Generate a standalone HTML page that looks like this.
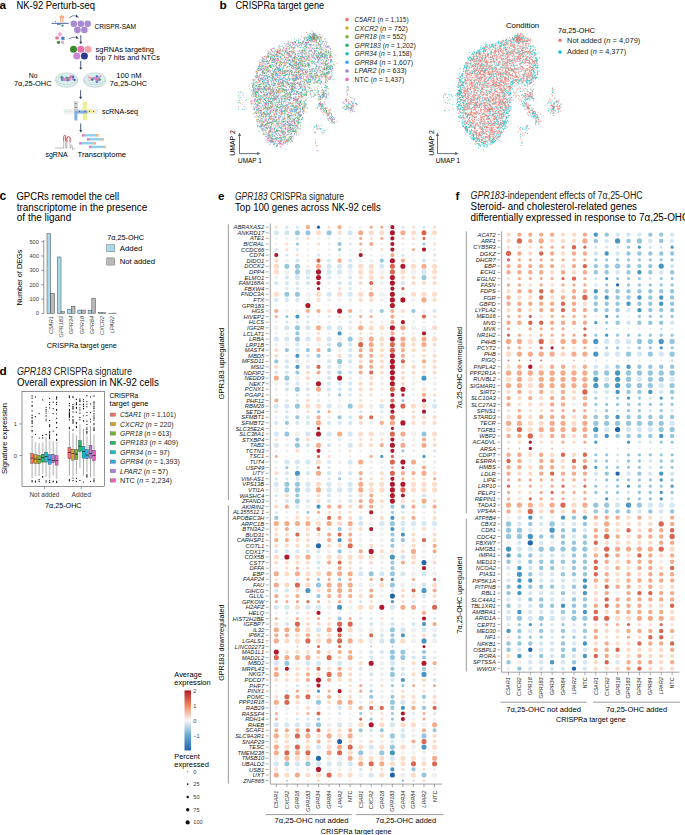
<!DOCTYPE html>
<html><head><meta charset="utf-8"><style>
html,body{margin:0;padding:0;background:#fff;width:685px;height:835px;overflow:hidden}
svg{display:block}
text{font-family:"Liberation Sans",sans-serif}
</style></head><body>
<svg width="685" height="835" viewBox="0 0 685 835">
<rect width="685" height="835" fill="#fff"/>
<path d="M318.5 227.2h0" stroke="#2166ac" stroke-width="3.20" stroke-linecap="round"/>
<path d="M318.5 545.8h0M424.0 562.6h0M392.4 596.1h0M339.6 741.5h0M318.5 758.2h0M392.4 775.0h0" stroke="#2166ac" stroke-width="5.10" stroke-linecap="round"/>
<path d="M402.9 780.6h0" stroke="#4595c5" stroke-width="1.80" stroke-linecap="round"/>
<path d="M381.8 456.4h0M424.0 456.4h0M392.4 579.4h0M392.4 601.7h0M318.5 691.2h0" stroke="#4595c5" stroke-width="3.20" stroke-linecap="round"/>
<path d="M297.4 316.6h0M339.6 333.4h0M297.4 355.8h0M297.4 366.9h0M318.5 506.7h0M392.4 517.9h0M392.4 529.1h0M402.9 534.6h0M339.6 540.2h0M424.0 624.1h0M402.9 635.3h0M402.9 680.0h0M402.9 707.9h0M392.4 769.4h0" stroke="#4595c5" stroke-width="4.20" stroke-linecap="round"/>
<path d="M424.0 378.1h0M297.4 473.2h0M392.4 557.0h0M307.9 590.5h0M424.0 590.5h0M339.6 607.3h0M424.0 640.9h0M424.0 674.4h0M424.0 747.1h0M392.4 752.7h0" stroke="#4595c5" stroke-width="5.10" stroke-linecap="round"/>
<path d="M371.2 646.5h0M392.4 646.5h0M286.9 780.6h0" stroke="#95c6df" stroke-width="1.80" stroke-linecap="round"/>
<path d="M297.4 244.0h0M424.0 244.0h0M339.6 249.6h0M286.9 316.6h0M339.6 394.9h0M402.9 400.5h0M318.5 411.7h0M402.9 450.8h0M286.9 467.6h0M339.6 478.8h0M307.9 512.3h0M392.4 512.3h0M318.5 579.4h0M339.6 579.4h0M392.4 685.6h0M402.9 685.6h0M371.2 691.2h0M360.7 713.5h0M392.4 713.5h0M318.5 719.1h0M371.2 719.1h0M392.4 719.1h0" stroke="#95c6df" stroke-width="3.20" stroke-linecap="round"/>
<path d="M339.6 244.0h0M381.8 260.7h0M381.8 311.0h0M413.5 311.0h0M297.4 333.4h0M286.9 350.2h0M307.9 350.2h0M329.1 350.2h0M318.5 355.8h0M276.3 361.4h0M297.4 372.5h0M339.6 372.5h0M297.4 417.3h0M339.6 417.3h0M286.9 422.9h0M297.4 439.6h0M297.4 495.5h0M392.4 506.7h0M402.9 506.7h0M276.3 517.9h0M339.6 529.1h0M392.4 534.6h0M392.4 540.2h0M402.9 540.2h0M392.4 545.8h0M339.6 551.4h0M392.4 562.6h0M392.4 568.2h0M318.5 596.1h0M339.6 618.5h0M392.4 635.3h0M424.0 652.0h0M424.0 657.6h0M392.4 668.8h0M424.0 668.8h0M371.2 696.8h0M392.4 696.8h0M424.0 696.8h0M392.4 707.9h0M424.0 707.9h0M360.7 730.3h0M381.8 730.3h0M434.6 730.3h0M413.5 769.4h0" stroke="#95c6df" stroke-width="4.20" stroke-linecap="round"/>
<path d="M297.4 232.8h0M307.9 232.8h0M329.1 232.8h0M286.9 266.3h0M297.4 266.3h0M297.4 271.9h0M424.0 277.5h0M286.9 294.3h0M297.4 294.3h0M297.4 327.8h0M297.4 339.0h0M350.2 339.0h0M339.6 344.6h0M339.6 361.4h0M286.9 378.1h0M297.4 389.3h0M297.4 406.1h0M350.2 406.1h0M286.9 434.0h0M424.0 434.0h0M297.4 445.2h0M286.9 484.3h0M297.4 484.3h0M286.9 489.9h0M297.4 489.9h0M297.4 501.1h0M392.4 523.5h0M371.2 573.8h0M392.4 573.8h0M318.5 585.0h0M392.4 585.0h0M392.4 629.7h0M392.4 640.9h0M392.4 652.0h0M402.9 652.0h0M392.4 657.6h0M402.9 657.6h0M286.9 663.2h0M392.4 674.4h0M318.5 702.3h0M392.4 702.3h0M318.5 724.7h0M392.4 735.9h0M424.0 735.9h0M392.4 747.1h0M360.7 752.7h0M381.8 752.7h0M286.9 763.8h0M307.9 763.8h0M424.0 775.0h0" stroke="#95c6df" stroke-width="5.10" stroke-linecap="round"/>
<path d="M307.9 288.7h0M329.1 288.7h0M286.9 428.4h0M434.6 456.4h0" stroke="#d3e6f1" stroke-width="1.80" stroke-linecap="round"/>
<path d="M286.9 227.2h0M297.4 227.2h0M402.9 227.2h0M424.0 227.2h0M297.4 238.4h0M350.2 244.0h0M276.3 249.6h0M297.4 249.6h0M286.9 255.1h0M318.5 255.1h0M402.9 255.1h0M434.6 255.1h0M286.9 288.7h0M297.4 288.7h0M350.2 288.7h0M307.9 316.6h0M329.1 316.6h0M350.2 316.6h0M286.9 322.2h0M297.4 322.2h0M307.9 322.2h0M350.2 322.2h0M297.4 394.9h0M307.9 394.9h0M329.1 394.9h0M350.2 394.9h0M286.9 400.5h0M297.4 400.5h0M318.5 400.5h0M434.6 400.5h0M286.9 411.7h0M360.7 411.7h0M381.8 411.7h0M339.6 439.6h0M402.9 439.6h0M434.6 450.8h0M297.4 467.6h0M329.1 467.6h0M276.3 478.8h0M286.9 478.8h0M329.1 478.8h0M276.3 495.5h0M350.2 495.5h0M276.3 512.3h0M402.9 512.3h0M318.5 568.2h0M360.7 568.2h0M297.4 579.4h0M360.7 601.7h0M413.5 601.7h0M286.9 612.9h0M297.4 612.9h0M360.7 618.5h0M371.2 618.5h0M392.4 618.5h0M434.6 618.5h0M297.4 685.6h0M307.9 685.6h0M371.2 685.6h0M286.9 691.2h0M392.4 691.2h0M339.6 713.5h0M413.5 713.5h0M434.6 713.5h0M297.4 719.1h0M307.9 719.1h0M360.7 769.4h0" stroke="#d3e6f1" stroke-width="3.20" stroke-linecap="round"/>
<path d="M297.4 260.7h0M329.1 260.7h0M350.2 260.7h0M424.0 260.7h0M286.9 277.5h0M307.9 277.5h0M329.1 277.5h0M350.2 277.5h0M276.3 283.1h0M286.9 283.1h0M297.4 283.1h0M307.9 283.1h0M339.6 283.1h0M350.2 283.1h0M402.9 283.1h0M276.3 299.9h0M286.9 299.9h0M297.4 299.9h0M371.2 311.0h0M434.6 311.0h0M297.4 344.6h0M329.1 344.6h0M350.2 344.6h0M297.4 350.2h0M350.2 350.2h0M307.9 355.8h0M350.2 355.8h0M286.9 361.4h0M297.4 361.4h0M329.1 361.4h0M350.2 361.4h0M286.9 366.9h0M307.9 366.9h0M329.1 366.9h0M339.6 366.9h0M276.3 372.5h0M286.9 372.5h0M329.1 372.5h0M350.2 372.5h0M329.1 378.1h0M286.9 383.7h0M297.4 383.7h0M329.1 383.7h0M339.6 383.7h0M350.2 383.7h0M286.9 389.3h0M307.9 389.3h0M329.1 389.3h0M339.6 389.3h0M350.2 389.3h0M286.9 417.3h0M307.9 417.3h0M350.2 417.3h0M276.3 422.9h0M297.4 422.9h0M307.9 422.9h0M329.1 422.9h0M339.6 422.9h0M350.2 422.9h0M307.9 445.2h0M329.1 445.2h0M329.1 462.0h0M286.9 473.2h0M307.9 473.2h0M329.1 473.2h0M339.6 473.2h0M350.2 473.2h0M297.4 478.8h0M329.1 495.5h0M424.0 495.5h0M286.9 501.1h0M307.9 501.1h0M329.1 501.1h0M350.2 501.1h0M297.4 506.7h0M424.0 506.7h0M360.7 517.9h0M402.9 529.1h0M276.3 551.4h0M286.9 551.4h0M297.4 551.4h0M307.9 551.4h0M318.5 551.4h0M318.5 562.6h0M276.3 590.5h0M286.9 590.5h0M392.4 590.5h0M424.0 596.1h0M286.9 624.1h0M371.2 624.1h0M392.4 624.1h0M413.5 624.1h0M381.8 635.3h0M434.6 635.3h0M371.2 652.0h0M381.8 652.0h0M371.2 657.6h0M413.5 657.6h0M360.7 668.8h0M402.9 668.8h0M371.2 674.4h0M402.9 674.4h0M392.4 680.0h0M434.6 680.0h0M339.6 707.9h0M371.2 730.3h0M402.9 730.3h0M392.4 741.5h0" stroke="#d3e6f1" stroke-width="4.20" stroke-linecap="round"/>
<path d="M276.3 232.8h0M286.9 232.8h0M350.2 232.8h0M329.1 266.3h0M339.6 266.3h0M350.2 266.3h0M381.8 266.3h0M307.9 271.9h0M329.1 271.9h0M339.6 271.9h0M424.0 271.9h0M297.4 277.5h0M329.1 294.3h0M350.2 294.3h0M286.9 327.8h0M307.9 327.8h0M329.1 327.8h0M339.6 327.8h0M276.3 339.0h0M286.9 339.0h0M307.9 339.0h0M329.1 339.0h0M276.3 406.1h0M286.9 406.1h0M329.1 406.1h0M381.8 406.1h0M434.6 406.1h0M276.3 434.0h0M307.9 434.0h0M329.1 434.0h0M350.2 434.0h0M276.3 445.2h0M350.2 445.2h0M286.9 462.0h0M297.4 462.0h0M307.9 462.0h0M350.2 462.0h0M276.3 484.3h0M307.9 484.3h0M329.1 484.3h0M350.2 484.3h0M307.9 489.9h0M329.1 489.9h0M339.6 489.9h0M350.2 489.9h0M360.7 523.5h0M381.8 523.5h0M402.9 523.5h0M413.5 523.5h0M424.0 523.5h0M434.6 523.5h0M402.9 557.0h0M360.7 573.8h0M381.8 573.8h0M402.9 573.8h0M424.0 573.8h0M424.0 585.0h0M276.3 607.3h0M286.9 607.3h0M307.9 607.3h0M318.5 607.3h0M392.4 607.3h0M318.5 629.7h0M402.9 629.7h0M424.0 629.7h0M381.8 640.9h0M276.3 663.2h0M307.9 663.2h0M318.5 663.2h0M339.6 663.2h0M392.4 663.2h0M402.9 702.3h0M276.3 724.7h0M286.9 724.7h0M297.4 724.7h0M307.9 724.7h0M339.6 724.7h0M392.4 724.7h0M402.9 735.9h0M318.5 747.1h0M371.2 747.1h0M392.4 758.2h0M276.3 763.8h0M297.4 763.8h0M318.5 763.8h0M329.1 763.8h0M339.6 763.8h0M350.2 763.8h0M371.2 775.0h0" stroke="#d3e6f1" stroke-width="5.10" stroke-linecap="round"/>
<path d="M276.3 288.7h0M381.8 288.7h0M413.5 288.7h0M424.0 288.7h0M434.6 288.7h0M276.3 305.5h0M286.9 305.5h0M297.4 305.5h0M318.5 305.5h0M329.1 305.5h0M339.6 305.5h0M350.2 305.5h0M360.7 305.5h0M371.2 305.5h0M381.8 305.5h0M402.9 305.5h0M413.5 305.5h0M424.0 305.5h0M434.6 305.5h0M297.4 428.4h0M307.9 428.4h0M329.1 428.4h0M339.6 428.4h0M350.2 428.4h0M360.7 428.4h0M371.2 428.4h0M381.8 428.4h0M413.5 428.4h0M434.6 428.4h0M286.9 456.4h0M297.4 456.4h0M307.9 456.4h0M339.6 456.4h0M360.7 456.4h0M413.5 456.4h0M339.6 467.6h0M286.9 579.4h0M402.9 579.4h0M424.0 579.4h0M276.3 646.5h0M286.9 646.5h0M360.7 646.5h0M381.8 646.5h0M402.9 646.5h0M413.5 646.5h0M434.6 646.5h0M276.3 780.6h0M339.6 780.6h0M360.7 780.6h0M371.2 780.6h0M381.8 780.6h0M392.4 780.6h0M434.6 780.6h0" stroke="#f0f0f0" stroke-width="1.80" stroke-linecap="round"/>
<path d="M350.2 227.2h0M360.7 227.2h0M276.3 238.4h0M286.9 238.4h0M318.5 238.4h0M329.1 238.4h0M339.6 238.4h0M350.2 238.4h0M434.6 238.4h0M276.3 244.0h0M307.9 244.0h0M329.1 244.0h0M381.8 244.0h0M402.9 244.0h0M413.5 244.0h0M307.9 249.6h0M329.1 249.6h0M350.2 249.6h0M371.2 249.6h0M402.9 249.6h0M434.6 249.6h0M307.9 255.1h0M329.1 255.1h0M339.6 255.1h0M350.2 255.1h0M371.2 255.1h0M381.8 255.1h0M413.5 255.1h0M424.0 255.1h0M307.9 260.7h0M318.5 316.6h0M381.8 316.6h0M402.9 316.6h0M413.5 316.6h0M276.3 322.2h0M318.5 322.2h0M329.1 322.2h0M339.6 322.2h0M381.8 322.2h0M413.5 322.2h0M424.0 322.2h0M434.6 322.2h0M276.3 333.4h0M286.9 333.4h0M307.9 333.4h0M329.1 333.4h0M350.2 333.4h0M381.8 333.4h0M413.5 333.4h0M434.6 333.4h0M276.3 394.9h0M286.9 394.9h0M318.5 394.9h0M381.8 394.9h0M413.5 394.9h0M329.1 400.5h0M339.6 400.5h0M350.2 400.5h0M371.2 400.5h0M413.5 400.5h0M297.4 411.7h0M339.6 411.7h0M350.2 411.7h0M371.2 411.7h0M402.9 411.7h0M434.6 411.7h0M286.9 439.6h0M318.5 439.6h0M329.1 439.6h0M350.2 439.6h0M413.5 439.6h0M276.3 450.8h0M286.9 450.8h0M307.9 450.8h0M329.1 450.8h0M339.6 450.8h0M360.7 450.8h0M371.2 450.8h0M381.8 450.8h0M413.5 450.8h0M424.0 450.8h0M276.3 467.6h0M307.9 467.6h0M350.2 467.6h0M360.7 467.6h0M371.2 467.6h0M381.8 467.6h0M413.5 467.6h0M434.6 467.6h0M307.9 478.8h0M318.5 478.8h0M350.2 478.8h0M307.9 495.5h0M339.6 495.5h0M381.8 495.5h0M413.5 495.5h0M434.6 495.5h0M286.9 512.3h0M360.7 512.3h0M381.8 512.3h0M424.0 512.3h0M286.9 517.9h0M424.0 517.9h0M276.3 568.2h0M329.1 568.2h0M371.2 568.2h0M381.8 568.2h0M402.9 568.2h0M413.5 568.2h0M434.6 568.2h0M381.8 601.7h0M424.0 601.7h0M276.3 612.9h0M329.1 612.9h0M339.6 612.9h0M350.2 612.9h0M360.7 612.9h0M371.2 612.9h0M381.8 612.9h0M392.4 612.9h0M402.9 612.9h0M413.5 612.9h0M434.6 612.9h0M286.9 618.5h0M402.9 618.5h0M413.5 618.5h0M276.3 685.6h0M286.9 685.6h0M329.1 685.6h0M339.6 685.6h0M276.3 691.2h0M381.8 691.2h0M413.5 691.2h0M434.6 691.2h0M286.9 713.5h0M329.1 713.5h0M350.2 713.5h0M286.9 719.1h0M329.1 719.1h0M339.6 719.1h0M350.2 719.1h0M413.5 719.1h0M434.6 719.1h0M434.6 769.4h0" stroke="#f0f0f0" stroke-width="3.20" stroke-linecap="round"/>
<path d="M286.9 260.7h0M360.7 260.7h0M371.2 260.7h0M413.5 260.7h0M434.6 260.7h0M307.9 266.3h0M276.3 277.5h0M339.6 277.5h0M329.1 283.1h0M381.8 283.1h0M307.9 299.9h0M329.1 299.9h0M339.6 299.9h0M350.2 299.9h0M381.8 299.9h0M413.5 299.9h0M286.9 311.0h0M297.4 311.0h0M360.7 311.0h0M424.0 311.0h0M276.3 344.6h0M286.9 344.6h0M307.9 344.6h0M318.5 344.6h0M339.6 350.2h0M434.6 350.2h0M286.9 355.8h0M329.1 355.8h0M413.5 355.8h0M307.9 361.4h0M318.5 361.4h0M413.5 361.4h0M350.2 366.9h0M318.5 378.1h0M350.2 378.1h0M360.7 378.1h0M381.8 378.1h0M413.5 378.1h0M434.6 378.1h0M276.3 383.7h0M307.9 383.7h0M381.8 383.7h0M413.5 383.7h0M424.0 383.7h0M434.6 383.7h0M276.3 389.3h0M381.8 389.3h0M413.5 389.3h0M434.6 389.3h0M276.3 417.3h0M329.1 417.3h0M381.8 417.3h0M402.9 417.3h0M371.2 422.9h0M286.9 445.2h0M339.6 445.2h0M413.5 445.2h0M276.3 462.0h0M339.6 462.0h0M371.2 462.0h0M381.8 462.0h0M424.0 462.0h0M434.6 462.0h0M371.2 473.2h0M276.3 501.1h0M339.6 501.1h0M307.9 506.7h0M381.8 506.7h0M318.5 517.9h0M297.4 529.1h0M329.1 529.1h0M381.8 529.1h0M413.5 529.1h0M434.6 529.1h0M360.7 534.6h0M371.2 534.6h0M381.8 534.6h0M424.0 534.6h0M318.5 540.2h0M360.7 540.2h0M371.2 540.2h0M381.8 540.2h0M360.7 545.8h0M381.8 545.8h0M402.9 545.8h0M424.0 545.8h0M329.1 551.4h0M350.2 551.4h0M424.0 551.4h0M424.0 557.0h0M360.7 562.6h0M381.8 562.6h0M360.7 590.5h0M381.8 590.5h0M307.9 596.1h0M381.8 596.1h0M360.7 624.1h0M381.8 624.1h0M402.9 624.1h0M350.2 635.3h0M360.7 635.3h0M413.5 635.3h0M360.7 652.0h0M413.5 652.0h0M434.6 652.0h0M360.7 657.6h0M381.8 657.6h0M434.6 657.6h0M329.1 663.2h0M350.2 663.2h0M381.8 663.2h0M402.9 663.2h0M371.2 668.8h0M381.8 668.8h0M413.5 668.8h0M434.6 668.8h0M360.7 674.4h0M381.8 674.4h0M434.6 674.4h0M360.7 680.0h0M371.2 680.0h0M381.8 680.0h0M413.5 680.0h0M360.7 696.8h0M381.8 696.8h0M307.9 702.3h0M360.7 702.3h0M381.8 702.3h0M424.0 702.3h0M276.3 707.9h0M286.9 707.9h0M297.4 707.9h0M318.5 707.9h0M329.1 707.9h0M392.4 730.3h0M413.5 730.3h0M360.7 735.9h0M371.2 735.9h0M413.5 735.9h0M297.4 741.5h0M360.7 741.5h0M381.8 741.5h0M402.9 741.5h0M318.5 752.7h0M371.2 752.7h0M402.9 752.7h0M413.5 752.7h0M424.0 752.7h0M434.6 752.7h0M286.9 769.4h0M297.4 769.4h0M307.9 769.4h0M329.1 769.4h0M339.6 769.4h0M350.2 769.4h0" stroke="#f0f0f0" stroke-width="4.20" stroke-linecap="round"/>
<path d="M286.9 271.9h0M350.2 271.9h0M381.8 271.9h0M413.5 271.9h0M307.9 294.3h0M381.8 294.3h0M402.9 294.3h0M276.3 327.8h0M350.2 327.8h0M413.5 327.8h0M424.0 327.8h0M339.6 339.0h0M297.4 378.1h0M339.6 406.1h0M371.2 406.1h0M297.4 434.0h0M381.8 434.0h0M413.5 434.0h0M339.6 484.3h0M276.3 489.9h0M371.2 523.5h0M318.5 557.0h0M381.8 557.0h0M434.6 557.0h0M413.5 573.8h0M434.6 573.8h0M360.7 585.0h0M371.2 585.0h0M402.9 585.0h0M413.5 585.0h0M329.1 607.3h0M350.2 607.3h0M424.0 607.3h0M360.7 629.7h0M371.2 629.7h0M381.8 629.7h0M413.5 629.7h0M434.6 629.7h0M371.2 640.9h0M413.5 640.9h0M434.6 640.9h0M297.4 663.2h0M329.1 724.7h0M350.2 724.7h0M424.0 724.7h0M413.5 747.1h0M276.3 758.2h0M329.1 758.2h0M339.6 758.2h0M424.0 758.2h0M360.7 775.0h0M402.9 775.0h0M434.6 775.0h0" stroke="#f0f0f0" stroke-width="5.10" stroke-linecap="round"/>
<path d="M318.5 249.6h0M360.7 288.7h0M276.3 428.4h0M402.9 428.4h0M424.0 428.4h0M350.2 456.4h0M402.9 456.4h0M360.7 579.4h0M307.9 646.5h0M329.1 646.5h0M350.2 646.5h0M297.4 780.6h0M307.9 780.6h0M329.1 780.6h0M350.2 780.6h0" stroke="#fcdcc9" stroke-width="1.80" stroke-linecap="round"/>
<path d="M276.3 227.2h0M329.1 227.2h0M413.5 227.2h0M434.6 227.2h0M307.9 238.4h0M371.2 238.4h0M402.9 238.4h0M413.5 238.4h0M286.9 244.0h0M318.5 244.0h0M434.6 244.0h0M286.9 249.6h0M360.7 249.6h0M381.8 249.6h0M297.4 255.1h0M339.6 288.7h0M371.2 288.7h0M339.6 316.6h0M434.6 316.6h0M360.7 322.2h0M371.2 322.2h0M318.5 333.4h0M360.7 333.4h0M371.2 333.4h0M402.9 333.4h0M360.7 394.9h0M371.2 394.9h0M434.6 394.9h0M360.7 400.5h0M381.8 400.5h0M276.3 411.7h0M307.9 411.7h0M413.5 411.7h0M276.3 439.6h0M360.7 439.6h0M371.2 439.6h0M381.8 439.6h0M434.6 439.6h0M350.2 450.8h0M329.1 456.4h0M371.2 478.8h0M381.8 478.8h0M413.5 478.8h0M424.0 478.8h0M297.4 512.3h0M329.1 512.3h0M339.6 512.3h0M350.2 512.3h0M413.5 512.3h0M434.6 512.3h0M371.2 517.9h0M286.9 568.2h0M307.9 568.2h0M350.2 568.2h0M276.3 579.4h0M329.1 601.7h0M350.2 601.7h0M371.2 601.7h0M402.9 601.7h0M434.6 601.7h0M307.9 612.9h0M307.9 618.5h0M329.1 618.5h0M381.8 618.5h0M350.2 685.6h0M381.8 685.6h0M424.0 685.6h0M307.9 691.2h0M350.2 691.2h0M402.9 691.2h0M424.0 691.2h0M297.4 713.5h0M371.2 713.5h0M381.8 713.5h0M381.8 719.1h0M371.2 769.4h0M381.8 769.4h0M402.9 769.4h0M424.0 769.4h0" stroke="#fcdcc9" stroke-width="3.20" stroke-linecap="round"/>
<path d="M339.6 232.8h0M276.3 260.7h0M360.7 277.5h0M381.8 277.5h0M402.9 277.5h0M413.5 277.5h0M434.6 277.5h0M360.7 283.1h0M413.5 283.1h0M424.0 283.1h0M434.6 283.1h0M318.5 299.9h0M360.7 299.9h0M371.2 299.9h0M434.6 299.9h0M329.1 311.0h0M402.9 311.0h0M381.8 344.6h0M413.5 344.6h0M434.6 344.6h0M276.3 350.2h0M381.8 350.2h0M413.5 350.2h0M424.0 350.2h0M276.3 355.8h0M339.6 355.8h0M381.8 355.8h0M424.0 355.8h0M434.6 355.8h0M360.7 361.4h0M381.8 361.4h0M434.6 361.4h0M276.3 366.9h0M381.8 366.9h0M402.9 366.9h0M413.5 366.9h0M424.0 366.9h0M434.6 366.9h0M307.9 372.5h0M381.8 372.5h0M402.9 372.5h0M413.5 372.5h0M424.0 372.5h0M434.6 372.5h0M307.9 378.1h0M371.2 378.1h0M402.9 378.1h0M360.7 383.7h0M371.2 383.7h0M402.9 383.7h0M360.7 389.3h0M371.2 389.3h0M424.0 389.3h0M307.9 400.5h0M413.5 417.3h0M424.0 417.3h0M434.6 417.3h0M360.7 422.9h0M413.5 422.9h0M424.0 422.9h0M434.6 422.9h0M307.9 439.6h0M360.7 445.2h0M371.2 445.2h0M434.6 445.2h0M297.4 450.8h0M276.3 473.2h0M381.8 473.2h0M434.6 473.2h0M286.9 495.5h0M318.5 495.5h0M360.7 495.5h0M318.5 501.1h0M381.8 501.1h0M402.9 501.1h0M413.5 501.1h0M434.6 501.1h0M276.3 506.7h0M350.2 506.7h0M297.4 517.9h0M307.9 517.9h0M350.2 517.9h0M381.8 517.9h0M402.9 517.9h0M434.6 517.9h0M276.3 529.1h0M307.9 529.1h0M350.2 529.1h0M360.7 529.1h0M424.0 529.1h0M276.3 534.6h0M286.9 534.6h0M307.9 534.6h0M318.5 534.6h0M413.5 534.6h0M434.6 534.6h0M297.4 540.2h0M307.9 540.2h0M413.5 540.2h0M434.6 540.2h0M276.3 545.8h0M286.9 545.8h0M297.4 545.8h0M307.9 545.8h0M329.1 545.8h0M339.6 545.8h0M371.2 545.8h0M413.5 545.8h0M381.8 551.4h0M392.4 551.4h0M402.9 551.4h0M276.3 562.6h0M286.9 562.6h0M297.4 562.6h0M307.9 562.6h0M350.2 562.6h0M371.2 562.6h0M413.5 562.6h0M434.6 562.6h0M297.4 590.5h0M318.5 590.5h0M402.9 590.5h0M286.9 596.1h0M360.7 596.1h0M402.9 596.1h0M413.5 596.1h0M434.6 596.1h0M276.3 624.1h0M307.9 624.1h0M318.5 624.1h0M329.1 624.1h0M297.4 635.3h0M318.5 635.3h0M329.1 635.3h0M424.0 635.3h0M286.9 652.0h0M297.4 652.0h0M307.9 652.0h0M329.1 652.0h0M318.5 657.6h0M339.6 657.6h0M360.7 663.2h0M413.5 663.2h0M297.4 668.8h0M307.9 668.8h0M329.1 668.8h0M350.2 668.8h0M286.9 674.4h0M297.4 674.4h0M318.5 674.4h0M350.2 674.4h0M413.5 674.4h0M276.3 680.0h0M286.9 680.0h0M297.4 680.0h0M339.6 680.0h0M350.2 680.0h0M424.0 680.0h0M276.3 696.8h0M318.5 696.8h0M339.6 696.8h0M350.2 696.8h0M402.9 696.8h0M413.5 696.8h0M434.6 696.8h0M297.4 702.3h0M329.1 702.3h0M371.2 702.3h0M413.5 702.3h0M434.6 702.3h0M307.9 707.9h0M350.2 707.9h0M329.1 730.3h0M339.6 730.3h0M318.5 735.9h0M381.8 735.9h0M434.6 735.9h0M276.3 741.5h0M286.9 741.5h0M307.9 741.5h0M329.1 741.5h0M350.2 741.5h0M371.2 741.5h0M434.6 741.5h0M276.3 769.4h0" stroke="#fcdcc9" stroke-width="4.20" stroke-linecap="round"/>
<path d="M318.5 232.8h0M371.2 232.8h0M381.8 232.8h0M413.5 232.8h0M434.6 232.8h0M276.3 266.3h0M360.7 266.3h0M371.2 266.3h0M413.5 266.3h0M434.6 266.3h0M276.3 271.9h0M360.7 271.9h0M371.2 271.9h0M402.9 271.9h0M434.6 271.9h0M371.2 277.5h0M276.3 294.3h0M318.5 294.3h0M339.6 294.3h0M360.7 294.3h0M413.5 294.3h0M424.0 294.3h0M434.6 294.3h0M371.2 327.8h0M381.8 327.8h0M434.6 327.8h0M318.5 339.0h0M360.7 339.0h0M381.8 339.0h0M413.5 339.0h0M434.6 339.0h0M307.9 406.1h0M318.5 406.1h0M360.7 406.1h0M413.5 406.1h0M424.0 406.1h0M360.7 434.0h0M371.2 434.0h0M434.6 434.0h0M318.5 462.0h0M318.5 484.3h0M371.2 484.3h0M381.8 484.3h0M413.5 484.3h0M424.0 484.3h0M434.6 484.3h0M371.2 489.9h0M381.8 489.9h0M413.5 489.9h0M424.0 489.9h0M434.6 489.9h0M318.5 523.5h0M339.6 523.5h0M276.3 557.0h0M297.4 557.0h0M329.1 557.0h0M339.6 557.0h0M350.2 557.0h0M360.7 557.0h0M371.2 557.0h0M413.5 557.0h0M286.9 573.8h0M307.9 573.8h0M318.5 573.8h0M286.9 585.0h0M307.9 585.0h0M381.8 585.0h0M434.6 585.0h0M297.4 607.3h0M360.7 607.3h0M371.2 607.3h0M307.9 629.7h0M350.2 629.7h0M286.9 640.9h0M297.4 640.9h0M318.5 640.9h0M360.7 640.9h0M402.9 640.9h0M360.7 724.7h0M381.8 724.7h0M402.9 724.7h0M413.5 724.7h0M286.9 735.9h0M339.6 735.9h0M286.9 747.1h0M307.9 747.1h0M329.1 747.1h0M360.7 747.1h0M381.8 747.1h0M402.9 747.1h0M434.6 747.1h0M350.2 752.7h0M297.4 758.2h0M307.9 758.2h0M360.7 758.2h0M371.2 758.2h0M381.8 758.2h0M402.9 758.2h0M413.5 758.2h0M392.4 763.8h0M402.9 763.8h0M424.0 763.8h0M286.9 775.0h0M307.9 775.0h0M318.5 775.0h0M339.6 775.0h0M350.2 775.0h0M381.8 775.0h0M413.5 775.0h0" stroke="#fcdcc9" stroke-width="5.10" stroke-linecap="round"/>
<path d="M297.4 646.5h0M318.5 780.6h0M413.5 780.6h0M424.0 780.6h0" stroke="#f5ab8a" stroke-width="1.80" stroke-linecap="round"/>
<path d="M371.2 227.2h0M381.8 227.2h0M360.7 238.4h0M381.8 238.4h0M360.7 244.0h0M413.5 249.6h0M276.3 316.6h0M360.7 316.6h0M371.2 316.6h0M329.1 411.7h0M276.3 456.4h0M371.2 456.4h0M392.4 467.6h0M360.7 478.8h0M402.9 478.8h0M434.6 478.8h0M318.5 512.3h0M297.4 568.2h0M307.9 579.4h0M329.1 579.4h0M350.2 579.4h0M371.2 579.4h0M413.5 579.4h0M276.3 601.7h0M286.9 601.7h0M297.4 601.7h0M318.5 601.7h0M339.6 601.7h0M276.3 618.5h0M297.4 618.5h0M318.5 618.5h0M350.2 618.5h0M360.7 685.6h0M413.5 685.6h0M434.6 685.6h0M297.4 691.2h0M329.1 691.2h0M360.7 691.2h0M276.3 713.5h0M307.9 713.5h0M424.0 713.5h0M276.3 719.1h0M424.0 719.1h0" stroke="#f5ab8a" stroke-width="3.20" stroke-linecap="round"/>
<path d="M307.9 227.2h0M339.6 227.2h0M371.2 244.0h0M392.4 255.1h0M339.6 260.7h0M402.9 260.7h0M276.3 311.0h0M307.9 311.0h0M318.5 311.0h0M350.2 311.0h0M392.4 311.0h0M392.4 316.6h0M392.4 322.2h0M392.4 333.4h0M318.5 350.2h0M360.7 350.2h0M371.2 350.2h0M402.9 350.2h0M360.7 355.8h0M371.2 355.8h0M402.9 355.8h0M371.2 361.4h0M424.0 361.4h0M360.7 366.9h0M371.2 366.9h0M318.5 372.5h0M360.7 372.5h0M424.0 394.9h0M276.3 400.5h0M318.5 417.3h0M360.7 417.3h0M381.8 422.9h0M424.0 439.6h0M381.8 445.2h0M424.0 467.6h0M360.7 473.2h0M402.9 473.2h0M413.5 473.2h0M371.2 495.5h0M360.7 501.1h0M286.9 506.7h0M329.1 506.7h0M339.6 506.7h0M360.7 506.7h0M371.2 506.7h0M413.5 506.7h0M434.6 506.7h0M339.6 517.9h0M413.5 517.9h0M286.9 529.1h0M329.1 534.6h0M350.2 534.6h0M276.3 540.2h0M286.9 540.2h0M329.1 540.2h0M350.2 540.2h0M434.6 545.8h0M360.7 551.4h0M434.6 551.4h0M329.1 562.6h0M402.9 562.6h0M339.6 568.2h0M329.1 590.5h0M350.2 590.5h0M371.2 590.5h0M434.6 590.5h0M276.3 596.1h0M297.4 596.1h0M329.1 596.1h0M339.6 596.1h0M350.2 596.1h0M371.2 596.1h0M424.0 612.9h0M434.6 624.1h0M276.3 635.3h0M286.9 635.3h0M307.9 635.3h0M318.5 652.0h0M339.6 652.0h0M350.2 652.0h0M434.6 663.2h0M276.3 668.8h0M339.6 668.8h0M307.9 674.4h0M307.9 680.0h0M329.1 680.0h0M297.4 696.8h0M329.1 696.8h0M360.7 707.9h0M413.5 707.9h0M276.3 730.3h0M286.9 730.3h0M297.4 730.3h0M350.2 730.3h0M424.0 730.3h0M318.5 741.5h0M413.5 741.5h0" stroke="#f5ab8a" stroke-width="4.20" stroke-linecap="round"/>
<path d="M360.7 232.8h0M402.9 232.8h0M318.5 266.3h0M424.0 266.3h0M371.2 294.3h0M424.0 299.9h0M318.5 327.8h0M360.7 327.8h0M402.9 327.8h0M371.2 339.0h0M402.9 339.0h0M424.0 339.0h0M371.2 344.6h0M402.9 344.6h0M424.0 344.6h0M276.3 378.1h0M318.5 389.3h0M318.5 422.9h0M392.4 422.9h0M339.6 434.0h0M402.9 434.0h0M318.5 445.2h0M402.9 445.2h0M424.0 445.2h0M360.7 462.0h0M413.5 462.0h0M318.5 473.2h0M424.0 473.2h0M360.7 484.3h0M318.5 489.9h0M360.7 489.9h0M371.2 501.1h0M424.0 501.1h0M276.3 523.5h0M286.9 523.5h0M297.4 523.5h0M307.9 523.5h0M329.1 523.5h0M350.2 523.5h0M413.5 551.4h0M307.9 557.0h0M276.3 573.8h0M297.4 573.8h0M329.1 573.8h0M339.6 573.8h0M350.2 573.8h0M276.3 585.0h0M329.1 585.0h0M339.6 585.0h0M350.2 585.0h0M339.6 590.5h0M402.9 607.3h0M413.5 607.3h0M276.3 629.7h0M286.9 629.7h0M297.4 629.7h0M329.1 629.7h0M276.3 640.9h0M329.1 640.9h0M350.2 640.9h0M286.9 657.6h0M297.4 657.6h0M307.9 657.6h0M350.2 657.6h0M276.3 674.4h0M339.6 674.4h0M276.3 702.3h0M339.6 702.3h0M350.2 702.3h0M434.6 724.7h0M276.3 735.9h0M307.9 735.9h0M329.1 735.9h0M350.2 735.9h0M276.3 747.1h0M339.6 747.1h0M276.3 752.7h0M297.4 752.7h0M329.1 752.7h0M286.9 758.2h0M350.2 758.2h0M434.6 758.2h0M360.7 763.8h0M381.8 763.8h0M276.3 775.0h0M297.4 775.0h0" stroke="#f5ab8a" stroke-width="5.10" stroke-linecap="round"/>
<path d="M424.0 238.4h0M402.9 288.7h0M318.5 456.4h0M392.4 456.4h0M318.5 467.6h0M381.8 579.4h0M434.6 579.4h0M307.9 601.7h0M318.5 646.5h0M339.6 646.5h0M360.7 719.1h0" stroke="#da6650" stroke-width="3.20" stroke-linecap="round"/>
<path d="M318.5 260.7h0M371.2 283.1h0M424.0 316.6h0M402.9 361.4h0M318.5 366.9h0M371.2 372.5h0M392.4 400.5h0M371.2 417.3h0M329.1 517.9h0M318.5 529.1h0M297.4 534.6h0M339.6 534.6h0M424.0 540.2h0M339.6 562.6h0M413.5 590.5h0M339.6 635.3h0M371.2 635.3h0M318.5 668.8h0M371.2 707.9h0M381.8 707.9h0M434.6 707.9h0M318.5 713.5h0M307.9 730.3h0M318.5 730.3h0" stroke="#da6650" stroke-width="4.20" stroke-linecap="round"/>
<path d="M424.0 232.8h0M392.4 266.3h0M392.4 271.9h0M360.7 344.6h0M392.4 344.6h0M392.4 350.2h0M392.4 389.3h0M402.9 406.1h0M392.4 417.3h0M392.4 434.0h0M392.4 462.0h0M392.4 473.2h0M402.9 489.9h0M350.2 545.8h0M297.4 585.0h0M434.6 607.3h0M297.4 624.1h0M339.6 624.1h0M350.2 624.1h0M307.9 640.9h0M339.6 640.9h0M276.3 657.6h0M329.1 657.6h0M329.1 674.4h0M286.9 696.8h0M307.9 696.8h0M286.9 702.3h0M297.4 735.9h0M424.0 741.5h0M297.4 747.1h0M350.2 747.1h0M286.9 752.7h0M307.9 752.7h0M339.6 752.7h0M371.2 763.8h0M413.5 763.8h0M434.6 763.8h0M329.1 775.0h0" stroke="#da6650" stroke-width="5.10" stroke-linecap="round"/>
<path d="M318.5 288.7h0M402.9 394.9h0M318.5 428.4h0M392.4 428.4h0M402.9 467.6h0M424.0 646.5h0" stroke="#b2182b" stroke-width="3.20" stroke-linecap="round"/>
<path d="M392.4 227.2h0M392.4 238.4h0M392.4 244.0h0M392.4 249.6h0M424.0 249.6h0M276.3 255.1h0M360.7 255.1h0M318.5 283.1h0M392.4 288.7h0M402.9 322.2h0M424.0 333.4h0M392.4 394.9h0M424.0 400.5h0M392.4 411.7h0M424.0 411.7h0M392.4 439.6h0M318.5 450.8h0M392.4 450.8h0M392.4 478.8h0M402.9 495.5h0M371.2 512.3h0M371.2 529.1h0M424.0 568.2h0M318.5 612.9h0M424.0 618.5h0M286.9 668.8h0M318.5 685.6h0M339.6 691.2h0M402.9 713.5h0M402.9 719.1h0" stroke="#b2182b" stroke-width="4.20" stroke-linecap="round"/>
<path d="M392.4 232.8h0M392.4 260.7h0M402.9 266.3h0M318.5 271.9h0M318.5 277.5h0M392.4 277.5h0M392.4 283.1h0M392.4 294.3h0M392.4 299.9h0M402.9 299.9h0M307.9 305.5h0M392.4 305.5h0M339.6 311.0h0M392.4 327.8h0M392.4 339.0h0M392.4 355.8h0M392.4 361.4h0M392.4 366.9h0M392.4 372.5h0M339.6 378.1h0M392.4 378.1h0M318.5 383.7h0M392.4 383.7h0M402.9 389.3h0M392.4 406.1h0M402.9 422.9h0M318.5 434.0h0M392.4 445.2h0M402.9 462.0h0M392.4 484.3h0M402.9 484.3h0M392.4 489.9h0M392.4 495.5h0M392.4 501.1h0M371.2 551.4h0M286.9 557.0h0M381.8 607.3h0M339.6 629.7h0M276.3 652.0h0M371.2 663.2h0M424.0 663.2h0M318.5 680.0h0M371.2 724.7h0M318.5 769.4h0" stroke="#b2182b" stroke-width="5.10" stroke-linecap="round"/>
<text x="264.20" y="229.29" font-size="5.8" text-anchor="end" font-style="italic" fill="#222">ABRAXAS2</text>
<text x="264.20" y="234.88" font-size="5.8" text-anchor="end" font-style="italic" fill="#222">ANKRD17</text>
<text x="264.20" y="240.47" font-size="5.8" text-anchor="end" font-style="italic" fill="#222">ATE1</text>
<text x="264.20" y="246.06" font-size="5.8" text-anchor="end" font-style="italic" fill="#222">BICRAL</text>
<text x="264.20" y="251.65" font-size="5.8" text-anchor="end" font-style="italic" fill="#222">CCDC66</text>
<text x="264.20" y="257.24" font-size="5.8" text-anchor="end" font-style="italic" fill="#222">CD74</text>
<text x="264.20" y="262.83" font-size="5.8" text-anchor="end" font-style="italic" fill="#222">DIDO1</text>
<text x="264.20" y="268.42" font-size="5.8" text-anchor="end" font-style="italic" fill="#222">DOCK2</text>
<text x="264.20" y="274.01" font-size="5.8" text-anchor="end" font-style="italic" fill="#222">DPP4</text>
<text x="264.20" y="279.60" font-size="5.8" text-anchor="end" font-style="italic" fill="#222">ELMO1</text>
<text x="264.20" y="285.19" font-size="5.8" text-anchor="end" font-style="italic" fill="#222">FAM168A</text>
<text x="264.20" y="290.78" font-size="5.8" text-anchor="end" font-style="italic" fill="#222">FBXW4</text>
<text x="264.20" y="296.37" font-size="5.8" text-anchor="end" font-style="italic" fill="#222">FNDC3A</text>
<text x="264.20" y="301.96" font-size="5.8" text-anchor="end" font-style="italic" fill="#222">FTX</text>
<text x="264.20" y="307.55" font-size="5.8" text-anchor="end" fill="#222">GPR183</text>
<text x="264.20" y="313.14" font-size="5.8" text-anchor="end" font-style="italic" fill="#222">HGS</text>
<text x="264.20" y="318.73" font-size="5.8" text-anchor="end" font-style="italic" fill="#222">HIVEP2</text>
<text x="264.20" y="324.32" font-size="5.8" text-anchor="end" font-style="italic" fill="#222">HLCS</text>
<text x="264.20" y="329.91" font-size="5.8" text-anchor="end" font-style="italic" fill="#222">IGF2R</text>
<text x="264.20" y="335.50" font-size="5.8" text-anchor="end" font-style="italic" fill="#222">LCLAT1</text>
<text x="264.20" y="341.09" font-size="5.8" text-anchor="end" font-style="italic" fill="#222">LRBA</text>
<text x="264.20" y="346.68" font-size="5.8" text-anchor="end" font-style="italic" fill="#222">LRP1B</text>
<text x="264.20" y="352.27" font-size="5.8" text-anchor="end" font-style="italic" fill="#222">MAST4</text>
<text x="264.20" y="357.86" font-size="5.8" text-anchor="end" font-style="italic" fill="#222">MBD5</text>
<text x="264.20" y="363.45" font-size="5.8" text-anchor="end" font-style="italic" fill="#222">MFSD11</text>
<text x="264.20" y="369.04" font-size="5.8" text-anchor="end" font-style="italic" fill="#222">MSI2</text>
<text x="264.20" y="374.63" font-size="5.8" text-anchor="end" font-style="italic" fill="#222">NDFIP2</text>
<text x="264.20" y="380.22" font-size="5.8" text-anchor="end" font-style="italic" fill="#222">NEDD9</text>
<text x="264.20" y="385.81" font-size="5.8" text-anchor="end" font-style="italic" fill="#222">NEK7</text>
<text x="264.20" y="391.40" font-size="5.8" text-anchor="end" font-style="italic" fill="#222">PCNX1</text>
<text x="264.20" y="396.99" font-size="5.8" text-anchor="end" font-style="italic" fill="#222">PGAP1</text>
<text x="264.20" y="402.58" font-size="5.8" text-anchor="end" font-style="italic" fill="#222">PHF12</text>
<text x="264.20" y="408.17" font-size="5.8" text-anchor="end" font-style="italic" fill="#222">RBM26</text>
<text x="264.20" y="413.76" font-size="5.8" text-anchor="end" font-style="italic" fill="#222">SETD4</text>
<text x="264.20" y="419.35" font-size="5.8" text-anchor="end" font-style="italic" fill="#222">SFMBT1</text>
<text x="264.20" y="424.94" font-size="5.8" text-anchor="end" font-style="italic" fill="#222">SFMBT2</text>
<text x="264.20" y="430.53" font-size="5.8" text-anchor="end" font-style="italic" fill="#222">SLC35E2A</text>
<text x="264.20" y="436.12" font-size="5.8" text-anchor="end" font-style="italic" fill="#222">SLC38A1</text>
<text x="264.20" y="441.71" font-size="5.8" text-anchor="end" font-style="italic" fill="#222">STXBP4</text>
<text x="264.20" y="447.30" font-size="5.8" text-anchor="end" font-style="italic" fill="#222">TAB2</text>
<text x="264.20" y="452.89" font-size="5.8" text-anchor="end" font-style="italic" fill="#222">TCTN3</text>
<text x="264.20" y="458.48" font-size="5.8" text-anchor="end" font-style="italic" fill="#222">TSC1</text>
<text x="264.20" y="464.07" font-size="5.8" text-anchor="end" font-style="italic" fill="#222">TUT4</text>
<text x="264.20" y="469.66" font-size="5.8" text-anchor="end" font-style="italic" fill="#222">USP49</text>
<text x="264.20" y="475.25" font-size="5.8" text-anchor="end" font-style="italic" fill="#222">UTY</text>
<text x="264.20" y="480.84" font-size="5.8" text-anchor="end" font-style="italic" fill="#222">VIM-AS1</text>
<text x="264.20" y="486.43" font-size="5.8" text-anchor="end" font-style="italic" fill="#222">VPS13B</text>
<text x="264.20" y="492.02" font-size="5.8" text-anchor="end" font-style="italic" fill="#222">VTI1A</text>
<text x="264.20" y="497.61" font-size="5.8" text-anchor="end" font-style="italic" fill="#222">WASHC4</text>
<text x="264.20" y="503.20" font-size="5.8" text-anchor="end" font-style="italic" fill="#222">ZFAND3</text>
<text x="264.20" y="508.79" font-size="5.8" text-anchor="end" font-style="italic" fill="#222">AKIRIN2</text>
<text x="264.20" y="514.38" font-size="5.8" text-anchor="end" font-style="italic" fill="#222">AL355512.1</text>
<text x="264.20" y="519.97" font-size="5.8" text-anchor="end" font-style="italic" fill="#222">APOBEC3H</text>
<text x="264.20" y="525.56" font-size="5.8" text-anchor="end" font-style="italic" fill="#222">ARPC1B</text>
<text x="264.20" y="531.15" font-size="5.8" text-anchor="end" font-style="italic" fill="#222">BTN3A2</text>
<text x="264.20" y="536.74" font-size="5.8" text-anchor="end" font-style="italic" fill="#222">BUD31</text>
<text x="264.20" y="542.33" font-size="5.8" text-anchor="end" font-style="italic" fill="#222">CARHSP1</text>
<text x="264.20" y="547.92" font-size="5.8" text-anchor="end" font-style="italic" fill="#222">COTL1</text>
<text x="264.20" y="553.51" font-size="5.8" text-anchor="end" font-style="italic" fill="#222">COX17</text>
<text x="264.20" y="559.10" font-size="5.8" text-anchor="end" font-style="italic" fill="#222">COX5B</text>
<text x="264.20" y="564.69" font-size="5.8" text-anchor="end" font-style="italic" fill="#222">CST7</text>
<text x="264.20" y="570.28" font-size="5.8" text-anchor="end" font-style="italic" fill="#222">DFFA</text>
<text x="264.20" y="575.87" font-size="5.8" text-anchor="end" font-style="italic" fill="#222">EBP</text>
<text x="264.20" y="581.46" font-size="5.8" text-anchor="end" font-style="italic" fill="#222">FAAP24</text>
<text x="264.20" y="587.05" font-size="5.8" text-anchor="end" font-style="italic" fill="#222">FAU</text>
<text x="264.20" y="592.64" font-size="5.8" text-anchor="end" font-style="italic" fill="#222">GIHCG</text>
<text x="264.20" y="598.23" font-size="5.8" text-anchor="end" font-style="italic" fill="#222">GLUL</text>
<text x="264.20" y="603.82" font-size="5.8" text-anchor="end" font-style="italic" fill="#222">GPKOW</text>
<text x="264.20" y="609.41" font-size="5.8" text-anchor="end" font-style="italic" fill="#222">H2AFZ</text>
<text x="264.20" y="615.00" font-size="5.8" text-anchor="end" font-style="italic" fill="#222">HELQ</text>
<text x="264.20" y="620.59" font-size="5.8" text-anchor="end" font-style="italic" fill="#222">HIST2H2BE</text>
<text x="264.20" y="626.18" font-size="5.8" text-anchor="end" font-style="italic" fill="#222">IGFBP7</text>
<text x="264.20" y="631.77" font-size="5.8" text-anchor="end" font-style="italic" fill="#222">IL32</text>
<text x="264.20" y="637.36" font-size="5.8" text-anchor="end" font-style="italic" fill="#222">IP6K2</text>
<text x="264.20" y="642.95" font-size="5.8" text-anchor="end" font-style="italic" fill="#222">LGALS1</text>
<text x="264.20" y="648.54" font-size="5.8" text-anchor="end" font-style="italic" fill="#222">LINC02273</text>
<text x="264.20" y="654.13" font-size="5.8" text-anchor="end" font-style="italic" fill="#222">MAD1L1</text>
<text x="264.20" y="659.72" font-size="5.8" text-anchor="end" font-style="italic" fill="#222">MAD2L2</text>
<text x="264.20" y="665.31" font-size="5.8" text-anchor="end" font-style="italic" fill="#222">MBD2</text>
<text x="264.20" y="670.90" font-size="5.8" text-anchor="end" font-style="italic" fill="#222">MRPL43</text>
<text x="264.20" y="676.49" font-size="5.8" text-anchor="end" font-style="italic" fill="#222">NKG7</text>
<text x="264.20" y="682.08" font-size="5.8" text-anchor="end" font-style="italic" fill="#222">PDCD7</text>
<text x="264.20" y="687.67" font-size="5.8" text-anchor="end" font-style="italic" fill="#222">PHF7</text>
<text x="264.20" y="693.26" font-size="5.8" text-anchor="end" font-style="italic" fill="#222">PINX1</text>
<text x="264.20" y="698.85" font-size="5.8" text-anchor="end" font-style="italic" fill="#222">POMC</text>
<text x="264.20" y="704.44" font-size="5.8" text-anchor="end" font-style="italic" fill="#222">PPP1R18</text>
<text x="264.20" y="710.03" font-size="5.8" text-anchor="end" font-style="italic" fill="#222">RAB29</text>
<text x="264.20" y="715.62" font-size="5.8" text-anchor="end" font-style="italic" fill="#222">RASSF4</text>
<text x="264.20" y="721.21" font-size="5.8" text-anchor="end" font-style="italic" fill="#222">RDH14</text>
<text x="264.20" y="726.80" font-size="5.8" text-anchor="end" font-style="italic" fill="#222">RHEB</text>
<text x="264.20" y="732.39" font-size="5.8" text-anchor="end" font-style="italic" fill="#222">SCAF1</text>
<text x="264.20" y="737.98" font-size="5.8" text-anchor="end" font-style="italic" fill="#222">SLC9A3R1</text>
<text x="264.20" y="743.57" font-size="5.8" text-anchor="end" font-style="italic" fill="#222">SNAP29</text>
<text x="264.20" y="749.16" font-size="5.8" text-anchor="end" font-style="italic" fill="#222">TESC</text>
<text x="264.20" y="754.75" font-size="5.8" text-anchor="end" font-style="italic" fill="#222">TMEM238</text>
<text x="264.20" y="760.34" font-size="5.8" text-anchor="end" font-style="italic" fill="#222">TMSB10</text>
<text x="264.20" y="765.93" font-size="5.8" text-anchor="end" font-style="italic" fill="#222">UBALD2</text>
<text x="264.20" y="771.52" font-size="5.8" text-anchor="end" font-style="italic" fill="#222">USB1</text>
<text x="264.20" y="777.11" font-size="5.8" text-anchor="end" font-style="italic" fill="#222">UXT</text>
<text x="264.20" y="782.70" font-size="5.8" text-anchor="end" font-style="italic" fill="#222">ZNF865</text>
<path d="M265.8 227.20H268.6M265.8 232.79H268.6M265.8 238.38H268.6M265.8 243.97H268.6M265.8 249.56H268.6M265.8 255.15H268.6M265.8 260.74H268.6M265.8 266.33H268.6M265.8 271.92H268.6M265.8 277.51H268.6M265.8 283.10H268.6M265.8 288.69H268.6M265.8 294.28H268.6M265.8 299.87H268.6M265.8 305.46H268.6M265.8 311.05H268.6M265.8 316.64H268.6M265.8 322.23H268.6M265.8 327.82H268.6M265.8 333.41H268.6M265.8 339.00H268.6M265.8 344.59H268.6M265.8 350.18H268.6M265.8 355.77H268.6M265.8 361.36H268.6M265.8 366.95H268.6M265.8 372.54H268.6M265.8 378.13H268.6M265.8 383.72H268.6M265.8 389.31H268.6M265.8 394.90H268.6M265.8 400.49H268.6M265.8 406.08H268.6M265.8 411.67H268.6M265.8 417.26H268.6M265.8 422.85H268.6M265.8 428.44H268.6M265.8 434.03H268.6M265.8 439.62H268.6M265.8 445.21H268.6M265.8 450.80H268.6M265.8 456.39H268.6M265.8 461.98H268.6M265.8 467.57H268.6M265.8 473.16H268.6M265.8 478.75H268.6M265.8 484.34H268.6M265.8 489.93H268.6M265.8 495.52H268.6M265.8 501.11H268.6M265.8 506.70H268.6M265.8 512.29H268.6M265.8 517.88H268.6M265.8 523.47H268.6M265.8 529.06H268.6M265.8 534.65H268.6M265.8 540.24H268.6M265.8 545.83H268.6M265.8 551.42H268.6M265.8 557.01H268.6M265.8 562.60H268.6M265.8 568.19H268.6M265.8 573.78H268.6M265.8 579.37H268.6M265.8 584.96H268.6M265.8 590.55H268.6M265.8 596.14H268.6M265.8 601.73H268.6M265.8 607.32H268.6M265.8 612.91H268.6M265.8 618.50H268.6M265.8 624.09H268.6M265.8 629.68H268.6M265.8 635.27H268.6M265.8 640.86H268.6M265.8 646.45H268.6M265.8 652.04H268.6M265.8 657.63H268.6M265.8 663.22H268.6M265.8 668.81H268.6M265.8 674.40H268.6M265.8 679.99H268.6M265.8 685.58H268.6M265.8 691.17H268.6M265.8 696.76H268.6M265.8 702.35H268.6M265.8 707.94H268.6M265.8 713.53H268.6M265.8 719.12H268.6M265.8 724.71H268.6M265.8 730.30H268.6M265.8 735.89H268.6M265.8 741.48H268.6M265.8 747.07H268.6M265.8 752.66H268.6M265.8 758.25H268.6M265.8 763.84H268.6M265.8 769.43H268.6M265.8 775.02H268.6M265.8 780.61H268.6" stroke="#555" stroke-width="0.5"/>
<line x1="270.30" y1="223.50" x2="270.30" y2="784.10" stroke="#8a8a8a" stroke-width="0.8"/>
<line x1="270.30" y1="784.10" x2="442.00" y2="784.10" stroke="#8a8a8a" stroke-width="0.8"/>
<path d="M276.30 784.1v3M286.85 784.1v3M297.40 784.1v3M307.95 784.1v3M318.50 784.1v3M329.05 784.1v3M339.60 784.1v3M350.15 784.1v3M360.70 784.1v3M371.25 784.1v3M381.80 784.1v3M392.35 784.1v3M402.90 784.1v3M413.45 784.1v3M424.00 784.1v3M434.55 784.1v3" stroke="#555" stroke-width="0.5"/>
<text x="278.28" y="790.60" font-size="5.5" text-anchor="end" font-style="italic" fill="#222" transform="rotate(-90 278.28 790.60)">C5AR1</text>
<text x="288.83" y="790.60" font-size="5.5" text-anchor="end" font-style="italic" fill="#222" transform="rotate(-90 288.83 790.60)">CXCR2</text>
<text x="299.38" y="790.60" font-size="5.5" text-anchor="end" font-style="italic" fill="#222" transform="rotate(-90 299.38 790.60)">GPR18</text>
<text x="309.93" y="790.60" font-size="5.5" text-anchor="end" font-style="italic" fill="#222" transform="rotate(-90 309.93 790.60)">GPR183</text>
<text x="320.48" y="790.60" font-size="5.5" text-anchor="end" font-style="italic" fill="#222" transform="rotate(-90 320.48 790.60)">GPR34</text>
<text x="331.03" y="790.60" font-size="5.5" text-anchor="end" font-style="italic" fill="#222" transform="rotate(-90 331.03 790.60)">GPR84</text>
<text x="341.58" y="790.60" font-size="5.5" text-anchor="end" font-style="italic" fill="#222" transform="rotate(-90 341.58 790.60)">LPAR2</text>
<text x="352.13" y="790.60" font-size="5.5" text-anchor="end" fill="#222" transform="rotate(-90 352.13 790.60)">NTC</text>
<text x="362.68" y="790.60" font-size="5.5" text-anchor="end" font-style="italic" fill="#222" transform="rotate(-90 362.68 790.60)">C5AR1</text>
<text x="373.23" y="790.60" font-size="5.5" text-anchor="end" font-style="italic" fill="#222" transform="rotate(-90 373.23 790.60)">CXCR2</text>
<text x="383.78" y="790.60" font-size="5.5" text-anchor="end" font-style="italic" fill="#222" transform="rotate(-90 383.78 790.60)">GPR18</text>
<text x="394.33" y="790.60" font-size="5.5" text-anchor="end" font-style="italic" fill="#222" transform="rotate(-90 394.33 790.60)">GPR183</text>
<text x="404.88" y="790.60" font-size="5.5" text-anchor="end" font-style="italic" fill="#222" transform="rotate(-90 404.88 790.60)">GPR34</text>
<text x="415.43" y="790.60" font-size="5.5" text-anchor="end" font-style="italic" fill="#222" transform="rotate(-90 415.43 790.60)">GPR84</text>
<text x="425.98" y="790.60" font-size="5.5" text-anchor="end" font-style="italic" fill="#222" transform="rotate(-90 425.98 790.60)">LPAR2</text>
<text x="436.53" y="790.60" font-size="5.5" text-anchor="end" fill="#222" transform="rotate(-90 436.53 790.60)">NTC</text>
<line x1="265.50" y1="814.60" x2="351.80" y2="814.60" stroke="#555" stroke-width="0.6"/>
<line x1="355.90" y1="814.60" x2="443.50" y2="814.60" stroke="#555" stroke-width="0.6"/>
<text x="274.60" y="823.10" font-size="7.4" textLength="73.90" lengthAdjust="spacingAndGlyphs">7α,25-OHC not added</text>
<text x="375.60" y="823.10" font-size="7.4" textLength="60.50" lengthAdjust="spacingAndGlyphs">7α,25-OHC added</text>
<text x="320.80" y="833.60" font-size="7.3" textLength="70.70" lengthAdjust="spacingAndGlyphs">CRISPRa target gene</text>
<line x1="228.40" y1="224.30" x2="228.40" y2="500.00" stroke="#555" stroke-width="0.6"/>
<line x1="228.40" y1="505.30" x2="228.40" y2="783.50" stroke="#555" stroke-width="0.6"/>
<text x="223.80" y="363.60" font-size="7.3" text-anchor="middle" textLength="71.80" lengthAdjust="spacingAndGlyphs" transform="rotate(-90 223.80 363.60)">GPR183 upregulated</text>
<text x="223.80" y="642.70" font-size="7.3" text-anchor="middle" textLength="76.30" lengthAdjust="spacingAndGlyphs" transform="rotate(-90 223.80 642.70)">GPR183 downregulated</text>
<text x="217.90" y="199.50" font-size="11.6" font-weight="bold" fill="#000">e</text>
<text x="235" y="199.9" font-size="10.0" fill="#231f20" textLength="109" lengthAdjust="spacingAndGlyphs"><tspan font-style="italic">GPR183</tspan> CRISPRa signature</text>
<text x="235.00" y="210.60" font-size="10.0" textLength="145.80" lengthAdjust="spacingAndGlyphs">Top 100 genes across NK-92 cells</text>
<path d="M617.6 284.9h0" stroke="#2166ac" stroke-width="3.30" stroke-linecap="round"/>
<path d="M617.6 473.6h0M530.3 649.7h0M574.0 668.6h0" stroke="#2166ac" stroke-width="4.40" stroke-linecap="round"/>
<path d="M617.6 429.6h0M530.3 542.8h0" stroke="#2166ac" stroke-width="5.30" stroke-linecap="round"/>
<path d="M639.4 247.2h0M672.1 247.2h0M606.7 278.6h0M606.7 316.4h0M595.8 322.7h0M606.7 335.2h0M661.2 347.8h0M628.5 398.1h0M661.2 398.1h0M595.8 442.2h0M628.5 442.2h0M595.8 467.3h0M661.2 479.9h0M628.5 486.2h0M672.1 486.2h0M661.2 492.5h0M606.7 498.8h0M661.2 498.8h0M530.3 624.6h0" stroke="#4595c5" stroke-width="3.30" stroke-linecap="round"/>
<path d="M595.8 234.6h0M606.7 253.5h0M639.4 272.3h0M595.8 291.2h0M606.7 297.5h0M639.4 297.5h0M661.2 297.5h0M628.5 303.8h0M661.2 303.8h0M639.4 310.1h0M628.5 366.7h0M617.6 391.9h0M650.3 391.9h0M617.6 417.0h0M606.7 435.9h0M661.2 435.9h0M661.2 473.6h0M530.3 517.6h0M563.0 517.6h0M584.9 517.6h0M508.5 555.4h0M519.4 568.0h0M519.4 580.5h0M530.3 580.5h0M584.9 580.5h0M519.4 586.8h0M584.9 586.8h0M519.4 593.1h0M584.9 593.1h0M563.0 605.7h0M519.4 612.0h0M584.9 612.0h0M508.5 630.9h0M584.9 643.5h0M519.4 656.0h0M584.9 656.0h0M552.1 662.3h0" stroke="#4595c5" stroke-width="4.40" stroke-linecap="round"/>
<path d="M617.6 240.9h0M661.2 266.1h0M595.8 341.5h0M661.2 341.5h0M595.8 354.1h0M617.6 373.0h0M595.8 379.3h0M617.6 379.3h0M595.8 385.6h0M617.6 385.6h0M595.8 429.6h0M628.5 505.1h0M552.1 530.2h0M530.3 536.5h0M508.5 549.1h0M519.4 574.3h0" stroke="#4595c5" stroke-width="5.30" stroke-linecap="round"/>
<path d="M606.7 328.9h0M661.2 328.9h0M672.1 360.4h0M595.8 479.9h0" stroke="#95c6df" stroke-width="1.80" stroke-linecap="round"/>
<path d="M628.5 247.2h0M595.8 259.8h0M606.7 259.8h0M617.6 259.8h0M628.5 259.8h0M639.4 259.8h0M650.3 259.8h0M661.2 259.8h0M672.1 259.8h0M617.6 278.6h0M628.5 278.6h0M639.4 278.6h0M661.2 278.6h0M672.1 278.6h0M606.7 284.9h0M628.5 284.9h0M639.4 284.9h0M650.3 284.9h0M661.2 284.9h0M672.1 284.9h0M617.6 316.4h0M639.4 316.4h0M650.3 316.4h0M661.2 316.4h0M672.1 316.4h0M606.7 322.7h0M595.8 335.2h0M617.6 335.2h0M628.5 335.2h0M639.4 335.2h0M650.3 335.2h0M661.2 335.2h0M672.1 335.2h0M606.7 347.8h0M617.6 347.8h0M639.4 347.8h0M650.3 347.8h0M672.1 347.8h0M595.8 398.1h0M617.6 398.1h0M639.4 398.1h0M672.1 398.1h0M595.8 404.4h0M606.7 404.4h0M617.6 404.4h0M628.5 404.4h0M639.4 404.4h0M650.3 404.4h0M661.2 404.4h0M672.1 404.4h0M606.7 410.7h0M628.5 410.7h0M639.4 410.7h0M661.2 410.7h0M661.2 442.2h0M672.1 442.2h0M595.8 454.8h0M606.7 454.8h0M628.5 454.8h0M639.4 454.8h0M650.3 454.8h0M661.2 454.8h0M672.1 454.8h0M595.8 461.0h0M606.7 461.0h0M628.5 461.0h0M639.4 461.0h0M661.2 461.0h0M672.1 461.0h0M606.7 467.3h0M617.6 467.3h0M628.5 467.3h0M639.4 467.3h0M661.2 467.3h0M672.1 467.3h0M606.7 479.9h0M617.6 479.9h0M628.5 479.9h0M639.4 479.9h0M650.3 479.9h0M672.1 479.9h0M595.8 486.2h0M617.6 486.2h0M639.4 486.2h0M650.3 486.2h0M661.2 486.2h0M595.8 492.5h0M606.7 492.5h0M617.6 492.5h0M639.4 492.5h0M650.3 492.5h0M672.1 492.5h0M628.5 498.8h0M639.4 498.8h0M650.3 498.8h0M519.4 624.6h0M541.2 624.6h0M563.0 624.6h0M584.9 624.6h0M519.4 637.2h0M530.3 637.2h0M541.2 637.2h0M563.0 637.2h0M574.0 637.2h0M584.9 637.2h0" stroke="#95c6df" stroke-width="3.30" stroke-linecap="round"/>
<path d="M606.7 234.6h0M650.3 234.6h0M661.2 234.6h0M595.8 240.9h0M628.5 240.9h0M661.2 240.9h0M628.5 253.5h0M639.4 253.5h0M650.3 253.5h0M661.2 253.5h0M672.1 253.5h0M595.8 266.1h0M606.7 266.1h0M628.5 266.1h0M639.4 266.1h0M650.3 266.1h0M595.8 272.3h0M606.7 272.3h0M628.5 272.3h0M650.3 272.3h0M672.1 272.3h0M606.7 291.2h0M617.6 291.2h0M628.5 291.2h0M639.4 291.2h0M650.3 291.2h0M661.2 291.2h0M672.1 291.2h0M595.8 297.5h0M617.6 297.5h0M628.5 297.5h0M650.3 297.5h0M672.1 297.5h0M595.8 303.8h0M606.7 303.8h0M617.6 303.8h0M639.4 303.8h0M650.3 303.8h0M672.1 303.8h0M595.8 310.1h0M606.7 310.1h0M617.6 310.1h0M650.3 310.1h0M661.2 310.1h0M672.1 310.1h0M617.6 322.7h0M639.4 322.7h0M650.3 322.7h0M661.2 322.7h0M617.6 366.7h0M639.4 366.7h0M650.3 366.7h0M661.2 366.7h0M672.1 366.7h0M628.5 391.9h0M639.4 391.9h0M672.1 391.9h0M595.8 417.0h0M606.7 417.0h0M628.5 417.0h0M639.4 417.0h0M650.3 417.0h0M661.2 417.0h0M672.1 417.0h0M595.8 435.9h0M617.6 435.9h0M628.5 435.9h0M639.4 435.9h0M650.3 435.9h0M672.1 435.9h0M606.7 473.6h0M639.4 473.6h0M595.8 511.4h0M606.7 511.4h0M617.6 511.4h0M628.5 511.4h0M650.3 511.4h0M672.1 511.4h0M574.0 517.6h0M530.3 523.9h0M584.9 523.9h0M563.0 530.2h0M574.0 530.2h0M541.2 536.5h0M552.1 536.5h0M563.0 536.5h0M584.9 536.5h0M563.0 542.8h0M574.0 542.8h0M584.9 542.8h0M519.4 555.4h0M530.3 555.4h0M574.0 555.4h0M584.9 555.4h0M508.5 561.7h0M530.3 561.7h0M541.2 561.7h0M552.1 561.7h0M563.0 561.7h0M574.0 561.7h0M584.9 561.7h0M541.2 568.0h0M552.1 568.0h0M574.0 568.0h0M584.9 568.0h0M530.3 574.3h0M563.0 574.3h0M574.0 574.3h0M584.9 574.3h0M508.5 586.8h0M530.3 586.8h0M541.2 586.8h0M552.1 586.8h0M574.0 586.8h0M508.5 593.1h0M563.0 593.1h0M530.3 599.4h0M541.2 599.4h0M574.0 599.4h0M584.9 599.4h0M508.5 605.7h0M541.2 605.7h0M552.1 605.7h0M574.0 605.7h0M584.9 605.7h0M563.0 612.0h0M574.0 612.0h0M519.4 630.9h0M541.2 630.9h0M563.0 630.9h0M584.9 630.9h0M508.5 643.5h0M519.4 643.5h0M530.3 643.5h0M563.0 643.5h0M508.5 649.7h0M563.0 649.7h0M574.0 649.7h0M541.2 656.0h0M563.0 656.0h0M508.5 662.3h0M574.0 662.3h0M519.4 668.6h0" stroke="#95c6df" stroke-width="4.40" stroke-linecap="round"/>
<path d="M639.4 240.9h0M617.6 266.1h0M639.4 341.5h0M650.3 341.5h0M672.1 341.5h0M628.5 354.1h0M650.3 354.1h0M672.1 354.1h0M595.8 373.0h0M606.7 373.0h0M628.5 373.0h0M639.4 373.0h0M650.3 373.0h0M661.2 373.0h0M672.1 373.0h0M628.5 379.3h0M650.3 379.3h0M661.2 379.3h0M606.7 385.6h0M628.5 385.6h0M639.4 385.6h0M650.3 385.6h0M672.1 385.6h0M595.8 423.3h0M606.7 423.3h0M617.6 423.3h0M628.5 423.3h0M639.4 423.3h0M650.3 423.3h0M661.2 423.3h0M661.2 429.6h0M672.1 429.6h0M595.8 505.1h0M606.7 505.1h0M639.4 505.1h0M508.5 523.9h0M552.1 523.9h0M508.5 530.2h0M519.4 530.2h0M508.5 536.5h0M519.4 536.5h0M541.2 549.1h0M552.1 549.1h0M563.0 549.1h0M574.0 549.1h0M584.9 549.1h0M519.4 618.3h0M541.2 618.3h0M574.0 618.3h0M584.9 618.3h0" stroke="#95c6df" stroke-width="5.30" stroke-linecap="round"/>
<path d="M595.8 316.4h0M628.5 316.4h0M595.8 328.9h0M617.6 328.9h0M628.5 328.9h0M639.4 328.9h0M650.3 328.9h0M672.1 328.9h0M595.8 360.4h0M606.7 360.4h0M617.6 360.4h0M628.5 360.4h0M639.4 360.4h0M650.3 360.4h0M661.2 360.4h0M595.8 448.5h0M606.7 448.5h0M617.6 448.5h0M628.5 448.5h0M639.4 448.5h0M650.3 448.5h0M661.2 448.5h0M672.1 448.5h0M595.8 498.8h0" stroke="#d3e6f1" stroke-width="1.80" stroke-linecap="round"/>
<path d="M595.8 247.2h0M606.7 247.2h0M617.6 247.2h0M650.3 247.2h0M661.2 247.2h0M595.8 278.6h0M650.3 278.6h0M595.8 284.9h0M595.8 347.8h0M628.5 347.8h0M606.7 398.1h0M650.3 398.1h0M595.8 410.7h0M617.6 410.7h0M650.3 410.7h0M672.1 410.7h0M639.4 442.2h0M650.3 442.2h0M617.6 454.8h0M617.6 461.0h0M650.3 461.0h0M650.3 467.3h0M606.7 486.2h0M628.5 492.5h0M617.6 498.8h0M672.1 498.8h0M508.5 624.6h0M552.1 624.6h0M574.0 624.6h0M552.1 637.2h0" stroke="#d3e6f1" stroke-width="3.30" stroke-linecap="round"/>
<path d="M617.6 234.6h0M628.5 234.6h0M639.4 234.6h0M672.1 234.6h0M606.7 240.9h0M650.3 240.9h0M672.1 240.9h0M595.8 253.5h0M617.6 253.5h0M672.1 266.1h0M617.6 272.3h0M661.2 272.3h0M628.5 310.1h0M628.5 322.7h0M672.1 322.7h0M595.8 366.7h0M606.7 366.7h0M595.8 391.9h0M606.7 391.9h0M661.2 391.9h0M595.8 473.6h0M628.5 473.6h0M650.3 473.6h0M672.1 473.6h0M639.4 511.4h0M661.2 511.4h0M519.4 517.6h0M541.2 517.6h0M519.4 523.9h0M541.2 523.9h0M563.0 523.9h0M574.0 523.9h0M530.3 530.2h0M584.9 530.2h0M574.0 536.5h0M519.4 542.8h0M541.2 542.8h0M541.2 555.4h0M552.1 555.4h0M563.0 555.4h0M519.4 561.7h0M508.5 568.0h0M530.3 568.0h0M563.0 568.0h0M541.2 574.3h0M552.1 574.3h0M508.5 580.5h0M541.2 580.5h0M552.1 580.5h0M563.0 580.5h0M574.0 580.5h0M563.0 586.8h0M530.3 593.1h0M541.2 593.1h0M552.1 593.1h0M574.0 593.1h0M508.5 599.4h0M519.4 599.4h0M552.1 599.4h0M563.0 599.4h0M519.4 605.7h0M530.3 605.7h0M508.5 612.0h0M530.3 612.0h0M541.2 612.0h0M552.1 612.0h0M530.3 630.9h0M552.1 630.9h0M574.0 630.9h0M541.2 643.5h0M552.1 643.5h0M574.0 643.5h0M519.4 649.7h0M541.2 649.7h0M552.1 649.7h0M584.9 649.7h0M530.3 656.0h0M552.1 656.0h0M574.0 656.0h0M530.3 662.3h0M541.2 662.3h0M563.0 662.3h0M584.9 662.3h0M617.6 662.3h0M530.3 668.6h0M541.2 668.6h0M552.1 668.6h0M563.0 668.6h0M584.9 668.6h0" stroke="#d3e6f1" stroke-width="4.40" stroke-linecap="round"/>
<path d="M606.7 341.5h0M617.6 341.5h0M628.5 341.5h0M606.7 354.1h0M617.6 354.1h0M639.4 354.1h0M661.2 354.1h0M606.7 379.3h0M639.4 379.3h0M672.1 379.3h0M661.2 385.6h0M672.1 423.3h0M606.7 429.6h0M628.5 429.6h0M639.4 429.6h0M650.3 429.6h0M617.6 505.1h0M650.3 505.1h0M661.2 505.1h0M672.1 505.1h0M519.4 549.1h0M530.3 549.1h0M508.5 618.3h0M530.3 618.3h0M552.1 618.3h0M563.0 618.3h0" stroke="#d3e6f1" stroke-width="5.30" stroke-linecap="round"/>
<path d="M606.7 442.2h0M617.6 442.2h0M574.0 448.5h0" stroke="#f0f0f0" stroke-width="1.80" stroke-linecap="round"/>
<path d="M574.0 404.4h0" stroke="#f0f0f0" stroke-width="3.30" stroke-linecap="round"/>
<path d="M530.3 461.0h0M508.5 517.6h0M552.1 517.6h0M661.2 517.6h0M541.2 530.2h0M508.5 542.8h0M552.1 542.8h0M661.2 561.7h0M508.5 574.3h0M617.6 593.1h0M519.4 662.3h0M508.5 668.6h0" stroke="#f0f0f0" stroke-width="4.40" stroke-linecap="round"/>
<path d="M519.4 328.9h0M574.0 328.9h0M552.1 360.4h0M563.0 360.4h0M584.9 360.4h0M541.2 448.5h0M563.0 448.5h0M584.9 448.5h0" stroke="#fcdcc9" stroke-width="1.80" stroke-linecap="round"/>
<path d="M508.5 247.2h0M519.4 247.2h0M530.3 247.2h0M508.5 278.6h0M530.3 284.9h0M552.1 284.9h0M541.2 316.4h0M530.3 335.2h0M530.3 347.8h0M574.0 347.8h0M519.4 404.4h0M508.5 410.7h0M530.3 410.7h0M541.2 410.7h0M508.5 442.2h0M519.4 442.2h0M541.2 442.2h0M552.1 442.2h0M574.0 442.2h0M519.4 486.2h0M541.2 486.2h0M574.0 486.2h0M519.4 492.5h0M530.3 492.5h0M519.4 498.8h0M574.0 498.8h0M595.8 624.6h0M639.4 624.6h0M650.3 624.6h0M672.1 624.6h0M508.5 637.2h0M606.7 637.2h0M617.6 637.2h0M639.4 637.2h0M672.1 637.2h0" stroke="#fcdcc9" stroke-width="3.30" stroke-linecap="round"/>
<path d="M508.5 234.6h0M563.0 234.6h0M574.0 234.6h0M508.5 240.9h0M552.1 240.9h0M563.0 240.9h0M574.0 240.9h0M530.3 253.5h0M563.0 253.5h0M563.0 266.1h0M552.1 272.3h0M574.0 272.3h0M508.5 291.2h0M563.0 291.2h0M519.4 297.5h0M530.3 297.5h0M552.1 297.5h0M584.9 303.8h0M508.5 310.1h0M530.3 310.1h0M508.5 366.7h0M541.2 366.7h0M574.0 366.7h0M508.5 391.9h0M530.3 391.9h0M552.1 391.9h0M574.0 391.9h0M519.4 398.1h0M541.2 398.1h0M574.0 398.1h0M530.3 404.4h0M541.2 404.4h0M508.5 417.0h0M530.3 417.0h0M574.0 417.0h0M541.2 435.9h0M574.0 435.9h0M530.3 454.8h0M552.1 454.8h0M574.0 454.8h0M563.0 461.0h0M530.3 467.3h0M563.0 467.3h0M519.4 473.6h0M530.3 473.6h0M519.4 511.4h0M541.2 511.4h0M563.0 511.4h0M584.9 511.4h0M628.5 517.6h0M650.3 517.6h0M595.8 523.9h0M617.6 523.9h0M628.5 523.9h0M639.4 523.9h0M650.3 523.9h0M617.6 530.2h0M639.4 530.2h0M628.5 536.5h0M606.7 542.8h0M617.6 542.8h0M628.5 542.8h0M639.4 542.8h0M650.3 542.8h0M628.5 555.4h0M661.2 555.4h0M617.6 561.7h0M606.7 568.0h0M628.5 568.0h0M661.2 568.0h0M617.6 574.3h0M639.4 574.3h0M617.6 580.5h0M595.8 586.8h0M639.4 586.8h0M661.2 586.8h0M672.1 586.8h0M595.8 593.1h0M595.8 599.4h0M650.3 605.7h0M661.2 605.7h0M606.7 612.0h0M672.1 612.0h0M606.7 630.9h0M617.6 630.9h0M595.8 643.5h0M617.6 643.5h0M628.5 643.5h0M628.5 649.7h0M639.4 649.7h0M650.3 649.7h0M661.2 649.7h0M508.5 656.0h0M617.6 656.0h0M628.5 656.0h0M650.3 656.0h0M661.2 656.0h0M672.1 656.0h0M595.8 662.3h0M661.2 662.3h0M595.8 668.6h0M606.7 668.6h0M617.6 668.6h0M650.3 668.6h0M661.2 668.6h0M672.1 668.6h0" stroke="#fcdcc9" stroke-width="4.40" stroke-linecap="round"/>
<path d="M530.3 341.5h0M552.1 341.5h0M508.5 354.1h0M563.0 354.1h0M508.5 379.3h0M530.3 379.3h0M530.3 385.6h0M530.3 423.3h0M541.2 423.3h0M574.0 423.3h0M508.5 429.6h0M530.3 429.6h0M541.2 505.1h0M574.0 505.1h0M595.8 549.1h0M672.1 549.1h0M617.6 618.3h0M628.5 618.3h0M672.1 618.3h0" stroke="#fcdcc9" stroke-width="5.30" stroke-linecap="round"/>
<path d="M574.0 360.4h0M508.5 448.5h0M519.4 448.5h0M552.1 448.5h0" stroke="#f5ab8a" stroke-width="1.80" stroke-linecap="round"/>
<path d="M541.2 247.2h0M552.1 247.2h0M563.0 247.2h0M519.4 259.8h0M530.3 259.8h0M541.2 259.8h0M552.1 259.8h0M563.0 259.8h0M574.0 259.8h0M584.9 259.8h0M519.4 278.6h0M530.3 278.6h0M541.2 278.6h0M552.1 278.6h0M584.9 278.6h0M508.5 284.9h0M519.4 284.9h0M541.2 284.9h0M563.0 284.9h0M574.0 284.9h0M584.9 284.9h0M508.5 316.4h0M519.4 316.4h0M552.1 316.4h0M563.0 316.4h0M574.0 316.4h0M584.9 316.4h0M508.5 328.9h0M530.3 328.9h0M541.2 328.9h0M552.1 328.9h0M563.0 328.9h0M519.4 335.2h0M541.2 335.2h0M552.1 335.2h0M563.0 335.2h0M574.0 335.2h0M508.5 347.8h0M519.4 347.8h0M563.0 347.8h0M584.9 347.8h0M519.4 410.7h0M552.1 410.7h0M563.0 410.7h0M574.0 410.7h0M584.9 410.7h0M563.0 442.2h0M584.9 442.2h0M508.5 479.9h0M519.4 479.9h0M530.3 479.9h0M541.2 479.9h0M552.1 479.9h0M563.0 479.9h0M574.0 479.9h0M584.9 479.9h0M530.3 486.2h0M552.1 486.2h0M508.5 492.5h0M541.2 492.5h0M563.0 492.5h0M574.0 492.5h0M584.9 492.5h0M508.5 498.8h0M541.2 498.8h0M552.1 498.8h0M563.0 498.8h0M584.9 498.8h0M606.7 624.6h0M617.6 624.6h0M628.5 637.2h0" stroke="#f5ab8a" stroke-width="3.30" stroke-linecap="round"/>
<path d="M519.4 234.6h0M530.3 234.6h0M541.2 234.6h0M552.1 234.6h0M584.9 234.6h0M530.3 240.9h0M519.4 253.5h0M552.1 253.5h0M574.0 253.5h0M584.9 253.5h0M508.5 266.1h0M519.4 266.1h0M530.3 266.1h0M541.2 266.1h0M552.1 266.1h0M574.0 266.1h0M508.5 272.3h0M519.4 272.3h0M530.3 272.3h0M541.2 272.3h0M563.0 272.3h0M584.9 272.3h0M519.4 291.2h0M530.3 291.2h0M552.1 291.2h0M574.0 291.2h0M584.9 291.2h0M508.5 297.5h0M563.0 297.5h0M574.0 297.5h0M508.5 303.8h0M519.4 303.8h0M530.3 303.8h0M541.2 303.8h0M552.1 303.8h0M574.0 303.8h0M519.4 310.1h0M541.2 310.1h0M552.1 310.1h0M574.0 310.1h0M584.9 310.1h0M508.5 322.7h0M519.4 322.7h0M552.1 322.7h0M563.0 322.7h0M574.0 322.7h0M584.9 322.7h0M519.4 366.7h0M552.1 366.7h0M563.0 366.7h0M584.9 366.7h0M519.4 391.9h0M541.2 391.9h0M563.0 391.9h0M508.5 398.1h0M530.3 398.1h0M552.1 398.1h0M563.0 398.1h0M584.9 398.1h0M508.5 404.4h0M552.1 404.4h0M563.0 404.4h0M584.9 404.4h0M519.4 417.0h0M541.2 417.0h0M552.1 417.0h0M563.0 417.0h0M584.9 417.0h0M508.5 435.9h0M519.4 435.9h0M552.1 435.9h0M563.0 435.9h0M584.9 435.9h0M508.5 454.8h0M519.4 454.8h0M541.2 454.8h0M519.4 461.0h0M541.2 461.0h0M552.1 461.0h0M584.9 461.0h0M508.5 467.3h0M519.4 467.3h0M541.2 467.3h0M552.1 467.3h0M574.0 467.3h0M508.5 473.6h0M541.2 473.6h0M563.0 473.6h0M574.0 473.6h0M584.9 473.6h0M508.5 511.4h0M552.1 511.4h0M574.0 511.4h0M595.8 517.6h0M606.7 517.6h0M617.6 517.6h0M639.4 517.6h0M672.1 517.6h0M672.1 523.9h0M595.8 530.2h0M606.7 530.2h0M650.3 530.2h0M661.2 530.2h0M595.8 536.5h0M617.6 536.5h0M639.4 536.5h0M650.3 536.5h0M661.2 536.5h0M661.2 542.8h0M672.1 542.8h0M595.8 555.4h0M617.6 555.4h0M650.3 555.4h0M672.1 555.4h0M606.7 561.7h0M628.5 561.7h0M639.4 561.7h0M650.3 561.7h0M672.1 561.7h0M617.6 568.0h0M639.4 568.0h0M650.3 568.0h0M606.7 574.3h0M628.5 574.3h0M650.3 574.3h0M661.2 574.3h0M672.1 574.3h0M595.8 580.5h0M606.7 580.5h0M628.5 580.5h0M639.4 580.5h0M650.3 580.5h0M661.2 580.5h0M672.1 580.5h0M617.6 586.8h0M628.5 586.8h0M650.3 586.8h0M606.7 593.1h0M628.5 593.1h0M661.2 593.1h0M672.1 593.1h0M617.6 599.4h0M628.5 599.4h0M639.4 599.4h0M650.3 599.4h0M661.2 599.4h0M672.1 599.4h0M595.8 605.7h0M617.6 605.7h0M628.5 605.7h0M639.4 605.7h0M617.6 612.0h0M628.5 612.0h0M639.4 612.0h0M650.3 612.0h0M661.2 612.0h0M595.8 630.9h0M628.5 630.9h0M639.4 630.9h0M650.3 630.9h0M672.1 630.9h0M595.8 637.2h0M606.7 643.5h0M650.3 643.5h0M661.2 643.5h0M595.8 649.7h0M606.7 649.7h0M672.1 649.7h0M606.7 656.0h0M639.4 656.0h0M628.5 662.3h0M639.4 662.3h0M650.3 662.3h0M672.1 662.3h0M628.5 668.6h0" stroke="#f5ab8a" stroke-width="4.40" stroke-linecap="round"/>
<path d="M541.2 240.9h0M584.9 240.9h0M508.5 341.5h0M519.4 341.5h0M563.0 341.5h0M574.0 341.5h0M584.9 341.5h0M519.4 354.1h0M530.3 354.1h0M541.2 354.1h0M552.1 354.1h0M574.0 354.1h0M584.9 354.1h0M508.5 373.0h0M519.4 373.0h0M530.3 373.0h0M541.2 373.0h0M552.1 373.0h0M563.0 373.0h0M574.0 373.0h0M584.9 373.0h0M519.4 379.3h0M541.2 379.3h0M552.1 379.3h0M563.0 379.3h0M574.0 379.3h0M584.9 379.3h0M508.5 385.6h0M519.4 385.6h0M541.2 385.6h0M552.1 385.6h0M563.0 385.6h0M574.0 385.6h0M584.9 385.6h0M508.5 423.3h0M519.4 423.3h0M552.1 423.3h0M563.0 423.3h0M584.9 423.3h0M541.2 429.6h0M552.1 429.6h0M563.0 429.6h0M574.0 429.6h0M584.9 429.6h0M508.5 505.1h0M519.4 505.1h0M530.3 505.1h0M552.1 505.1h0M584.9 505.1h0M606.7 523.9h0M617.6 549.1h0M628.5 549.1h0M639.4 549.1h0M650.3 549.1h0M639.4 618.3h0M650.3 618.3h0M661.2 618.3h0" stroke="#f5ab8a" stroke-width="5.30" stroke-linecap="round"/>
<path d="M508.5 360.4h0M519.4 360.4h0M530.3 360.4h0M541.2 360.4h0" stroke="#da6650" stroke-width="1.80" stroke-linecap="round"/>
<path d="M584.9 247.2h0M508.5 259.8h0M563.0 278.6h0M530.3 316.4h0M584.9 328.9h0M508.5 335.2h0M584.9 335.2h0M541.2 347.8h0M508.5 486.2h0M563.0 486.2h0M584.9 486.2h0M552.1 492.5h0M530.3 498.8h0M628.5 624.6h0M661.2 624.6h0" stroke="#da6650" stroke-width="3.30" stroke-linecap="round"/>
<path d="M574.0 247.2h0M541.2 253.5h0M584.9 266.1h0M574.0 278.6h0M541.2 291.2h0M541.2 297.5h0M563.0 303.8h0M563.0 310.1h0M530.3 322.7h0M541.2 322.7h0M563.0 454.8h0M584.9 454.8h0M508.5 461.0h0M574.0 461.0h0M584.9 467.3h0M552.1 473.6h0M628.5 530.2h0M672.1 530.2h0M595.8 542.8h0M606.7 555.4h0M639.4 555.4h0M595.8 561.7h0M595.8 568.0h0M672.1 568.0h0M595.8 574.3h0M606.7 586.8h0M639.4 593.1h0M650.3 593.1h0M606.7 599.4h0M606.7 605.7h0M672.1 605.7h0M595.8 612.0h0M661.2 630.9h0M650.3 637.2h0M661.2 637.2h0M639.4 643.5h0M672.1 643.5h0M617.6 649.7h0M595.8 656.0h0M606.7 662.3h0M639.4 668.6h0" stroke="#da6650" stroke-width="4.40" stroke-linecap="round"/>
<path d="M519.4 240.9h0M508.5 253.5h0M584.9 297.5h0M541.2 341.5h0M584.9 391.9h0M519.4 429.6h0M530.3 435.9h0M563.0 505.1h0M530.3 511.4h0M661.2 523.9h0M606.7 536.5h0M672.1 536.5h0M606.7 549.1h0M661.2 549.1h0M595.8 618.3h0M606.7 618.3h0" stroke="#da6650" stroke-width="5.30" stroke-linecap="round"/>
<path d="M552.1 347.8h0M530.3 442.2h0M530.3 448.5h0" stroke="#b2182b" stroke-width="3.30" stroke-linecap="round"/>
<path d="M530.3 366.7h0" stroke="#b2182b" stroke-width="4.40" stroke-linecap="round"/>
<text x="495.80" y="236.69" font-size="5.8" text-anchor="end" font-style="italic" fill="#222">ACAT2</text>
<text x="495.80" y="242.98" font-size="5.8" text-anchor="end" font-style="italic" fill="#222">ARF1</text>
<text x="495.80" y="249.27" font-size="5.8" text-anchor="end" font-style="italic" fill="#222">CYB5R3</text>
<text x="495.80" y="255.56" font-size="5.8" text-anchor="end" font-style="italic" fill="#222">DGKZ</text>
<text x="495.80" y="261.85" font-size="5.8" text-anchor="end" font-style="italic" fill="#222">DHCR7</text>
<text x="495.80" y="268.14" font-size="5.8" text-anchor="end" font-style="italic" fill="#222">EBP</text>
<text x="495.80" y="274.43" font-size="5.8" text-anchor="end" font-style="italic" fill="#222">ECH1</text>
<text x="495.80" y="280.72" font-size="5.8" text-anchor="end" font-style="italic" fill="#222">EGLN2</text>
<text x="495.80" y="287.01" font-size="5.8" text-anchor="end" font-style="italic" fill="#222">FASN</text>
<text x="495.80" y="293.30" font-size="5.8" text-anchor="end" font-style="italic" fill="#222">FDPS</text>
<text x="495.80" y="299.59" font-size="5.8" text-anchor="end" font-style="italic" fill="#222">FGR</text>
<text x="495.80" y="305.88" font-size="5.8" text-anchor="end" font-style="italic" fill="#222">GBPD</text>
<text x="495.80" y="312.17" font-size="5.8" text-anchor="end" font-style="italic" fill="#222">LYPLA2</text>
<text x="495.80" y="318.46" font-size="5.8" text-anchor="end" font-style="italic" fill="#222">MED16</text>
<text x="495.80" y="324.75" font-size="5.8" text-anchor="end" font-style="italic" fill="#222">MVD</text>
<text x="495.80" y="331.04" font-size="5.8" text-anchor="end" font-style="italic" fill="#222">MVK</text>
<text x="495.80" y="337.33" font-size="5.8" text-anchor="end" font-style="italic" fill="#222">NR1H2</text>
<text x="495.80" y="343.62" font-size="5.8" text-anchor="end" font-style="italic" fill="#222">P4HB</text>
<text x="495.80" y="349.91" font-size="5.8" text-anchor="end" font-style="italic" fill="#222">PCYT2</text>
<text x="495.80" y="356.20" font-size="5.8" text-anchor="end" font-style="italic" fill="#222">PHB</text>
<text x="495.80" y="362.49" font-size="5.8" text-anchor="end" font-style="italic" fill="#222">PIGQ</text>
<text x="495.80" y="368.78" font-size="5.8" text-anchor="end" font-style="italic" fill="#222">PNPLA2</text>
<text x="495.80" y="375.07" font-size="5.8" text-anchor="end" font-style="italic" fill="#222">PPP2R1A</text>
<text x="495.80" y="381.36" font-size="5.8" text-anchor="end" font-style="italic" fill="#222">RUVBL2</text>
<text x="495.80" y="387.65" font-size="5.8" text-anchor="end" font-style="italic" fill="#222">SIGMAR1</text>
<text x="495.80" y="393.94" font-size="5.8" text-anchor="end" font-style="italic" fill="#222">SIRT2</text>
<text x="495.80" y="400.23" font-size="5.8" text-anchor="end" font-style="italic" fill="#222">SLC10A3</text>
<text x="495.80" y="406.52" font-size="5.8" text-anchor="end" font-style="italic" fill="#222">SLC27A3</text>
<text x="495.80" y="412.81" font-size="5.8" text-anchor="end" font-style="italic" fill="#222">SPNS1</text>
<text x="495.80" y="419.10" font-size="5.8" text-anchor="end" font-style="italic" fill="#222">STARD3</text>
<text x="495.80" y="425.39" font-size="5.8" text-anchor="end" font-style="italic" fill="#222">TECR</text>
<text x="495.80" y="431.68" font-size="5.8" text-anchor="end" font-style="italic" fill="#222">TGFB1</text>
<text x="495.80" y="437.97" font-size="5.8" text-anchor="end" font-style="italic" fill="#222">WBP2</text>
<text x="495.80" y="444.26" font-size="5.8" text-anchor="end" font-style="italic" fill="#222">ACADVL</text>
<text x="495.80" y="450.55" font-size="5.8" text-anchor="end" font-style="italic" fill="#222">ARSA</text>
<text x="495.80" y="456.84" font-size="5.8" text-anchor="end" font-style="italic" fill="#222">CDIPT</text>
<text x="495.80" y="463.13" font-size="5.8" text-anchor="end" font-style="italic" fill="#222">ESRRA</text>
<text x="495.80" y="469.42" font-size="5.8" text-anchor="end" font-style="italic" fill="#222">HMBS</text>
<text x="495.80" y="475.71" font-size="5.8" text-anchor="end" font-style="italic" fill="#222">LDLR</text>
<text x="495.80" y="482.00" font-size="5.8" text-anchor="end" font-style="italic" fill="#222">LIPE</text>
<text x="495.80" y="488.29" font-size="5.8" text-anchor="end" font-style="italic" fill="#222">LRP10</text>
<text x="495.80" y="494.58" font-size="5.8" text-anchor="end" font-style="italic" fill="#222">PELP1</text>
<text x="495.80" y="500.87" font-size="5.8" text-anchor="end" font-style="italic" fill="#222">REPIN1</text>
<text x="495.80" y="507.16" font-size="5.8" text-anchor="end" font-style="italic" fill="#222">TADA3</text>
<text x="495.80" y="513.45" font-size="5.8" text-anchor="end" font-style="italic" fill="#222">VPS4A</text>
<text x="495.80" y="519.74" font-size="5.8" text-anchor="end" font-style="italic" fill="#222">ATP8B4</text>
<text x="495.80" y="526.03" font-size="5.8" text-anchor="end" font-style="italic" fill="#222">CBX3</text>
<text x="495.80" y="532.32" font-size="5.8" text-anchor="end" font-style="italic" fill="#222">CD81</text>
<text x="495.80" y="538.61" font-size="5.8" text-anchor="end" font-style="italic" fill="#222">CDC42</text>
<text x="495.80" y="544.90" font-size="5.8" text-anchor="end" font-style="italic" fill="#222">FBXW7</text>
<text x="495.80" y="551.19" font-size="5.8" text-anchor="end" font-style="italic" fill="#222">HMGB1</text>
<text x="495.80" y="557.48" font-size="5.8" text-anchor="end" font-style="italic" fill="#222">IMPA1</text>
<text x="495.80" y="563.77" font-size="5.8" text-anchor="end" font-style="italic" fill="#222">MED13</text>
<text x="495.80" y="570.06" font-size="5.8" text-anchor="end" font-style="italic" fill="#222">NCOA2</text>
<text x="495.80" y="576.35" font-size="5.8" text-anchor="end" font-style="italic" fill="#222">PIAS1</text>
<text x="495.80" y="582.64" font-size="5.8" text-anchor="end" font-style="italic" fill="#222">PIP5K1A</text>
<text x="495.80" y="588.93" font-size="5.8" text-anchor="end" font-style="italic" fill="#222">PITPNB</text>
<text x="495.80" y="595.22" font-size="5.8" text-anchor="end" font-style="italic" fill="#222">RBL1</text>
<text x="495.80" y="601.51" font-size="5.8" text-anchor="end" font-style="italic" fill="#222">SLC44A1</text>
<text x="495.80" y="607.80" font-size="5.8" text-anchor="end" font-style="italic" fill="#222">TBL1XR1</text>
<text x="495.80" y="614.09" font-size="5.8" text-anchor="end" font-style="italic" fill="#222">AMBRA1</text>
<text x="495.80" y="620.38" font-size="5.8" text-anchor="end" font-style="italic" fill="#222">ARID1A</text>
<text x="495.80" y="626.67" font-size="5.8" text-anchor="end" font-style="italic" fill="#222">CEPT1</text>
<text x="495.80" y="632.96" font-size="5.8" text-anchor="end" font-style="italic" fill="#222">MED30</text>
<text x="495.80" y="639.25" font-size="5.8" text-anchor="end" font-style="italic" fill="#222">NF1</text>
<text x="495.80" y="645.54" font-size="5.8" text-anchor="end" font-style="italic" fill="#222">NFKB1</text>
<text x="495.80" y="651.83" font-size="5.8" text-anchor="end" font-style="italic" fill="#222">OSBPL3</text>
<text x="495.80" y="658.12" font-size="5.8" text-anchor="end" font-style="italic" fill="#222">RORA</text>
<text x="495.80" y="664.41" font-size="5.8" text-anchor="end" font-style="italic" fill="#222">SPTSSA</text>
<text x="495.80" y="670.70" font-size="5.8" text-anchor="end" font-style="italic" fill="#222">WWOX</text>
<path d="M497.6 234.60H500.3M497.6 240.89H500.3M497.6 247.18H500.3M497.6 253.47H500.3M497.6 259.76H500.3M497.6 266.05H500.3M497.6 272.34H500.3M497.6 278.63H500.3M497.6 284.92H500.3M497.6 291.21H500.3M497.6 297.50H500.3M497.6 303.79H500.3M497.6 310.08H500.3M497.6 316.37H500.3M497.6 322.66H500.3M497.6 328.95H500.3M497.6 335.24H500.3M497.6 341.53H500.3M497.6 347.82H500.3M497.6 354.11H500.3M497.6 360.40H500.3M497.6 366.69H500.3M497.6 372.98H500.3M497.6 379.27H500.3M497.6 385.56H500.3M497.6 391.85H500.3M497.6 398.14H500.3M497.6 404.43H500.3M497.6 410.72H500.3M497.6 417.01H500.3M497.6 423.30H500.3M497.6 429.59H500.3M497.6 435.88H500.3M497.6 442.17H500.3M497.6 448.46H500.3M497.6 454.75H500.3M497.6 461.04H500.3M497.6 467.33H500.3M497.6 473.62H500.3M497.6 479.91H500.3M497.6 486.20H500.3M497.6 492.49H500.3M497.6 498.78H500.3M497.6 505.07H500.3M497.6 511.36H500.3M497.6 517.65H500.3M497.6 523.94H500.3M497.6 530.23H500.3M497.6 536.52H500.3M497.6 542.81H500.3M497.6 549.10H500.3M497.6 555.39H500.3M497.6 561.68H500.3M497.6 567.97H500.3M497.6 574.26H500.3M497.6 580.55H500.3M497.6 586.84H500.3M497.6 593.13H500.3M497.6 599.42H500.3M497.6 605.71H500.3M497.6 612.00H500.3M497.6 618.29H500.3M497.6 624.58H500.3M497.6 630.87H500.3M497.6 637.16H500.3M497.6 643.45H500.3M497.6 649.74H500.3M497.6 656.03H500.3M497.6 662.32H500.3M497.6 668.61H500.3" stroke="#555" stroke-width="0.5"/>
<line x1="501.60" y1="231.40" x2="501.60" y2="672.20" stroke="#8a8a8a" stroke-width="0.8"/>
<line x1="501.60" y1="672.20" x2="679.50" y2="672.20" stroke="#8a8a8a" stroke-width="0.8"/>
<path d="M508.50 672.2v3M519.41 672.2v3M530.32 672.2v3M541.23 672.2v3M552.14 672.2v3M563.05 672.2v3M573.96 672.2v3M584.87 672.2v3M595.78 672.2v3M606.69 672.2v3M617.60 672.2v3M628.51 672.2v3M639.42 672.2v3M650.33 672.2v3M661.24 672.2v3M672.15 672.2v3" stroke="#555" stroke-width="0.5"/>
<text x="510.48" y="677.30" font-size="5.5" text-anchor="end" font-style="italic" fill="#222" transform="rotate(-90 510.48 677.30)">C5AR1</text>
<text x="521.39" y="677.30" font-size="5.5" text-anchor="end" font-style="italic" fill="#222" transform="rotate(-90 521.39 677.30)">CXCR2</text>
<text x="532.30" y="677.30" font-size="5.5" text-anchor="end" font-style="italic" fill="#222" transform="rotate(-90 532.30 677.30)">GPR18</text>
<text x="543.21" y="677.30" font-size="5.5" text-anchor="end" font-style="italic" fill="#222" transform="rotate(-90 543.21 677.30)">GPR183</text>
<text x="554.12" y="677.30" font-size="5.5" text-anchor="end" font-style="italic" fill="#222" transform="rotate(-90 554.12 677.30)">GPR34</text>
<text x="565.03" y="677.30" font-size="5.5" text-anchor="end" font-style="italic" fill="#222" transform="rotate(-90 565.03 677.30)">GPR84</text>
<text x="575.94" y="677.30" font-size="5.5" text-anchor="end" font-style="italic" fill="#222" transform="rotate(-90 575.94 677.30)">LPAR2</text>
<text x="586.85" y="677.30" font-size="5.5" text-anchor="end" fill="#222" transform="rotate(-90 586.85 677.30)">NTC</text>
<text x="597.76" y="677.30" font-size="5.5" text-anchor="end" font-style="italic" fill="#222" transform="rotate(-90 597.76 677.30)">C5AR1</text>
<text x="608.67" y="677.30" font-size="5.5" text-anchor="end" font-style="italic" fill="#222" transform="rotate(-90 608.67 677.30)">CXCR2</text>
<text x="619.58" y="677.30" font-size="5.5" text-anchor="end" font-style="italic" fill="#222" transform="rotate(-90 619.58 677.30)">GPR18</text>
<text x="630.49" y="677.30" font-size="5.5" text-anchor="end" font-style="italic" fill="#222" transform="rotate(-90 630.49 677.30)">GPR183</text>
<text x="641.40" y="677.30" font-size="5.5" text-anchor="end" font-style="italic" fill="#222" transform="rotate(-90 641.40 677.30)">GPR34</text>
<text x="652.31" y="677.30" font-size="5.5" text-anchor="end" font-style="italic" fill="#222" transform="rotate(-90 652.31 677.30)">GPR84</text>
<text x="663.22" y="677.30" font-size="5.5" text-anchor="end" font-style="italic" fill="#222" transform="rotate(-90 663.22 677.30)">LPAR2</text>
<text x="674.13" y="677.30" font-size="5.5" text-anchor="end" fill="#222" transform="rotate(-90 674.13 677.30)">NTC</text>
<line x1="500.50" y1="702.20" x2="586.80" y2="702.20" stroke="#555" stroke-width="0.6"/>
<line x1="593.00" y1="702.20" x2="679.90" y2="702.20" stroke="#555" stroke-width="0.6"/>
<text x="506.20" y="711.50" font-size="7.4" textLength="74.90" lengthAdjust="spacingAndGlyphs">7α,25-OHC not added</text>
<text x="605.90" y="711.50" font-size="7.4" textLength="61.20" lengthAdjust="spacingAndGlyphs">7α,25-OHC added</text>
<text x="556.00" y="721.70" font-size="7.3" textLength="69.80" lengthAdjust="spacingAndGlyphs">CRISPRa target gene</text>
<line x1="466.30" y1="231.40" x2="466.30" y2="513.30" stroke="#555" stroke-width="0.6"/>
<line x1="466.30" y1="518.50" x2="466.30" y2="671.50" stroke="#555" stroke-width="0.6"/>
<text x="462.00" y="367.80" font-size="7.3" text-anchor="middle" textLength="82.00" lengthAdjust="spacingAndGlyphs" transform="rotate(-90 462.00 367.80)">7α,25-OHC downregulated</text>
<text x="462.00" y="595.00" font-size="7.3" text-anchor="middle" textLength="77.00" lengthAdjust="spacingAndGlyphs" transform="rotate(-90 462.00 595.00)">7α,25-OHC upregulated</text>
<text x="455.60" y="199.50" font-size="11.6" font-weight="bold" fill="#000">f</text>
<text x="470.6" y="199.4" font-size="10.0" fill="#231f20" textLength="172.2" lengthAdjust="spacingAndGlyphs"><tspan font-style="italic">GPR183</tspan>-independent effects of 7α,25-OHC</text>
<text x="470.60" y="210.10" font-size="10.0" textLength="166.40" lengthAdjust="spacingAndGlyphs">Steroid- and cholesterol-related genes</text>
<text x="470.60" y="220.90" font-size="10.0" textLength="218.50" lengthAdjust="spacingAndGlyphs">differentially expressed in response to 7α,25-OHC</text>
<text x="174.30" y="676.90" font-size="7.3" textLength="27.60" lengthAdjust="spacingAndGlyphs">Average</text>
<text x="174.30" y="684.60" font-size="7.3" textLength="36.40" lengthAdjust="spacingAndGlyphs">expression</text>
<defs><linearGradient id="rb" x1="0" y1="0" x2="0" y2="1"><stop offset="0" stop-color="#b2182b"/><stop offset="0.25" stop-color="#ef8a62"/><stop offset="0.5" stop-color="#f7f7f7"/><stop offset="0.75" stop-color="#67a9cf"/><stop offset="1" stop-color="#2166ac"/></linearGradient></defs>
<rect x="184.5" y="690.4" width="6.5" height="60.1" fill="url(#rb)"/>
<text x="193.30" y="693.00" font-size="5.6" fill="#3a3a3a">2</text>
<text x="193.30" y="707.70" font-size="5.6" fill="#3a3a3a">1</text>
<text x="193.30" y="722.80" font-size="5.6" fill="#3a3a3a">0</text>
<text x="193.30" y="737.90" font-size="5.6" fill="#3a3a3a">−1</text>
<text x="174.30" y="759.40" font-size="7.3" textLength="25.50" lengthAdjust="spacingAndGlyphs">Percent</text>
<text x="174.30" y="766.80" font-size="7.3" textLength="34.50" lengthAdjust="spacingAndGlyphs">expressed</text>
<circle cx="187.7" cy="771.5" r="0.4" fill="#111"/>
<text x="193.30" y="773.50" font-size="5.6" fill="#3a3a3a">0</text>
<circle cx="187.7" cy="784.1" r="0.85" fill="#111"/>
<text x="193.30" y="786.10" font-size="5.6" fill="#3a3a3a">25</text>
<circle cx="187.7" cy="796.9" r="1.25" fill="#111"/>
<text x="193.30" y="798.90" font-size="5.6" fill="#3a3a3a">50</text>
<circle cx="187.7" cy="809.7" r="1.7" fill="#111"/>
<text x="193.30" y="811.70" font-size="5.6" fill="#3a3a3a">75</text>
<circle cx="187.7" cy="822.4" r="2.1" fill="#111"/>
<text x="193.30" y="824.40" font-size="5.6" fill="#3a3a3a">100</text>
<text x="-0.40" y="9.30" font-size="11.8" font-weight="bold" fill="#000">a</text>
<text x="16.50" y="9.40" font-size="10.1" textLength="78.50" lengthAdjust="spacingAndGlyphs">NK-92 Perturb-seq</text>
<path d="M51.6 23.3H68.7" stroke="#2d4f8f" stroke-width="0.9"/>
<path d="M57 24.6H60.8" stroke="#2d4f8f" stroke-width="0.7"/>
<path d="M59.2 16.2Q61.8 14.6 64.4 16.2L63.9 18.2L63.4 18.2V22.3H62.2V18.4H61.3V22.3H60.1V18.2L59.6 18.2Z" fill="#f5ab8c"/>
<circle cx="61.6" cy="15.6" r="0.8" fill="#f2c27a"/>
<circle cx="55.4" cy="21.6" r="0.6" fill="#4caf50"/><circle cx="62.5" cy="25.6" r="1.2" fill="#3a9e8c"/>
<path d="M69.1 17.6Q73 14.5 77.2 16.2" stroke="#2d3e63" stroke-width="0.6" fill="none"/>
<path d="M76.0 14.6L78.9 17.4L75.9 17.3Z" fill="#2d3e63"/>
<path d="M69.1 38.7Q73 36.4 77.2 37.3" stroke="#2d3e63" stroke-width="0.6" fill="none"/>
<path d="M76.0 35.8L78.9 38.6L75.9 38.5Z" fill="#2d3e63"/>
<circle cx="73.8" cy="23.7" r="3.3" fill="#a98bd3"/>
<circle cx="80.8" cy="23.7" r="3.3" fill="#a98bd3"/>
<circle cx="87.7" cy="23.7" r="3.3" fill="#a98bd3"/>
<circle cx="77.4" cy="29.9" r="3.3" fill="#a98bd3"/>
<circle cx="84.4" cy="29.9" r="3.3" fill="#a98bd3"/>
<text x="94.40" y="28.90" font-size="7.0" textLength="41.60" lengthAdjust="spacingAndGlyphs">CRISPR-SAM</text>
<polygon points="60.00,31.80 60.69,33.11 62.17,33.05 61.38,34.30 62.17,35.55 60.69,35.49 60.00,36.80 59.31,35.49 57.83,35.55 58.62,34.30 57.83,33.05 59.31,33.11" fill="#f39ac0"/>
<polygon points="57.00,35.40 57.69,36.71 59.17,36.65 58.38,37.90 59.17,39.15 57.69,39.09 57.00,40.40 56.31,39.09 54.83,39.15 55.62,37.90 54.83,36.65 56.31,36.71" fill="#ef6fa8"/>
<polygon points="62.90,35.90 63.56,37.16 64.98,37.10 64.22,38.30 64.98,39.50 63.56,39.44 62.90,40.70 62.24,39.44 60.82,39.50 61.58,38.30 60.82,37.10 62.24,37.16" fill="#3c6fc0"/>
<circle cx="58.5" cy="42.3" r="1.6" fill="#3f8f3a"/><circle cx="62.6" cy="42.4" r="1.6" fill="#d6b0dc"/>
<path d="M80.8 35.2V42.7" stroke="#2d3e63" stroke-width="0.85"/>
<path d="M79.3 41.800000000000004L80.8 44.2L82.3 41.800000000000004Z" fill="#2d3e63"/>
<circle cx="73.5" cy="49.2" r="3.5" fill="#3b8a2f"/>
<circle cx="80.8" cy="49.2" r="3.5" fill="#ec6fab"/>
<circle cx="88.1" cy="49.2" r="3.5" fill="#f3a6a9"/>
<circle cx="76.8" cy="56.1" r="3.5" fill="#c688d3"/>
<circle cx="84.4" cy="55.9" r="3.5" fill="#2e3b8f"/>
<text x="95.50" y="52.00" font-size="7.3" textLength="58.50" lengthAdjust="spacingAndGlyphs">sgRNAs targeting</text>
<text x="95.50" y="59.60" font-size="7.3" textLength="64.50" lengthAdjust="spacingAndGlyphs">top 7 hits and NTCs</text>
<path d="M80.7 61.0V68.3" stroke="#2d3e63" stroke-width="0.85"/>
<path d="M79.2 67.39999999999999L80.7 69.8L82.2 67.39999999999999Z" fill="#2d3e63"/>
<ellipse cx="66.6" cy="80.60000000000001" rx="11.0" ry="6.6" fill="#e3f2f1" stroke="#8aa3a8" stroke-width="0.45"/>
<ellipse cx="66.6" cy="78.8" rx="10.8" ry="6.0" fill="#d9efee" stroke="#9fb8bc" stroke-width="0.4"/>
<circle cx="66.91" cy="78.18" r="1.15" fill="#ef8fbf"/>
<circle cx="62.81" cy="79.21" r="1.21" fill="#f4b27a"/>
<circle cx="61.69" cy="77.28" r="1.24" fill="#3f8f3a"/>
<circle cx="63.35" cy="78.73" r="1.08" fill="#c688d3"/>
<circle cx="68.74" cy="79.90" r="1.06" fill="#ec6fab"/>
<circle cx="63.43" cy="79.34" r="0.93" fill="#ec6fab"/>
<circle cx="62.68" cy="78.21" r="1.31" fill="#5b7fd0"/>
<circle cx="64.42" cy="79.83" r="1.15" fill="#5b7fd0"/>
<circle cx="70.19" cy="77.92" r="1.30" fill="#c688d3"/>
<circle cx="68.14" cy="77.99" r="0.94" fill="#3f8f3a"/>
<circle cx="66.41" cy="77.98" r="1.13" fill="#5b7fd0"/>
<circle cx="64.45" cy="79.76" r="1.06" fill="#ef8fbf"/>
<circle cx="72.64" cy="78.99" r="0.99" fill="#c688d3"/>
<circle cx="65.77" cy="79.29" r="1.14" fill="#f4b27a"/>
<circle cx="69.42" cy="79.83" r="1.29" fill="#ec6fab"/>
<circle cx="72.94" cy="76.91" r="1.36" fill="#3c6fc0"/>
<circle cx="74.41" cy="79.87" r="1.28" fill="#3c6fc0"/>
<circle cx="64.71" cy="79.65" r="1.03" fill="#ec6fab"/>
<circle cx="67.46" cy="80.26" r="1.21" fill="#5b7fd0"/>
<circle cx="62.23" cy="79.67" r="1.30" fill="#5b7fd0"/>
<circle cx="63.56" cy="79.13" r="1.07" fill="#c688d3"/>
<circle cx="71.18" cy="76.66" r="1.36" fill="#ec6fab"/>
<ellipse cx="94.7" cy="80.60000000000001" rx="11.0" ry="6.6" fill="#e3f2f1" stroke="#8aa3a8" stroke-width="0.45"/>
<ellipse cx="94.7" cy="78.8" rx="10.8" ry="6.0" fill="#d9efee" stroke="#9fb8bc" stroke-width="0.4"/>
<circle cx="91.25" cy="78.64" r="0.95" fill="#5b7fd0"/>
<circle cx="96.37" cy="78.55" r="1.03" fill="#3f8f3a"/>
<circle cx="93.56" cy="78.09" r="1.25" fill="#ef8fbf"/>
<circle cx="89.46" cy="80.37" r="0.94" fill="#f4b27a"/>
<circle cx="98.38" cy="80.19" r="1.05" fill="#ef8fbf"/>
<circle cx="94.73" cy="78.21" r="1.15" fill="#c688d3"/>
<circle cx="96.39" cy="78.98" r="1.04" fill="#c688d3"/>
<circle cx="95.71" cy="79.34" r="1.08" fill="#f4b27a"/>
<circle cx="99.55" cy="79.51" r="1.21" fill="#3f8f3a"/>
<circle cx="100.49" cy="75.90" r="0.97" fill="#ef8fbf"/>
<circle cx="88.80" cy="77.30" r="1.06" fill="#ef8fbf"/>
<circle cx="96.84" cy="76.40" r="1.18" fill="#3c6fc0"/>
<circle cx="96.87" cy="79.41" r="1.39" fill="#ec6fab"/>
<circle cx="98.55" cy="77.88" r="0.90" fill="#c688d3"/>
<circle cx="93.88" cy="78.27" r="1.31" fill="#c688d3"/>
<circle cx="92.25" cy="79.48" r="1.34" fill="#3c6fc0"/>
<circle cx="94.30" cy="78.44" r="0.90" fill="#f4b27a"/>
<circle cx="94.63" cy="78.54" r="1.19" fill="#c688d3"/>
<circle cx="96.92" cy="81.72" r="1.29" fill="#5b7fd0"/>
<circle cx="99.14" cy="77.48" r="1.11" fill="#c688d3"/>
<circle cx="91.23" cy="78.04" r="1.02" fill="#c688d3"/>
<circle cx="90.49" cy="78.20" r="1.13" fill="#f4b27a"/>
<text x="28.80" y="78.30" font-size="7.3" textLength="8.80" lengthAdjust="spacingAndGlyphs">No</text>
<text x="14.00" y="86.10" font-size="7.3" textLength="37.50" lengthAdjust="spacingAndGlyphs">7α,25-OHC</text>
<text x="116.30" y="78.00" font-size="7.3" textLength="25.20" lengthAdjust="spacingAndGlyphs">100 nM</text>
<text x="109.80" y="86.40" font-size="7.3" textLength="37.20" lengthAdjust="spacingAndGlyphs">7α,25-OHC</text>
<path d="M80.6 90.2V97.7" stroke="#2d3e63" stroke-width="0.85"/>
<path d="M79.1 96.8L80.6 99.2L82.1 96.8Z" fill="#2d3e63"/>
<rect x="64" y="109.6" width="33.7" height="3.6" fill="#eeeeee" stroke="#d0d0d0" stroke-width="0.3"/>
<rect x="74.1" y="101.6" width="3.5" height="8.6" fill="#cfcfcf" stroke="#b8b8b8" stroke-width="0.3"/>
<rect x="82.8" y="101.6" width="4.0" height="18.5" fill="#f2ee8e"/>
<rect x="87" y="109.8" width="8.5" height="3.2" fill="#f2ee8e" opacity="0.8"/>
<path d="M75.9 120.4V112.1H87.4" stroke="#86aedb" stroke-width="3.0" fill="none"/>
<circle cx="75.8" cy="103.5" r="0.6" fill="#2e4fa0"/>
<circle cx="75.8" cy="107.5" r="0.6" fill="#2e4fa0"/>
<circle cx="79.5" cy="111.2" r="0.6" fill="#2e4fa0"/>
<circle cx="85" cy="111.2" r="0.6" fill="#2e4fa0"/>
<circle cx="89.5" cy="111.2" r="0.6" fill="#2e4fa0"/>
<circle cx="93.5" cy="111.4" r="0.6" fill="#2e4fa0"/>
<circle cx="66.5" cy="111.4" r="0.4" fill="#6cbf4a"/>
<circle cx="70" cy="111.4" r="0.4" fill="#6cbf4a"/>
<text x="102.00" y="113.70" font-size="7.3" textLength="36.00" lengthAdjust="spacingAndGlyphs">scRNA-seq</text>
<path d="M80.7 123.5V130.9" stroke="#2d3e63" stroke-width="0.85"/>
<path d="M79.2 130.0L80.7 132.4L82.2 130.0Z" fill="#2d3e63"/>
<path d="M55.1 148H63.7V136.5a1 1 0 0 1 2 0V148h1.2V138.3a1.6 1.6 0 0 1 3.2 0V148h0.8c0-4 1.6-4 1.6 0s1.3 0 2.2 0" stroke="#777" stroke-width="0.5" fill="none"/>
<path d="M63.7 141V136.5a1 1 0 0 1 2 0V141M66.9 142V138.3a1.6 1.6 0 0 1 3.2 0V142" stroke="#e0454a" stroke-width="0.8" fill="none"/>
<rect x="82" y="134.10000000000002" width="16.5" height="2.4" fill="#92d3ef"/>
<rect x="82" y="134.10000000000002" width="2.6" height="2.4" fill="#ea7fb5"/>
<rect x="95.9" y="134.10000000000002" width="2.6" height="2.4" fill="#f6b77d"/>
<path d="M85.5 135.3H95.0" stroke="#6aa6d8" stroke-width="0.3" stroke-dasharray="0.8 0.6"/>
<rect x="87" y="138.10000000000002" width="16.700000000000003" height="2.4" fill="#92d3ef"/>
<rect x="87" y="138.10000000000002" width="2.6" height="2.4" fill="#ea7fb5"/>
<rect x="101.10000000000001" y="138.10000000000002" width="2.6" height="2.4" fill="#f6b77d"/>
<path d="M90.5 139.3H100.2" stroke="#6aa6d8" stroke-width="0.3" stroke-dasharray="0.8 0.6"/>
<rect x="79.2" y="142.0" width="16.599999999999994" height="2.4" fill="#92d3ef"/>
<rect x="79.2" y="142.0" width="2.6" height="2.4" fill="#ea7fb5"/>
<rect x="93.2" y="142.0" width="2.6" height="2.4" fill="#f6b77d"/>
<path d="M82.7 143.2H92.3" stroke="#6aa6d8" stroke-width="0.3" stroke-dasharray="0.8 0.6"/>
<rect x="89" y="145.70000000000002" width="16.700000000000003" height="2.4" fill="#92d3ef"/>
<rect x="89" y="145.70000000000002" width="2.6" height="2.4" fill="#ea7fb5"/>
<rect x="103.10000000000001" y="145.70000000000002" width="2.6" height="2.4" fill="#f6b77d"/>
<path d="M92.5 146.9H102.2" stroke="#6aa6d8" stroke-width="0.3" stroke-dasharray="0.8 0.6"/>
<text x="45.50" y="157.10" font-size="7.3" textLength="22.10" lengthAdjust="spacingAndGlyphs">sgRNA</text>
<text x="77.50" y="157.10" font-size="7.3" textLength="48.60" lengthAdjust="spacingAndGlyphs">Transcriptome</text>
<text x="219.40" y="9.30" font-size="11.8" font-weight="bold" fill="#000">b</text>
<text x="235.40" y="9.40" font-size="10.0" textLength="88.80" lengthAdjust="spacingAndGlyphs">CRISPRa target gene</text>
<path d="M254.5 93.9h0M253.2 90.5h0M268.0 104.9h0M299.6 77.3h0M308.8 81.0h0M257.1 73.3h0M271.3 73.7h0M277.5 56.5h0M280.6 56.2h0M321.9 55.1h0M271.2 80.0h0M321.2 81.5h0M290.8 111.6h0M303.2 106.7h0M274.4 143.7h0M283.2 55.3h0M275.9 97.6h0M284.2 131.1h0M270.7 106.3h0M268.0 99.7h0M279.2 68.9h0M277.3 52.5h0M265.5 106.2h0M299.4 94.6h0M271.7 56.7h0M286.3 106.1h0M289.8 97.1h0M285.8 96.1h0M300.4 105.8h0M280.5 107.0h0M265.9 119.6h0M318.4 48.5h0M317.7 80.8h0M263.1 58.3h0M264.6 81.9h0M264.6 129.3h0M262.7 128.7h0M270.4 92.1h0M333.0 64.2h0M289.7 93.7h0M325.9 82.5h0M285.4 123.6h0M276.8 124.0h0M294.3 91.7h0M279.4 143.3h0M304.3 102.0h0M271.8 107.2h0M294.7 128.3h0M324.4 67.5h0M291.3 124.7h0M263.5 72.7h0M265.1 63.7h0M281.7 144.5h0M280.9 59.3h0M317.0 75.9h0M286.3 91.1h0M280.0 79.1h0M307.9 58.3h0M260.7 97.2h0M280.5 49.9h0M265.3 83.3h0M257.9 125.6h0M299.6 76.2h0M272.4 62.5h0M275.6 116.8h0M254.1 87.8h0M272.7 60.6h0M262.7 61.9h0M284.2 111.1h0M296.2 100.2h0M271.5 81.7h0M277.0 107.2h0M279.9 125.9h0M291.9 91.1h0M309.8 79.8h0M286.8 106.3h0M306.9 60.6h0M261.6 125.5h0M292.4 141.1h0M315.1 48.2h0M274.1 136.4h0M289.3 140.0h0M312.1 71.6h0M278.4 101.0h0M287.5 108.9h0M321.6 51.8h0M322.3 49.2h0M288.0 119.7h0M283.1 126.2h0M293.1 80.5h0M265.0 78.0h0M265.6 61.6h0M330.2 61.3h0M294.5 84.3h0M302.6 107.4h0M319.2 63.9h0M280.9 137.9h0M287.2 46.6h0M322.6 54.0h0M288.4 78.7h0M272.0 142.6h0M294.8 110.9h0M285.3 87.1h0M319.7 41.1h0M265.1 114.5h0M287.9 140.8h0M288.7 70.4h0M330.6 54.6h0M319.8 80.5h0M328.8 54.0h0M278.0 121.6h0M330.3 77.9h0M274.7 96.1h0M318.3 61.0h0M313.1 78.7h0M261.3 120.9h0M260.2 127.3h0M264.6 89.7h0M280.2 102.2h0M266.4 90.5h0M300.6 125.7h0M267.9 110.0h0M277.9 61.7h0M267.9 77.8h0M282.0 110.2h0M280.0 66.5h0M289.3 55.2h0M267.9 82.8h0M273.1 119.0h0M268.0 55.8h0M284.3 92.6h0M267.5 123.3h0M270.4 65.7h0M281.2 124.2h0M331.2 76.8h0M288.1 134.4h0M302.7 54.2h0M286.0 74.6h0M259.1 131.3h0M289.3 120.7h0M254.8 84.0h0M300.4 58.3h0M291.9 77.1h0M293.2 68.5h0M297.9 122.5h0M283.5 95.4h0M298.7 62.8h0M281.5 79.4h0M277.9 57.4h0M282.7 122.0h0M272.1 135.6h0M330.6 62.2h0M290.3 136.5h0M303.1 41.7h0M285.6 59.7h0M271.4 82.3h0M282.1 62.3h0M266.9 128.3h0M273.0 71.3h0M309.0 63.6h0M302.7 71.7h0M293.7 51.3h0M326.2 68.3h0M279.6 112.8h0M296.2 78.9h0M297.9 83.0h0M301.9 71.3h0M259.3 80.4h0M275.3 50.8h0M289.0 124.9h0M325.5 54.1h0M274.7 102.8h0M283.3 62.0h0M291.1 138.7h0M263.1 58.7h0M267.8 114.8h0M282.7 45.8h0M292.1 125.1h0M293.4 67.4h0M316.2 40.2h0M315.5 81.9h0M276.4 93.7h0M274.3 98.8h0M323.2 75.1h0M313.7 49.3h0M293.4 94.4h0M290.4 93.3h0M284.3 116.2h0M293.6 60.9h0M328.0 73.3h0M258.1 91.9h0M252.0 83.6h0M319.0 67.6h0M272.0 102.6h0M274.8 128.0h0M299.8 84.9h0M291.9 65.1h0M270.1 111.9h0M265.2 86.9h0M278.1 141.0h0M302.3 119.1h0M272.5 75.0h0M282.1 111.4h0M292.5 74.4h0M280.5 116.9h0M287.5 67.0h0M317.5 75.4h0M282.1 89.6h0M299.9 111.9h0M293.8 131.4h0M291.4 90.1h0M267.7 107.7h0M306.9 53.3h0M274.1 83.8h0M323.6 41.7h0M273.7 135.3h0M296.7 78.8h0M315.4 76.4h0M329.6 79.3h0M280.0 127.6h0M296.5 62.1h0M279.7 102.5h0M284.7 43.6h0M284.2 121.5h0M262.9 101.8h0M300.8 58.6h0M285.6 141.8h0M284.5 114.8h0M270.1 116.4h0M279.4 99.9h0M326.9 63.9h0M329.7 71.9h0M272.5 134.5h0M297.1 77.7h0M300.3 109.5h0M275.2 51.2h0M286.5 139.8h0M267.2 86.1h0M296.2 110.3h0M280.8 116.2h0M292.6 110.0h0M257.8 126.8h0M298.1 126.9h0M323.0 69.2h0M278.7 138.5h0M304.7 46.6h0M316.5 42.0h0M264.4 88.2h0M278.6 47.7h0M288.2 99.5h0M310.9 46.6h0M313.6 68.7h0M288.3 139.3h0M272.6 77.8h0M304.6 103.7h0M283.0 98.8h0M265.2 91.9h0M268.9 89.2h0M279.5 101.7h0M303.9 66.1h0M285.0 143.2h0M289.8 45.1h0M299.3 114.9h0M307.3 58.5h0M292.4 118.5h0M270.2 56.9h0M291.1 128.4h0M326.0 53.3h0M324.2 58.6h0M264.6 80.3h0M291.6 74.4h0M284.7 52.4h0M285.4 81.3h0M257.3 101.6h0M295.5 114.8h0M300.2 66.9h0M294.8 112.1h0M278.8 115.7h0M298.3 121.5h0M258.0 88.9h0M308.9 38.2h0M297.9 106.2h0M274.6 93.8h0M282.4 71.7h0M285.6 83.0h0M252.9 87.5h0M265.3 95.9h0M286.2 99.4h0M296.4 77.6h0M257.3 75.0h0M295.3 115.0h0M270.3 131.7h0M307.4 108.3h0M283.8 77.4h0M292.9 52.5h0M289.8 118.9h0M305.6 80.9h0M307.8 65.6h0M262.4 66.3h0M296.2 62.4h0M311.8 51.5h0M309.8 36.3h0M274.7 48.1h0M310.8 81.2h0M271.0 54.3h0M259.6 65.5h0M332.9 79.5h0M260.6 84.6h0M274.8 138.8h0M310.3 61.1h0M328.6 74.1h0M318.7 80.6h0M276.5 92.5h0M268.2 119.1h0M268.1 106.6h0M287.5 79.0h0M268.4 53.3h0M315.1 64.3h0M288.9 115.9h0M282.8 134.2h0M285.5 136.9h0M267.9 142.8h0M290.0 134.1h0M256.1 77.6h0M267.2 96.1h0M288.8 138.3h0M278.9 82.2h0M291.0 94.5h0M253.0 94.4h0M295.1 78.3h0M266.7 82.9h0M276.0 54.9h0M314.8 39.7h0M330.0 68.3h0M316.8 45.0h0M284.7 53.8h0M277.4 144.5h0M272.1 52.2h0M281.1 82.5h0M293.7 109.7h0M274.5 97.1h0M309.6 37.0h0M294.5 58.1h0M296.6 112.4h0M294.4 120.7h0M295.1 41.9h0M293.6 83.9h0M320.3 81.1h0M319.0 80.4h0M276.3 102.7h0M307.5 72.2h0M293.0 106.0h0M280.0 61.9h0M283.2 66.2h0M274.1 100.1h0M331.0 55.4h0M272.4 139.0h0M308.3 79.7h0M314.0 57.2h0M293.7 97.7h0M269.3 92.8h0M271.8 84.5h0M284.2 100.8h0M292.5 88.0h0M278.3 133.3h0M290.5 102.6h0M275.4 69.7h0M272.8 120.8h0M282.6 137.1h0M314.6 48.4h0M261.8 86.4h0M253.1 89.2h0M284.3 78.6h0M279.9 88.8h0M273.7 144.5h0M290.3 123.9h0M302.6 70.6h0M256.2 86.3h0M266.2 92.7h0M268.8 87.0h0M276.3 90.0h0M263.8 62.9h0M292.0 112.0h0M300.1 63.9h0M282.6 73.6h0M279.6 100.3h0M313.5 77.3h0M294.2 54.1h0M294.6 42.1h0M278.0 90.8h0M265.7 56.1h0M287.7 58.8h0M310.2 40.0h0M265.9 136.4h0M283.8 67.4h0M274.5 108.1h0M283.1 121.5h0M280.9 135.3h0M285.0 74.0h0M255.3 88.8h0M329.0 65.7h0M264.4 113.7h0M283.6 73.2h0M271.4 126.1h0M328.6 71.5h0M296.1 68.8h0M257.4 116.3h0M297.5 46.8h0M252.1 94.8h0M292.1 132.0h0M299.0 93.2h0M262.7 89.6h0M277.7 51.0h0M277.8 56.3h0M262.7 88.6h0M289.6 51.6h0M260.1 96.7h0M303.3 111.2h0M302.6 89.7h0M276.2 110.5h0M277.0 111.1h0M273.8 77.6h0M298.3 89.5h0M330.6 69.2h0M255.0 76.3h0M299.3 88.4h0M292.8 103.8h0M260.4 112.3h0M290.3 64.5h0M304.6 58.0h0M267.6 77.3h0M329.8 57.2h0M284.4 71.1h0M283.3 118.3h0M285.0 124.3h0M295.3 82.4h0M312.3 68.4h0M267.4 94.9h0M305.5 37.7h0M267.3 72.0h0M278.6 107.3h0M258.0 99.9h0M266.4 97.5h0M260.2 78.2h0M292.6 116.1h0M308.7 66.9h0M319.6 78.9h0M301.2 87.9h0M289.9 64.7h0M330.6 59.2h0M296.6 94.5h0M331.0 51.5h0M251.3 103.4h0M292.9 125.6h0M276.2 69.0h0M270.5 122.6h0M298.4 112.4h0M273.7 79.2h0M272.5 99.2h0M300.3 101.7h0M325.5 55.9h0M297.3 103.8h0M284.9 59.9h0M279.5 108.9h0M288.9 103.8h0M255.6 103.3h0M315.9 79.1h0M317.8 54.8h0M283.1 90.0h0M300.8 64.6h0M314.4 71.1h0M296.0 102.4h0M256.4 109.4h0M321.3 39.6h0M273.0 141.8h0M277.6 123.2h0M288.2 116.4h0M291.0 65.6h0M265.0 79.1h0M258.2 93.1h0M300.0 47.6h0M296.9 76.5h0M294.0 130.5h0M287.2 74.6h0M291.4 125.0h0M278.4 117.2h0M261.5 115.6h0M295.7 42.5h0M306.9 70.1h0M266.8 95.1h0M281.2 98.4h0M289.3 74.1h0M306.6 44.1h0M266.8 121.3h0M299.3 83.5h0M312.9 55.7h0M295.6 54.5h0M264.1 107.0h0M292.7 65.0h0M274.3 130.0h0M320.0 40.5h0M327.1 57.9h0M318.9 79.0h0M328.7 52.4h0M281.6 103.6h0M267.6 80.6h0M298.3 122.8h0M292.1 71.1h0M276.9 66.9h0M272.5 87.9h0M305.8 61.0h0M286.8 48.7h0M294.7 91.2h0M272.7 100.7h0M292.3 79.8h0M302.4 56.3h0M300.3 62.5h0M290.5 139.7h0M288.3 75.2h0M295.4 105.1h0M285.5 121.1h0M271.6 49.3h0M298.2 58.4h0M302.9 44.1h0M286.2 121.0h0M269.1 95.8h0M278.9 90.1h0M277.5 97.3h0M256.0 94.4h0M285.0 133.5h0M296.8 83.3h0M298.4 41.7h0M314.1 54.3h0M289.7 130.3h0M281.9 67.4h0M279.9 86.6h0M266.1 86.3h0M259.9 75.5h0M295.2 120.9h0M288.1 53.4h0M304.5 89.1h0M281.0 92.0h0M290.2 60.2h0M318.7 80.2h0M310.5 76.0h0M297.5 118.0h0M259.3 99.6h0M296.4 74.9h0M258.1 91.5h0M289.8 99.9h0M258.5 66.4h0M276.7 129.5h0M285.1 73.3h0M296.2 70.0h0M315.1 77.6h0M313.7 35.8h0M293.0 90.5h0M277.0 79.7h0M301.7 93.7h0M308.7 66.9h0M281.0 83.4h0M316.5 35.5h0M327.4 68.0h0M305.4 100.2h0M270.1 99.5h0M299.1 78.5h0M309.1 44.6h0M283.7 62.7h0M313.0 57.2h0M329.5 72.7h0M302.5 108.5h0M275.0 73.6h0M266.4 125.4h0M279.7 104.7h0M274.6 128.5h0M295.1 58.1h0M323.8 73.6h0M267.8 103.1h0M300.6 92.9h0M304.9 90.2h0M305.3 48.2h0M298.3 64.9h0M278.5 127.8h0M283.2 55.8h0M298.7 115.4h0M291.1 106.4h0M289.0 69.8h0M291.4 72.3h0M304.3 49.0h0M294.0 88.4h0M265.6 100.5h0M300.9 69.1h0M292.1 111.1h0M283.4 86.2h0M322.6 54.4h0M296.1 94.1h0M290.1 71.8h0M263.3 80.5h0M273.9 60.8h0M258.4 78.9h0M304.2 38.6h0M317.2 82.9h0M291.9 111.0h0M295.8 84.8h0M258.1 113.2h0M268.7 120.3h0M255.4 103.4h0M301.1 62.4h0M264.0 113.1h0M297.5 122.4h0M283.3 128.3h0M254.3 109.5h0M324.6 67.7h0M297.3 91.2h0M316.8 42.3h0M270.2 135.7h0M293.2 94.3h0M312.6 48.2h0M276.3 110.2h0M289.8 91.7h0M294.5 90.8h0M321.9 74.4h0M267.1 127.4h0M274.4 129.7h0M276.1 113.9h0M279.5 143.0h0M288.5 116.4h0M290.6 85.7h0M290.4 44.6h0M264.4 98.7h0M290.8 121.3h0M332.3 75.3h0M314.5 37.1h0M284.8 110.9h0M300.8 119.9h0M332.5 68.5h0M255.5 107.3h0M298.6 59.9h0M303.0 109.8h0M292.9 66.5h0M303.3 57.6h0M293.7 60.7h0M277.0 93.0h0M282.2 104.8h0M304.9 63.4h0M278.3 56.1h0M312.8 39.3h0M308.9 36.7h0M313.7 35.8h0M312.4 38.1h0M312.0 37.3h0M317.2 37.2h0M306.3 38.4h0M312.1 34.8h0M316.9 38.8h0M311.2 34.6h0M314.9 35.8h0M310.2 39.1h0M318.0 94.3h0M324.5 87.2h0M312.2 90.0h0M326.5 87.8h0M306.0 84.6h0M328.0 98.3h0M321.9 97.6h0M319.1 99.9h0M323.4 96.1h0M322.5 89.4h0M328.0 93.2h0M326.2 91.0h0M317.3 89.3h0M319.6 94.8h0M324.9 93.7h0M331.8 116.3h0M327.9 113.5h0M326.5 112.7h0M328.4 120.4h0M324.5 110.5h0M329.1 118.5h0M322.9 108.3h0M326.1 110.1h0M333.4 122.7h0M323.2 106.0h0M332.2 119.6h0M320.7 108.5h0M322.0 111.3h0M325.2 104.3h0M333.3 119.4h0M320.1 104.4h0M318.5 105.8h0M351.4 101.9h0M347.1 108.1h0M349.9 108.5h0M352.6 103.4h0M354.1 101.0h0M350.7 104.5h0M348.9 104.3h0M348.9 109.8h0M351.7 109.2h0M345.6 99.6h0M348.6 87.0h0M242.3 109.4h0M239.1 98.0h0M238.7 102.4h0M239.9 102.9h0M240.4 92.6h0M317.3 129.4h0M324.8 130.4h0M324.0 132.4h0M314.3 126.3h0M320.2 129.6h0" stroke="#18BEC6" stroke-width="0.98" stroke-linecap="round" opacity="0.9"/>
<path d="M286.0 128.8h0M325.2 63.1h0M280.1 135.6h0M294.3 72.4h0M263.4 86.5h0M297.7 68.8h0M297.7 123.7h0M285.7 138.9h0M319.7 39.8h0M278.3 96.0h0M290.4 141.7h0M322.6 76.9h0M266.0 90.2h0M331.6 59.6h0M305.6 64.1h0M271.1 98.0h0M259.3 90.1h0M264.7 56.5h0M277.4 52.0h0M252.4 86.5h0M276.3 62.8h0M292.1 140.9h0M276.6 73.1h0M277.2 77.2h0M285.2 133.3h0M281.2 90.2h0M290.3 42.6h0M281.8 143.6h0M304.9 72.9h0M283.2 125.3h0M328.1 45.6h0M298.3 71.7h0M265.8 102.6h0M271.8 96.1h0M269.1 118.8h0M329.4 47.1h0M273.4 55.5h0M292.5 43.0h0M263.2 82.3h0M283.7 124.5h0M304.3 59.7h0M293.8 106.3h0M259.6 122.8h0M304.7 86.0h0M280.4 141.0h0M317.4 71.3h0M295.5 118.6h0M293.0 62.3h0M277.6 67.8h0M288.9 121.1h0M300.7 52.4h0M276.4 137.9h0M273.6 60.7h0M264.1 122.0h0M312.5 36.4h0M290.6 134.2h0M259.0 88.9h0M260.2 100.6h0M261.2 98.4h0M317.5 70.3h0M278.0 81.9h0M314.0 48.3h0M290.5 123.8h0M302.3 75.2h0M282.8 72.6h0M287.4 104.6h0M278.7 93.3h0M262.0 64.5h0M293.1 52.3h0M279.2 83.6h0M272.1 129.8h0M287.6 129.9h0M293.9 94.7h0M273.2 78.1h0M298.4 42.8h0M270.5 59.2h0M281.0 129.3h0M273.3 109.0h0M262.7 65.2h0M298.4 71.5h0M270.5 88.4h0M321.8 44.5h0M251.9 102.1h0M293.5 105.8h0M297.2 78.4h0M278.1 68.5h0M287.8 97.9h0M264.8 94.1h0M253.4 89.9h0M292.6 105.9h0M266.2 120.7h0M291.4 136.4h0M260.1 81.1h0M292.8 43.2h0M290.3 116.2h0M261.4 111.2h0M264.0 115.8h0M290.3 136.4h0M261.0 69.8h0M271.0 54.0h0M300.9 84.2h0M276.5 96.9h0M281.5 109.2h0M295.9 90.5h0M265.7 78.1h0M299.0 112.3h0M299.7 57.8h0M308.7 47.9h0M274.7 144.8h0M316.2 64.7h0M260.5 91.6h0M282.5 145.1h0M259.7 114.1h0M302.7 62.7h0M267.0 56.6h0M279.8 137.4h0M319.8 34.4h0M297.7 128.1h0M280.9 66.0h0M280.5 116.3h0M318.4 59.9h0M294.8 43.1h0M294.9 58.5h0M325.3 55.2h0M283.9 111.1h0M262.5 128.9h0M306.4 91.2h0M267.2 61.6h0M261.8 112.7h0M304.7 58.6h0M319.0 66.9h0M289.3 53.5h0M293.3 92.2h0M291.2 60.0h0M273.8 85.5h0M277.2 131.4h0M314.3 53.6h0M293.9 85.9h0M314.9 58.2h0M289.1 106.3h0M290.9 82.4h0M300.7 110.9h0M285.0 109.9h0M276.5 120.5h0M325.2 77.8h0M318.3 59.7h0M295.6 132.1h0M271.9 73.8h0M271.9 135.2h0M288.5 90.0h0M256.9 89.9h0M313.4 55.3h0M281.2 120.9h0M300.5 75.0h0M284.3 57.7h0M288.8 53.3h0M279.1 117.4h0M279.6 127.0h0M281.7 99.1h0M293.0 130.0h0M306.0 74.3h0M261.7 95.7h0M284.3 136.5h0M299.4 59.1h0M281.0 51.3h0M282.2 81.9h0M287.7 139.4h0M300.4 114.8h0M275.1 61.8h0M257.8 104.0h0M270.2 111.6h0M277.9 143.4h0M285.0 131.5h0M285.8 129.9h0M299.6 75.2h0M307.7 39.8h0M269.6 124.2h0M273.2 118.3h0M289.9 139.0h0M294.4 99.6h0M296.1 93.6h0M306.5 76.8h0M268.8 114.1h0M281.8 147.9h0M295.8 101.4h0M265.7 67.0h0M299.6 50.5h0M298.2 60.3h0M276.7 53.6h0M269.3 93.9h0M325.0 45.0h0M278.2 77.4h0M320.8 62.7h0M292.2 120.4h0M312.5 77.1h0M324.7 43.5h0M315.9 78.1h0M283.4 122.5h0M263.8 70.0h0M287.0 141.2h0M293.9 86.8h0M280.5 135.3h0M291.7 50.8h0M277.0 67.6h0M285.8 52.1h0M266.1 132.3h0M278.4 71.6h0M285.0 118.9h0M318.8 45.0h0M271.1 75.5h0M308.2 57.8h0M315.3 54.9h0M300.9 93.2h0M283.7 75.9h0M295.8 99.5h0M289.1 86.1h0M330.7 56.5h0M301.6 44.0h0M324.5 73.9h0M264.4 113.1h0M307.9 70.6h0M316.2 73.4h0M280.5 86.4h0M265.4 105.8h0M309.1 77.4h0M296.5 72.1h0M264.7 70.0h0M297.0 66.8h0M273.3 85.7h0M280.8 143.8h0M308.0 64.4h0M327.1 66.2h0M283.8 89.5h0M271.0 141.3h0M320.1 79.5h0M289.5 117.0h0M293.3 121.2h0M288.8 131.0h0M274.8 92.8h0M296.2 72.6h0M309.5 51.2h0M285.4 85.8h0M292.0 89.6h0M269.7 117.8h0M260.5 119.2h0M274.6 114.9h0M270.0 70.2h0M272.2 141.3h0M273.4 110.5h0M290.7 97.1h0M292.2 86.7h0M281.7 137.4h0M286.7 102.2h0M264.5 94.7h0M279.5 134.8h0M283.6 130.0h0M264.8 87.0h0M270.6 90.2h0M281.3 114.1h0M304.4 106.8h0M293.9 81.3h0M265.6 67.8h0M289.2 93.1h0M269.9 112.3h0M324.0 46.0h0M281.8 110.3h0M265.3 127.3h0M310.0 65.4h0M291.7 83.0h0M263.3 109.7h0M291.8 137.9h0M279.8 83.1h0M285.3 132.3h0M282.9 71.0h0M280.8 143.8h0M305.2 107.4h0M290.3 98.4h0M287.2 85.7h0M265.9 116.5h0M270.0 128.3h0M330.7 48.8h0M264.5 94.3h0M268.5 127.0h0M296.2 107.4h0M310.3 76.5h0M331.5 74.1h0M264.5 125.6h0M289.6 99.3h0M312.6 52.7h0M317.0 56.6h0M298.7 63.8h0M273.0 141.9h0M296.6 79.3h0M256.9 96.0h0M285.2 98.4h0M300.5 77.6h0M302.5 117.9h0M287.8 60.9h0M316.9 77.7h0M273.6 77.1h0M276.7 71.8h0M279.9 108.7h0M309.7 67.2h0M282.5 84.0h0M282.5 78.1h0M319.4 40.3h0M275.4 142.8h0M320.4 75.9h0M294.1 69.6h0M257.8 104.5h0M272.1 139.6h0M261.3 116.2h0M260.1 89.6h0M281.2 131.1h0M285.1 58.3h0M272.6 103.9h0M317.2 69.5h0M272.6 120.3h0M314.5 37.0h0M325.2 38.6h0M296.1 126.8h0M279.0 140.9h0M302.5 50.7h0M269.9 121.9h0M283.4 106.8h0M287.0 124.7h0M295.7 54.7h0M265.9 90.9h0M288.0 55.2h0M269.2 101.4h0M272.5 51.2h0M280.8 110.7h0M258.5 70.7h0M287.5 129.6h0M327.7 64.3h0M292.7 86.5h0M319.3 49.8h0M305.0 65.8h0M311.7 77.6h0M284.6 118.5h0M271.8 55.2h0M264.6 75.7h0M276.2 110.3h0M294.9 52.3h0M261.5 92.4h0M282.0 132.1h0M290.7 83.2h0M311.2 74.4h0M306.4 71.8h0M301.2 56.9h0M326.9 69.7h0M326.5 67.2h0M289.3 54.2h0M293.9 119.5h0M274.8 138.9h0M286.4 49.8h0M268.3 82.6h0M276.9 99.2h0M297.1 93.4h0M286.1 56.9h0M275.0 75.4h0M276.9 115.1h0M296.1 80.5h0M294.3 81.4h0M300.1 60.2h0M269.9 65.3h0M258.4 109.8h0M300.2 75.9h0M319.3 36.7h0M265.1 96.7h0M271.0 114.0h0M285.0 99.2h0M279.0 142.1h0M310.0 54.1h0M290.9 110.4h0M294.8 50.9h0M285.0 118.7h0M294.1 77.3h0M292.1 47.7h0M269.4 131.6h0M274.9 99.3h0M307.0 44.2h0M267.5 128.7h0M276.0 68.0h0M303.1 72.5h0M296.2 88.5h0M313.1 35.4h0M261.1 96.6h0M286.8 140.0h0M294.7 98.5h0M291.1 110.1h0M310.8 48.2h0M275.5 140.3h0M256.0 77.6h0M313.0 62.1h0M288.4 53.5h0M275.1 55.3h0M329.2 77.8h0M332.3 68.2h0M282.0 112.1h0M303.3 108.2h0M274.4 100.1h0M292.4 123.6h0M274.6 89.3h0M262.2 79.6h0M301.2 95.8h0M277.2 84.2h0M272.9 59.9h0M292.4 71.4h0M295.2 115.7h0M260.5 69.9h0M266.0 136.7h0M290.2 125.0h0M297.9 83.1h0M279.7 91.3h0M289.5 96.0h0M251.9 100.6h0M274.2 99.1h0M265.8 98.4h0M300.5 87.8h0M287.2 98.3h0M323.3 57.0h0M286.8 47.3h0M264.4 88.2h0M286.9 45.1h0M291.6 115.8h0M319.1 68.8h0M276.0 55.4h0M287.7 95.3h0M332.6 69.9h0M289.5 99.9h0M282.2 73.3h0M266.6 94.6h0M311.3 44.3h0M295.8 42.8h0M282.8 140.6h0M270.0 139.2h0M277.1 55.9h0M298.6 96.8h0M299.9 86.5h0M289.4 56.5h0M275.0 49.3h0M305.4 56.0h0M270.8 111.8h0M331.0 77.2h0M280.3 143.3h0M271.6 115.3h0M285.3 100.8h0M296.4 44.8h0M286.3 57.5h0M280.2 49.8h0M305.8 45.8h0M274.5 79.6h0M287.2 144.0h0M278.6 143.4h0M311.0 69.1h0M318.3 65.7h0M259.7 67.1h0M274.5 135.2h0M290.0 109.0h0M284.6 50.0h0M287.5 111.7h0M321.8 81.8h0M290.1 61.2h0M274.7 109.1h0M262.1 83.8h0M327.1 66.1h0M288.6 108.0h0M279.6 100.5h0M301.8 56.2h0M280.3 146.5h0M278.6 118.1h0M270.7 119.0h0M285.3 97.9h0M280.8 114.9h0M271.0 140.7h0M280.9 58.2h0M279.2 88.7h0M265.5 130.2h0M264.6 126.2h0M302.9 82.2h0M281.1 88.5h0M276.6 60.0h0M309.2 57.8h0M302.9 109.1h0M297.8 118.2h0M259.5 126.6h0M295.4 87.2h0M252.8 93.2h0M278.7 141.2h0M269.0 83.9h0M306.1 79.1h0M269.6 76.5h0M314.1 58.7h0M267.0 115.0h0M254.2 89.6h0M314.5 50.8h0M267.3 93.8h0M257.9 89.0h0M258.9 94.7h0M317.0 62.3h0M282.8 133.5h0M268.6 101.1h0M273.1 123.8h0M298.3 43.3h0M302.9 70.3h0M272.0 98.6h0M283.4 84.2h0M324.7 68.8h0M274.4 59.6h0M328.4 79.0h0M285.0 62.9h0M292.8 127.3h0M296.6 99.5h0M262.7 75.6h0M301.9 78.7h0M295.6 65.6h0M268.7 91.1h0M300.0 115.1h0M267.5 140.9h0M308.0 41.3h0M261.9 125.9h0M306.0 95.6h0M276.4 123.4h0M273.2 127.8h0M279.1 134.1h0M294.3 124.4h0M288.2 125.7h0M275.9 65.6h0M296.4 76.0h0M287.5 121.4h0M300.9 73.8h0M298.1 65.3h0M331.2 60.7h0M325.2 68.7h0M272.6 48.5h0M268.4 132.8h0M309.1 57.9h0M298.5 96.3h0M302.7 56.8h0M290.9 57.0h0M318.4 52.4h0M286.5 44.4h0M284.4 132.8h0M306.2 76.1h0M259.5 77.4h0M272.3 105.5h0M280.6 123.5h0M312.5 57.6h0M255.9 90.0h0M305.8 50.5h0M269.4 116.9h0M288.8 80.3h0M255.5 99.3h0M308.9 65.5h0M302.9 50.1h0M257.9 99.6h0M283.8 89.2h0M270.7 59.5h0M305.6 49.1h0M307.9 75.8h0M285.3 65.2h0M278.5 95.0h0M291.2 42.5h0M284.4 117.4h0M328.9 63.7h0M294.4 44.8h0M277.8 104.5h0M281.9 88.8h0M301.6 92.6h0M272.0 128.9h0M258.3 76.9h0M287.7 52.5h0M281.7 114.0h0M302.6 112.1h0M292.5 78.2h0M283.8 78.0h0M301.7 78.2h0M316.6 72.4h0M296.7 105.9h0M291.1 47.1h0M279.1 91.2h0M277.9 71.8h0M275.1 99.2h0M311.3 55.2h0M289.5 79.5h0M329.9 56.2h0M277.9 69.8h0M280.9 76.4h0M295.8 80.0h0M330.9 69.1h0M323.1 54.2h0M290.6 102.7h0M283.0 73.4h0M277.9 91.0h0M266.5 136.6h0M262.4 106.0h0M272.9 80.7h0M284.7 135.0h0M285.7 107.5h0M312.9 39.8h0M328.6 46.9h0M262.6 57.9h0M298.8 98.6h0M283.7 85.8h0M272.7 128.7h0M292.3 53.8h0M321.1 55.6h0M331.7 62.6h0M282.3 50.0h0M272.3 106.2h0M326.0 73.2h0M303.6 47.8h0M270.5 129.9h0M266.0 57.6h0M281.8 69.9h0M307.5 59.6h0M311.0 50.2h0M283.5 136.0h0M288.8 116.3h0M294.2 57.7h0M271.7 106.8h0M262.5 73.0h0M288.8 97.6h0M297.0 100.0h0M324.0 68.9h0M299.3 45.4h0M252.5 92.0h0M300.4 103.7h0M321.1 60.5h0M294.0 81.9h0M296.9 66.8h0M276.0 126.7h0M277.9 145.1h0M298.0 55.6h0M306.1 94.3h0M283.0 126.0h0M276.8 130.8h0M267.0 139.6h0M288.9 71.0h0M256.9 111.4h0M271.9 83.3h0M281.3 141.5h0M284.7 61.7h0M277.3 75.1h0M306.1 77.6h0M307.6 57.9h0M275.5 125.6h0M288.4 55.6h0M277.0 97.0h0M319.8 45.1h0M290.9 113.2h0M268.5 56.3h0M281.8 84.8h0M297.6 82.3h0M279.0 118.3h0M284.2 54.0h0M309.5 35.7h0M279.2 64.2h0M271.5 122.2h0M280.7 96.1h0M296.2 61.6h0M297.0 101.8h0M269.8 87.9h0M325.4 78.9h0M306.9 98.8h0M266.2 79.3h0M270.4 101.1h0M255.9 71.7h0M268.1 55.9h0M326.0 46.1h0M314.1 73.5h0M275.6 91.8h0M288.3 55.2h0M289.3 51.7h0M328.3 59.8h0M270.2 141.3h0M265.4 107.2h0M310.5 51.0h0M300.4 65.2h0M254.8 102.0h0M322.3 56.0h0M264.6 72.8h0M287.0 58.9h0M268.7 89.2h0M280.0 80.7h0M260.9 78.6h0M317.6 37.9h0M314.3 53.3h0M294.1 135.1h0M256.5 91.6h0M291.6 89.3h0M291.5 65.3h0M274.6 142.1h0M302.9 106.9h0M270.4 93.6h0M260.3 99.2h0M257.7 103.0h0M276.7 107.0h0M266.2 88.7h0M251.5 90.5h0M262.7 88.2h0M289.3 77.0h0M309.5 69.3h0M251.0 103.6h0M254.9 100.9h0M256.4 107.9h0M273.3 92.8h0M275.1 96.7h0M310.5 44.6h0M260.7 124.9h0M253.6 90.5h0M271.6 123.4h0M296.7 69.0h0M285.2 48.5h0M271.0 90.8h0M301.1 114.7h0M305.7 104.8h0M264.3 120.8h0M298.5 59.7h0M305.9 42.3h0M278.1 112.0h0M291.3 83.3h0M274.3 113.0h0M270.0 127.6h0M288.9 125.1h0M289.4 123.0h0M297.1 77.7h0M308.8 56.5h0M320.4 64.8h0M266.3 127.3h0M294.8 48.3h0M286.5 141.1h0M284.0 121.6h0M285.3 107.1h0M284.7 141.3h0M302.2 55.4h0M322.6 64.0h0M287.8 71.5h0M264.4 104.1h0M258.2 121.2h0M257.3 82.7h0M299.5 105.4h0M269.9 101.4h0M296.8 133.1h0M284.0 62.9h0M269.7 128.6h0M279.5 119.9h0M253.0 99.7h0M315.0 41.3h0M315.6 39.6h0M312.1 34.1h0M313.9 36.4h0M312.4 40.8h0M314.2 37.3h0M315.0 34.6h0M315.4 34.8h0M316.6 35.7h0M313.6 37.5h0M313.0 37.5h0M311.6 36.3h0M313.4 37.1h0M323.2 94.6h0M320.3 84.0h0M319.0 96.9h0M327.0 86.5h0M323.8 91.8h0M310.8 90.3h0M320.2 98.4h0M311.5 96.8h0M325.5 85.5h0M326.7 89.9h0M322.1 82.9h0M325.2 99.7h0M321.5 87.2h0M326.7 96.5h0M323.9 93.4h0M320.3 99.2h0M323.2 97.2h0M323.7 90.5h0M323.8 95.3h0M325.5 93.8h0M325.9 96.8h0M320.9 98.1h0M324.9 95.9h0M323.1 95.9h0M335.3 117.7h0M319.5 106.2h0M330.3 110.1h0M329.9 113.2h0M332.8 118.4h0M336.8 121.3h0M328.6 114.9h0M321.2 106.6h0M320.5 104.7h0M334.5 121.4h0M331.5 113.8h0M331.8 117.3h0M333.8 122.5h0M323.6 109.6h0M324.2 103.1h0M321.7 106.1h0M322.0 106.1h0M334.4 119.3h0M320.2 102.5h0M328.5 119.8h0M344.8 103.3h0M346.9 107.5h0M351.5 108.5h0M347.7 106.2h0M343.1 107.4h0M354.0 99.5h0M353.7 103.2h0M346.0 99.4h0M353.3 106.5h0M352.1 98.2h0M352.6 111.4h0M350.3 108.0h0M343.9 101.2h0M348.6 103.4h0M346.7 100.6h0M343.6 103.2h0M354.8 111.8h0M353.8 103.2h0M347.1 91.0h0M348.7 88.2h0M346.8 95.0h0M347.0 89.9h0M347.9 94.3h0M347.5 87.3h0M242.2 104.1h0M238.2 106.6h0M318.8 128.5h0M319.5 128.1h0" stroke="#F060C0" stroke-width="0.98" stroke-linecap="round" opacity="0.9"/>
<path d="M321.0 51.4h0M300.3 84.0h0M307.4 37.1h0M268.9 87.9h0M281.0 97.6h0M297.1 45.5h0M274.2 58.6h0M298.1 59.5h0M273.2 58.8h0M294.2 85.4h0M288.2 62.0h0M315.0 79.2h0M300.1 76.3h0M309.0 53.5h0M283.2 137.3h0M303.2 61.2h0M297.4 68.8h0M290.4 127.8h0M270.8 101.6h0M297.2 106.3h0M280.5 53.4h0M275.4 80.1h0M320.9 53.0h0M262.8 124.2h0M320.9 47.0h0M297.6 99.2h0M314.5 35.6h0M300.4 109.2h0M266.3 104.5h0M287.7 142.0h0M270.2 137.9h0M289.6 118.6h0M313.9 37.7h0M280.5 127.7h0M312.0 73.9h0M287.0 122.3h0M264.5 89.0h0M283.9 77.0h0M292.8 75.2h0M268.9 85.0h0M327.1 58.3h0M277.2 92.3h0M257.1 75.8h0M266.5 76.3h0M268.4 116.2h0M288.7 104.2h0M266.8 111.7h0M324.0 61.8h0M323.0 53.4h0M316.9 55.0h0M276.5 81.4h0M269.7 117.6h0M255.6 96.1h0M268.9 102.4h0M289.6 54.5h0M264.2 113.7h0M301.5 77.4h0M315.8 42.4h0M327.5 46.5h0M274.2 146.9h0M267.5 98.2h0M266.4 103.1h0M262.6 74.2h0M292.2 91.2h0M270.4 127.6h0M256.6 113.5h0M282.7 82.5h0M279.5 110.6h0M277.0 130.8h0M298.5 89.3h0M284.8 124.1h0M320.1 37.2h0M258.3 93.7h0M298.2 73.1h0M264.1 130.3h0M318.8 55.0h0M283.2 119.3h0M265.6 113.8h0M258.1 68.6h0M286.8 52.5h0M277.2 51.9h0M274.8 70.9h0M317.4 36.7h0M278.5 121.2h0M297.5 64.5h0M271.4 97.9h0M267.5 77.6h0M326.3 70.6h0M253.1 79.4h0M317.6 58.8h0M253.9 107.1h0M304.1 56.6h0M327.0 72.9h0M313.4 62.5h0M282.5 78.9h0M302.8 110.9h0M304.2 94.8h0M290.6 56.3h0M263.4 128.2h0M261.8 59.9h0M294.6 58.2h0M278.4 75.4h0M256.2 105.9h0M266.0 80.5h0M271.5 67.3h0M296.0 74.5h0M295.7 78.7h0M309.3 48.3h0M305.3 56.5h0M274.0 71.4h0M296.3 40.4h0M301.2 85.0h0M258.5 89.2h0M304.9 53.6h0M268.7 53.5h0M255.8 107.9h0M283.3 89.6h0M254.8 104.5h0M262.5 118.2h0M315.3 62.8h0M320.2 43.1h0M264.6 134.1h0M294.6 109.9h0M259.9 70.3h0M278.4 69.4h0M260.0 84.1h0M265.4 117.9h0M262.6 105.5h0M257.7 97.2h0M268.4 76.8h0M320.2 49.3h0M326.5 51.3h0M330.3 69.1h0M267.0 64.2h0M315.3 59.5h0M275.1 78.8h0M300.5 108.9h0M282.2 107.9h0M295.3 131.4h0M269.8 108.6h0M316.6 45.1h0M255.0 99.5h0M287.1 50.8h0M316.5 65.8h0M312.1 57.3h0M318.7 57.5h0M265.2 99.5h0M275.8 109.1h0M267.8 67.9h0M303.3 42.4h0M263.5 121.4h0M269.8 139.9h0M278.4 59.6h0M294.4 87.7h0M280.4 73.3h0M290.9 89.1h0M321.4 49.0h0M320.0 47.4h0M276.3 74.9h0M289.9 115.8h0M267.8 138.3h0M293.0 98.6h0M253.2 80.4h0M306.0 80.5h0M267.9 77.5h0M258.1 68.3h0M272.8 90.0h0M270.3 140.6h0M268.9 123.7h0M327.6 80.9h0M317.1 74.6h0M274.3 53.8h0M286.7 90.6h0M280.3 77.9h0M313.6 33.2h0M292.4 86.3h0M276.1 95.7h0M263.8 128.9h0M326.3 72.5h0M318.4 53.5h0M270.7 129.2h0M325.5 76.2h0M264.4 98.9h0M301.4 70.1h0M294.7 65.7h0M259.3 86.5h0M270.5 58.6h0M325.2 41.8h0M287.1 63.5h0M307.1 42.3h0M269.5 118.7h0M275.9 73.9h0M261.8 115.6h0M270.0 64.1h0M296.3 61.6h0M265.1 114.6h0M257.1 69.7h0M291.0 79.1h0M307.5 62.9h0M290.7 105.7h0M276.6 134.7h0M319.5 58.3h0M302.1 68.8h0M320.4 57.2h0M259.4 75.9h0M259.0 106.0h0M294.0 64.2h0M303.9 63.2h0M270.4 99.0h0M261.3 93.0h0M265.9 95.1h0M290.2 127.0h0M293.8 125.8h0M275.0 117.1h0M294.1 97.1h0M259.5 80.8h0M300.9 73.7h0M269.6 60.3h0M278.6 98.4h0M327.1 72.8h0M306.5 43.4h0M270.9 131.3h0M262.7 105.1h0M297.4 78.1h0M319.6 66.3h0M317.6 48.1h0M316.9 48.5h0M290.8 63.1h0M278.2 138.6h0M310.3 71.5h0M287.3 52.0h0M267.9 82.4h0M257.8 123.1h0M298.7 39.0h0M277.0 79.4h0M258.9 89.8h0M331.7 60.9h0M305.0 92.6h0M287.3 98.7h0M327.6 72.5h0M288.2 60.5h0M299.8 83.2h0M267.4 60.5h0M255.8 85.3h0M310.9 50.5h0M277.2 109.1h0M317.0 66.4h0M296.7 135.1h0M280.0 112.0h0M254.7 89.8h0M302.4 92.9h0M328.0 68.9h0M296.9 128.5h0M274.1 84.5h0M287.0 80.6h0M297.0 62.7h0M322.3 54.8h0M297.4 53.8h0M271.4 138.5h0M326.9 56.7h0M284.8 112.4h0M325.4 51.7h0M268.0 87.6h0M280.3 109.1h0M263.2 68.2h0M271.2 54.5h0M313.7 62.0h0M293.6 98.4h0M266.4 85.8h0M270.8 128.4h0M269.5 86.7h0M308.2 37.3h0M294.6 134.0h0M273.3 80.5h0M315.0 51.3h0M328.2 73.0h0M278.0 77.0h0M275.9 119.2h0M298.9 119.9h0M259.8 126.6h0M298.4 40.6h0M263.7 71.9h0M298.4 67.1h0M300.0 88.1h0M301.2 91.8h0M319.8 70.2h0M293.4 94.2h0M294.8 123.5h0M283.8 80.3h0M295.5 76.2h0M292.6 91.4h0M280.8 70.7h0M275.8 59.9h0M278.8 81.6h0M291.5 52.2h0M265.5 130.9h0M254.9 96.2h0M261.5 77.8h0M261.2 116.0h0M274.0 143.3h0M264.5 86.9h0M284.4 96.2h0M263.6 71.6h0M289.0 100.1h0M294.6 47.2h0M296.8 111.6h0M272.8 69.1h0M282.1 78.4h0M301.6 36.3h0M270.9 78.1h0M282.7 96.8h0M264.3 134.5h0M265.9 134.9h0M262.4 70.9h0M257.8 106.4h0M268.3 119.4h0M282.1 85.5h0M295.4 71.2h0M286.9 89.7h0M295.7 71.9h0M305.7 43.0h0M297.8 116.8h0M280.5 68.8h0M284.5 70.9h0M314.3 51.1h0M300.7 47.3h0M305.9 58.1h0M291.8 47.1h0M260.6 79.1h0M287.1 84.1h0M260.5 113.1h0M297.2 55.1h0M258.6 79.4h0M286.8 49.0h0M279.4 77.2h0M258.5 101.1h0M297.2 108.3h0M308.7 64.0h0M264.4 61.3h0M273.2 65.4h0M270.5 141.2h0M284.7 81.6h0M289.1 141.0h0M291.0 98.5h0M308.4 79.1h0M326.0 47.0h0M268.8 138.1h0M262.7 60.4h0M295.2 71.2h0M281.7 62.5h0M305.3 65.5h0M264.6 125.8h0M328.3 63.0h0M298.8 113.0h0M299.7 108.4h0M300.4 102.1h0M293.3 119.5h0M286.4 74.5h0M289.4 127.1h0M285.8 149.0h0M292.8 42.7h0M330.3 65.7h0M277.4 109.9h0M307.3 71.6h0M288.4 123.4h0M278.1 104.8h0M319.1 55.2h0M292.9 61.4h0M294.6 56.8h0M271.0 122.3h0M304.4 50.2h0M273.4 98.2h0M283.7 83.3h0M295.6 84.6h0M272.3 57.8h0M285.3 75.6h0M309.8 76.2h0M268.2 79.8h0M309.9 82.4h0M270.9 125.9h0M268.8 127.1h0M330.0 48.2h0M274.7 121.0h0M270.4 110.4h0M321.6 37.6h0M306.9 50.3h0M266.0 111.8h0M266.0 108.2h0M284.7 75.6h0M295.8 88.8h0M268.1 127.2h0M272.3 85.2h0M300.7 114.4h0M281.9 125.2h0M266.8 123.9h0M253.7 91.3h0M293.5 138.0h0M265.3 68.2h0M326.9 55.1h0M259.4 86.8h0M322.3 54.9h0M294.6 119.5h0M287.9 82.6h0M280.6 56.8h0M293.4 48.7h0M256.1 76.0h0M323.5 64.0h0M311.0 44.6h0M304.7 54.4h0M281.0 142.1h0M302.9 69.2h0M305.7 105.5h0M311.6 38.8h0M295.3 93.9h0M297.6 98.0h0M264.6 102.8h0M284.1 89.6h0M331.5 65.8h0M305.6 52.6h0M303.0 65.8h0M262.8 72.1h0M274.4 132.2h0M293.5 131.7h0M281.7 64.7h0M267.0 123.8h0M269.5 54.1h0M292.4 136.4h0M312.3 35.1h0M256.2 109.7h0M297.4 109.7h0M284.2 61.2h0M300.0 78.6h0M299.3 63.3h0M310.7 44.6h0M284.3 86.3h0M303.6 41.7h0M319.0 72.2h0M321.3 52.1h0M309.9 75.7h0M267.8 71.0h0M259.5 87.8h0M280.7 139.8h0M300.8 56.5h0M302.9 86.1h0M328.6 69.5h0M280.5 82.3h0M296.9 113.2h0M301.5 60.7h0M258.1 125.9h0M332.5 66.6h0M324.9 55.4h0M259.5 84.7h0M295.6 75.6h0M300.6 44.1h0M280.5 141.8h0M299.4 96.6h0M294.2 131.5h0M287.5 53.2h0M281.2 135.6h0M275.4 98.2h0M301.6 59.0h0M322.7 43.0h0M285.2 96.4h0M298.9 68.2h0M321.3 82.1h0M323.8 74.9h0M295.4 79.8h0M260.5 125.3h0M267.5 109.9h0M280.1 57.5h0M276.9 114.1h0M294.7 131.3h0M273.0 118.5h0M267.2 78.5h0M294.2 87.5h0M272.5 79.8h0M283.7 131.9h0M316.4 68.7h0M272.5 57.1h0M268.6 104.5h0M275.2 85.8h0M278.4 70.7h0M314.1 63.5h0M296.8 68.0h0M301.5 50.2h0M265.6 107.8h0M330.0 69.1h0M286.6 135.2h0M273.2 90.9h0M321.7 43.1h0M272.6 64.5h0M320.4 52.6h0M273.8 88.3h0M260.4 121.4h0M259.3 108.7h0M292.9 130.9h0M263.6 126.3h0M281.2 127.3h0M278.0 96.5h0M266.8 61.8h0M311.5 73.2h0M266.9 103.3h0M285.8 89.4h0M314.0 57.2h0M253.6 85.2h0M267.9 88.6h0M260.4 68.3h0M287.6 93.1h0M297.2 109.6h0M261.6 114.3h0M262.1 72.3h0M277.1 137.9h0M297.6 75.7h0M262.7 82.0h0M289.1 124.1h0M262.9 98.3h0M296.5 121.1h0M263.4 83.4h0M268.6 113.9h0M332.2 72.4h0M271.9 133.1h0M301.0 69.9h0M267.4 122.4h0M291.8 124.6h0M283.7 121.8h0M292.2 111.2h0M276.8 111.0h0M294.2 73.3h0M253.8 84.8h0M275.2 75.6h0M262.9 97.2h0M271.5 127.0h0M269.6 132.1h0M327.1 42.5h0M329.7 57.5h0M279.8 94.0h0M267.4 56.2h0M269.5 107.6h0M272.0 92.3h0M256.9 76.0h0M276.0 81.1h0M297.4 83.3h0M272.0 111.9h0M321.6 76.4h0M279.9 62.8h0M272.5 132.4h0M276.6 56.3h0M284.3 124.9h0M281.6 111.8h0M288.4 89.3h0M323.2 56.6h0M297.5 103.2h0M320.6 70.7h0M278.8 84.4h0M278.9 51.9h0M277.0 106.9h0M261.1 80.4h0M298.8 68.6h0M295.0 110.9h0M297.8 108.5h0M300.9 115.0h0M296.3 77.8h0M299.9 42.8h0M282.5 117.2h0M300.5 82.3h0M282.8 80.7h0M286.1 62.5h0M299.1 61.1h0M258.8 66.6h0M317.9 46.1h0M308.6 63.8h0M295.7 100.1h0M299.2 104.6h0M304.3 44.3h0M324.1 57.8h0M327.0 58.2h0M275.5 138.6h0M295.3 63.1h0M260.0 88.6h0M259.5 115.6h0M289.7 60.5h0M310.6 81.6h0M290.3 102.9h0M290.4 96.0h0M266.0 70.2h0M279.7 86.2h0M269.7 85.0h0M275.8 79.3h0M263.5 96.3h0M257.9 87.6h0M277.5 96.2h0M311.5 38.5h0M287.4 66.5h0M283.1 81.6h0M270.1 113.5h0M281.0 61.4h0M277.6 131.2h0M260.0 116.9h0M332.3 61.6h0M266.0 103.7h0M267.2 67.6h0M261.2 107.5h0M268.1 57.6h0M290.8 79.0h0M278.9 84.8h0M277.0 109.7h0M267.3 75.8h0M310.7 80.0h0M276.6 75.9h0M308.8 39.8h0M328.6 46.3h0M300.4 74.7h0M263.8 99.1h0M258.0 90.0h0M318.3 60.5h0M325.3 46.2h0M286.5 74.5h0M309.1 44.4h0M290.2 51.2h0M298.3 79.7h0M328.7 69.7h0M270.0 116.9h0M261.1 69.0h0M278.0 124.8h0M310.0 69.9h0M269.8 144.5h0M257.0 86.7h0M265.4 70.4h0M292.7 131.6h0M260.0 86.8h0M268.7 71.6h0M261.6 110.3h0M254.9 82.7h0M272.2 76.1h0M257.7 92.6h0M265.1 64.7h0M292.9 106.0h0M266.7 107.7h0M262.4 81.4h0M276.6 117.1h0M273.9 139.3h0M321.2 77.8h0M299.9 102.1h0M272.8 58.1h0M284.3 101.1h0M271.7 93.5h0M283.3 88.7h0M277.1 119.8h0M322.7 71.4h0M326.7 47.8h0M302.8 88.1h0M288.0 49.0h0M290.1 130.8h0M262.1 78.7h0M282.4 111.2h0M283.6 142.5h0M261.6 129.0h0M296.0 101.8h0M301.1 66.9h0M292.8 60.8h0M287.3 71.3h0M270.0 94.4h0M279.9 51.1h0M269.7 79.4h0M312.7 70.9h0M300.6 101.2h0M298.0 113.7h0M322.0 55.9h0M301.8 64.3h0M289.0 107.4h0M276.2 100.0h0M315.8 33.8h0M279.2 130.7h0M256.1 100.8h0M330.5 67.4h0M273.8 83.3h0M297.1 100.2h0M266.8 94.3h0M284.5 106.0h0M271.8 107.4h0M331.1 71.5h0M278.8 80.5h0M263.6 61.3h0M283.5 84.7h0M310.5 40.2h0M299.4 96.9h0M297.0 57.6h0M326.0 59.9h0M279.7 69.7h0M321.4 74.4h0M323.6 72.0h0M268.3 84.2h0M310.8 76.8h0M274.4 60.9h0M277.4 104.9h0M280.8 75.5h0M321.1 75.1h0M263.7 108.2h0M267.3 93.7h0M288.4 63.1h0M286.9 79.1h0M286.9 109.4h0M295.2 109.1h0M279.5 86.4h0M268.1 89.2h0M260.4 95.8h0M282.7 105.8h0M296.5 72.6h0M276.2 133.4h0M321.8 49.9h0M304.4 86.8h0M299.5 114.5h0M294.9 109.6h0M259.9 103.8h0M289.2 125.6h0M330.3 79.0h0M273.8 91.4h0M261.6 126.3h0M261.8 67.7h0M317.0 36.4h0M281.4 71.9h0M297.2 108.6h0M281.6 131.9h0M327.5 55.6h0M296.9 78.5h0M330.4 61.2h0M264.0 60.2h0M318.1 59.7h0M264.3 111.2h0M274.8 64.7h0M327.0 61.0h0M316.0 50.1h0M255.5 93.6h0M327.3 77.3h0M273.4 110.6h0M273.4 141.5h0M279.9 70.6h0M275.0 85.0h0M299.5 84.8h0M279.8 78.3h0M275.6 84.1h0M257.2 77.4h0M298.0 99.6h0M311.6 54.5h0M290.4 139.3h0M257.3 104.8h0M272.5 73.8h0M300.4 86.2h0M320.7 45.0h0M306.4 80.6h0M291.5 131.2h0M301.6 86.9h0M276.2 138.2h0M298.0 68.3h0M273.2 116.7h0M309.6 64.5h0M265.9 116.5h0M290.9 64.9h0M261.8 62.7h0M287.4 82.3h0M326.9 55.5h0M265.2 82.1h0M304.0 40.6h0M300.3 79.0h0M282.5 68.4h0M290.6 93.8h0M281.5 121.3h0M305.3 69.5h0M299.9 115.8h0M271.7 60.0h0M318.3 62.4h0M297.7 86.7h0M315.3 71.4h0M300.0 78.8h0M295.9 46.1h0M287.9 54.7h0M261.9 127.1h0M267.3 100.9h0M268.7 136.2h0M309.1 40.7h0M316.3 73.6h0M311.4 61.8h0M306.6 81.4h0M324.3 55.0h0M328.0 53.7h0M289.8 51.5h0M270.9 102.1h0M259.7 84.7h0M295.5 111.1h0M256.4 73.9h0M265.1 83.2h0M280.5 69.2h0M274.1 98.5h0M295.4 42.8h0M295.7 62.4h0M277.4 50.7h0M295.2 69.0h0M257.3 100.3h0M312.8 36.6h0M291.5 70.3h0M314.8 58.7h0M293.9 49.1h0M281.7 122.7h0M257.0 91.5h0M283.5 66.6h0M255.6 88.6h0M269.4 135.4h0M292.5 129.0h0M289.3 64.0h0M292.1 91.4h0M308.1 38.8h0M274.0 94.5h0M316.1 51.0h0M261.1 103.6h0M257.6 109.7h0M289.4 78.6h0M293.8 79.9h0M302.6 64.8h0M305.6 45.3h0M320.6 45.6h0M273.7 96.0h0M288.1 83.2h0M291.6 67.6h0M282.9 59.0h0M296.9 108.7h0M272.1 62.1h0M298.4 67.3h0M272.1 70.4h0M277.4 96.3h0M263.0 79.9h0M324.7 73.4h0M312.7 78.3h0M297.5 99.7h0M290.4 115.8h0M286.3 87.2h0M255.1 98.6h0M274.8 59.4h0M282.9 50.1h0M263.1 105.1h0M297.6 67.7h0M281.9 108.5h0M303.5 113.8h0M305.7 94.3h0M282.2 119.0h0M276.7 143.9h0M306.1 106.9h0M308.8 81.8h0M277.7 135.8h0M324.6 65.9h0M323.6 74.9h0M295.4 118.3h0M286.7 93.1h0M262.9 91.7h0M314.4 63.9h0M312.9 69.9h0M305.4 72.5h0M316.9 56.1h0M261.2 92.1h0M296.4 91.9h0M270.5 57.9h0M283.5 143.9h0M267.3 137.1h0M304.4 82.0h0M303.2 53.1h0M305.9 100.2h0M291.5 73.9h0M282.1 128.9h0M316.7 72.1h0M323.4 65.8h0M282.1 99.1h0M287.7 107.6h0M292.7 53.8h0M307.9 82.4h0M269.3 115.7h0M268.3 135.6h0M298.6 64.2h0M268.4 93.0h0M269.5 66.0h0M296.2 110.3h0M297.6 51.0h0M258.3 89.7h0M300.7 82.6h0M322.0 47.6h0M305.6 88.7h0M301.3 92.4h0M264.1 76.5h0M276.7 67.1h0M298.3 56.0h0M312.7 37.3h0M309.3 38.7h0M314.0 33.6h0M310.6 38.1h0M312.2 40.1h0M313.4 39.4h0M313.8 38.1h0M318.2 36.7h0M316.0 39.4h0M311.7 37.6h0M312.8 38.6h0M309.9 35.7h0M314.0 39.4h0M310.7 91.4h0M314.2 93.6h0M310.6 94.0h0M320.1 97.3h0M326.4 95.0h0M318.7 96.4h0M314.0 83.5h0M310.2 82.7h0M323.3 96.4h0M320.5 96.5h0M321.6 95.7h0M308.9 91.5h0M326.4 96.7h0M308.7 97.0h0M317.2 88.0h0M325.9 87.6h0M325.1 82.1h0M326.7 93.9h0M305.6 89.0h0M313.1 96.0h0M305.8 94.3h0M323.4 94.9h0M318.1 92.1h0M318.6 90.9h0M309.8 84.9h0M318.6 93.1h0M325.1 90.5h0M323.6 96.6h0M322.6 96.0h0M323.1 94.2h0M320.7 97.4h0M320.1 95.1h0M324.0 93.5h0M321.9 90.5h0M324.3 95.8h0M325.8 90.6h0M320.0 106.2h0M330.0 116.5h0M331.8 120.3h0M319.2 103.7h0M329.2 118.1h0M322.5 104.3h0M320.8 103.6h0M332.7 118.1h0M329.4 112.0h0M334.2 119.2h0M322.7 106.0h0M329.5 114.0h0M332.7 116.5h0M328.6 114.4h0M323.8 108.0h0M334.7 123.3h0M329.7 117.7h0M318.4 104.0h0M331.4 114.4h0M324.6 108.3h0M322.0 108.4h0M348.6 105.8h0M350.0 108.6h0M347.2 106.5h0M346.9 104.2h0M345.9 109.2h0M351.3 110.5h0M342.8 102.5h0M352.6 103.1h0M356.2 103.2h0M346.3 109.1h0M352.5 110.0h0M353.3 109.0h0M346.9 108.7h0M352.7 106.6h0M354.0 111.3h0M346.4 91.9h0M346.9 86.3h0M240.9 97.4h0M243.9 106.8h0M244.3 109.4h0M238.3 92.0h0M243.1 93.2h0M320.4 128.5h0M314.2 127.3h0M317.4 126.8h0M316.4 126.9h0M317.1 150.9h0M315.3 142.4h0" stroke="#36A8F0" stroke-width="0.98" stroke-linecap="round" opacity="0.9"/>
<path d="M305.1 74.4h0M283.1 77.6h0M289.7 87.7h0M292.7 51.1h0M313.2 54.4h0M275.2 97.8h0M273.9 74.4h0M278.7 65.4h0M325.1 55.7h0M281.8 74.6h0M279.4 144.2h0M278.3 62.4h0M282.6 59.9h0M266.2 125.0h0M273.3 92.2h0M270.1 116.6h0M330.2 54.7h0M276.0 105.0h0M285.5 123.5h0M285.6 113.4h0M269.9 65.9h0M291.9 89.4h0M303.9 70.3h0M280.9 98.6h0M285.8 100.0h0M298.5 78.0h0M278.8 92.0h0M283.1 83.5h0M311.6 75.5h0M294.7 113.9h0M297.0 103.2h0M269.3 96.4h0M317.0 48.8h0M263.3 67.9h0M265.6 89.4h0M276.7 109.1h0M304.2 51.5h0M296.6 59.7h0M263.1 109.6h0M289.2 121.5h0M285.7 70.3h0M320.5 37.0h0M286.1 136.2h0M296.1 112.3h0M298.1 122.1h0M280.4 63.5h0M275.2 121.2h0M277.2 119.5h0M301.4 60.6h0M312.7 69.2h0M320.5 72.0h0M287.8 134.9h0M308.3 65.1h0M256.6 95.8h0M285.4 102.2h0M284.9 89.9h0M312.3 37.3h0M282.3 127.0h0M272.5 59.7h0M310.1 66.2h0M268.9 89.5h0M288.8 56.9h0M299.6 72.4h0M268.6 61.5h0M295.5 129.5h0M278.3 59.5h0M324.4 68.3h0M296.2 70.1h0M290.1 137.5h0M275.9 134.4h0M294.8 128.0h0M319.7 56.0h0M270.6 57.6h0M313.9 36.9h0M270.9 117.2h0M296.6 133.0h0M322.4 42.0h0M291.2 45.0h0M295.5 62.8h0M262.1 63.4h0M301.2 60.4h0M277.1 106.9h0M325.1 54.1h0M280.9 90.8h0M272.7 105.9h0M301.8 104.7h0M253.8 106.8h0M322.4 76.9h0M298.1 79.6h0M284.9 136.6h0M271.2 103.6h0M306.1 112.1h0M323.8 69.2h0M266.6 123.7h0M256.6 71.5h0M273.3 119.6h0M272.3 55.2h0M275.3 92.8h0M284.7 119.7h0M326.3 80.1h0M269.4 84.8h0M267.1 69.6h0M277.2 59.6h0M317.9 45.2h0M259.3 75.9h0M288.3 97.2h0M324.0 47.6h0M271.6 96.9h0M270.8 126.5h0M254.7 112.9h0M290.2 111.9h0M296.4 61.3h0M318.8 44.3h0M296.3 130.3h0M287.3 57.5h0M286.2 114.4h0M271.6 109.9h0M279.1 89.7h0M273.4 139.7h0M293.5 102.8h0M256.5 119.6h0M262.3 73.5h0M262.7 114.4h0M289.1 62.8h0M311.9 57.1h0M324.5 63.7h0M305.8 76.4h0M297.0 71.9h0M307.9 79.1h0M281.3 91.2h0M301.3 96.0h0M272.8 103.9h0M333.4 53.9h0M255.5 86.2h0M265.1 114.9h0M270.7 86.4h0M319.9 68.1h0M254.6 79.9h0M287.0 92.8h0M271.7 61.2h0M287.0 83.8h0M276.6 140.0h0M268.6 107.6h0M274.2 99.0h0M291.8 84.6h0M301.4 97.2h0M288.0 106.4h0M326.3 68.5h0M335.0 62.1h0M286.3 51.7h0M262.9 84.4h0M276.4 92.2h0M258.6 70.0h0M261.6 121.3h0M271.8 137.9h0M303.4 77.2h0M272.1 116.4h0M273.9 55.3h0M288.7 139.8h0M271.4 77.9h0M304.2 80.2h0M311.0 37.8h0M286.8 140.7h0M311.7 56.1h0M285.8 129.6h0M303.3 94.4h0M309.4 82.6h0M269.2 134.5h0M268.4 87.6h0M256.0 117.4h0M264.9 134.4h0M273.9 83.8h0M279.4 64.3h0M284.6 90.8h0M309.9 73.8h0M273.0 110.1h0M261.0 74.9h0M263.4 62.9h0M276.2 111.7h0M266.0 89.2h0M316.0 46.8h0M318.9 75.9h0M259.3 99.4h0M253.8 108.4h0M309.6 65.0h0M304.1 111.5h0M306.3 80.1h0M297.4 101.3h0M304.8 53.5h0M256.0 92.6h0M272.4 74.5h0M301.3 63.1h0M265.2 64.0h0M253.3 79.2h0M309.6 60.8h0M332.6 57.2h0M278.4 86.7h0M281.3 131.9h0M252.5 85.4h0M317.0 57.3h0M319.5 53.8h0M327.5 57.7h0M269.6 93.6h0M303.8 64.1h0M311.9 40.1h0M255.1 85.5h0M299.4 112.0h0M264.9 108.6h0M289.2 47.9h0M271.8 101.9h0M261.6 113.3h0M262.0 86.7h0M321.0 37.3h0M286.4 61.1h0M266.0 128.3h0M298.3 69.3h0M281.5 104.3h0M280.8 49.3h0M282.2 74.0h0M276.2 55.2h0M282.6 91.8h0M257.3 70.2h0M319.2 77.3h0M265.4 78.8h0M324.0 53.3h0M295.7 109.8h0M329.8 53.0h0M277.8 68.5h0M258.2 90.4h0M299.7 129.0h0M305.2 90.4h0M278.0 83.6h0M295.0 107.7h0M296.7 66.1h0M323.7 45.0h0M292.4 102.9h0M271.7 138.4h0M321.5 67.2h0M288.8 51.7h0M301.3 56.6h0M270.5 108.1h0M302.4 50.1h0M308.9 83.9h0M273.7 116.5h0M298.2 71.2h0M321.6 57.5h0M294.8 60.1h0M256.1 112.4h0M289.7 69.1h0M317.4 73.0h0M282.8 63.6h0M287.6 122.5h0M291.1 138.0h0M279.3 139.2h0M280.9 50.6h0M302.2 65.5h0M267.6 102.8h0M284.6 106.4h0M292.5 51.5h0M297.9 93.0h0M300.5 126.1h0M295.9 66.0h0M291.7 129.3h0M260.9 122.1h0M289.3 116.5h0M279.4 47.0h0M293.3 121.8h0M274.0 100.8h0M266.9 75.3h0M261.6 118.5h0M278.4 84.1h0M271.0 90.2h0M271.2 108.4h0M323.9 71.7h0M254.5 93.9h0M257.9 116.6h0M274.7 115.0h0M278.3 90.2h0M272.9 93.5h0M260.2 113.3h0M330.6 51.8h0M290.7 70.3h0M320.7 51.4h0M289.2 49.6h0M283.8 68.2h0M256.7 75.6h0M281.3 87.6h0M261.8 65.2h0M251.5 104.0h0M298.8 84.0h0M328.2 77.3h0M262.2 71.7h0M267.4 113.5h0M326.2 60.3h0M290.9 102.5h0M291.7 117.8h0M326.1 42.3h0M271.9 119.2h0M297.8 63.2h0M298.2 120.0h0M281.4 126.8h0M324.9 49.1h0M326.8 52.5h0M284.1 70.1h0M268.8 126.3h0M271.3 140.7h0M262.9 89.6h0M265.8 121.5h0M259.9 99.9h0M284.7 57.2h0M272.8 141.0h0M308.5 60.1h0M271.6 64.8h0M306.5 73.3h0M303.5 110.7h0M284.8 63.2h0M256.1 100.1h0M269.5 77.1h0M269.1 66.6h0M285.5 59.6h0M285.2 57.5h0M323.1 50.0h0M293.2 128.6h0M258.2 82.3h0M252.4 97.0h0M272.9 76.6h0M284.8 118.3h0M268.5 109.6h0M269.2 97.4h0M274.4 72.9h0M292.8 72.4h0M280.2 72.6h0M324.8 75.0h0M289.7 109.3h0M306.1 60.3h0M288.9 84.0h0M288.5 107.3h0M317.0 54.3h0M304.5 79.6h0M302.1 102.0h0M274.0 97.9h0M289.3 137.1h0M273.9 92.6h0M291.4 61.3h0M273.1 132.0h0M281.0 131.2h0M271.3 138.5h0M268.5 101.6h0M296.8 112.8h0M271.8 140.0h0M259.1 116.9h0M308.2 84.1h0M291.2 139.4h0M327.0 69.2h0M288.9 117.4h0M263.6 133.4h0M272.7 140.8h0M276.4 90.9h0M281.9 101.6h0M272.4 68.5h0M291.4 55.7h0M260.1 82.2h0M280.8 141.3h0M317.9 38.2h0M292.5 88.2h0M289.5 47.2h0M257.7 121.7h0M293.4 74.2h0M281.3 81.9h0M279.4 52.0h0M295.3 58.2h0M264.6 108.0h0M282.3 89.9h0M299.2 67.1h0M260.2 81.6h0M266.7 128.6h0M294.0 61.5h0M292.9 47.2h0M314.3 76.2h0M294.8 84.9h0M269.2 70.2h0M279.6 89.0h0M301.2 57.8h0M282.1 113.7h0M296.1 75.0h0M274.1 129.1h0M315.0 73.4h0M316.2 37.5h0M311.2 37.0h0M314.5 36.1h0M317.8 36.9h0M314.4 36.3h0M313.7 38.9h0M316.7 42.5h0M316.7 39.0h0M314.5 38.6h0M325.6 85.0h0M309.5 88.1h0M327.5 86.7h0M325.9 89.0h0M306.5 92.5h0M314.4 89.2h0M319.8 99.2h0M313.8 82.8h0M328.5 93.3h0M322.4 90.6h0M322.5 94.0h0M327.3 115.3h0M329.3 111.1h0M328.1 110.5h0M323.8 112.0h0M321.3 110.0h0M324.0 108.0h0M326.1 107.9h0M328.4 113.5h0M325.3 111.9h0M323.5 111.0h0M324.9 110.1h0M320.7 104.5h0M321.6 110.1h0M331.5 121.5h0M325.2 108.6h0M318.7 99.8h0M343.2 108.1h0M348.6 110.2h0M348.7 99.3h0M349.4 103.9h0M348.4 90.3h0M240.3 103.2h0M315.3 143.7h0" stroke="#DDA22A" stroke-width="0.98" stroke-linecap="round" opacity="0.9"/>
<path d="M299.4 92.7h0M301.1 99.2h0M303.8 91.1h0M289.1 48.7h0M268.8 99.9h0M306.9 37.7h0M293.7 52.5h0M294.7 111.4h0M330.2 52.9h0M281.0 46.7h0M295.5 78.4h0M266.9 104.3h0M319.7 76.7h0M312.1 31.2h0M301.7 66.7h0M268.8 99.2h0M304.2 83.9h0M277.9 49.9h0M278.0 130.6h0M268.0 51.6h0M282.8 80.1h0M305.9 44.2h0M255.9 95.2h0M266.0 114.8h0M293.8 75.7h0M267.8 66.8h0M267.0 134.2h0M284.9 108.7h0M276.6 73.9h0M293.9 100.2h0M300.0 43.4h0M300.2 39.4h0M330.4 49.2h0M325.7 61.8h0M325.2 51.6h0M268.7 81.3h0M293.5 78.7h0M306.4 94.9h0M266.0 98.1h0M291.7 99.7h0M276.9 62.5h0M318.4 60.0h0M280.5 146.7h0M290.0 96.7h0M290.6 128.2h0M266.7 60.0h0M300.3 106.0h0M274.9 71.5h0M316.4 56.6h0M268.3 101.4h0M276.8 78.5h0M299.0 51.5h0M290.5 110.9h0M278.0 92.3h0M256.2 104.5h0M274.0 106.4h0M312.5 36.5h0M304.9 63.1h0M282.0 130.3h0M275.0 69.2h0M298.1 47.0h0M265.7 100.7h0M296.2 62.8h0M256.7 88.9h0M281.1 139.9h0M261.0 111.1h0M297.5 78.3h0M280.4 143.4h0M302.0 51.5h0M265.3 110.0h0M281.0 62.1h0M263.1 90.9h0M281.2 132.9h0M288.9 129.4h0M298.7 119.9h0M306.4 42.5h0M272.9 139.9h0M290.0 45.5h0M275.3 95.1h0M274.7 62.7h0M277.2 140.9h0M305.1 87.3h0M281.5 129.0h0M253.9 109.7h0M297.6 101.1h0M257.9 78.9h0M275.4 103.8h0M306.4 72.5h0M261.9 108.7h0M310.0 74.3h0M261.7 129.4h0M320.6 70.5h0M274.8 117.8h0M300.7 128.6h0M256.3 115.2h0M262.5 78.0h0M290.6 119.0h0M327.4 66.8h0M300.7 93.2h0M294.1 94.4h0M290.3 115.1h0M292.5 60.8h0M325.5 76.7h0M294.5 107.3h0M308.9 43.0h0M271.2 67.3h0M326.5 65.0h0M296.6 125.4h0M273.0 55.1h0M294.1 118.9h0M291.2 55.9h0M295.3 67.5h0M288.4 44.7h0M327.1 46.6h0M303.1 78.6h0M303.7 79.1h0M307.9 47.8h0M299.8 116.4h0M252.3 109.9h0M294.0 125.7h0M289.7 73.6h0M280.8 111.2h0M283.8 59.8h0M293.2 111.6h0M310.4 78.7h0M327.3 47.2h0M309.3 45.9h0M326.0 80.1h0M312.0 71.9h0M307.6 65.6h0M314.8 75.7h0M270.3 110.5h0M290.1 65.0h0M294.1 83.7h0M276.9 101.3h0M300.7 53.4h0M279.6 45.5h0M297.6 125.3h0M285.9 128.7h0M279.2 65.5h0M255.1 99.9h0M290.0 96.7h0M307.4 76.2h0M258.3 119.2h0M261.8 68.8h0M276.3 63.7h0M274.7 92.8h0M287.3 43.7h0M277.7 85.9h0M274.1 85.4h0M254.6 108.6h0M260.5 111.0h0M306.5 45.3h0M271.9 116.6h0M291.5 133.6h0M260.7 126.4h0M328.5 50.5h0M274.4 119.7h0M254.0 101.2h0M262.3 60.3h0M299.4 66.7h0M286.9 82.6h0M273.5 71.4h0M308.4 56.3h0M292.2 78.3h0M296.6 63.5h0M283.6 68.0h0M271.5 89.7h0M278.7 79.9h0M273.5 55.2h0M285.6 51.3h0M270.4 142.6h0M322.2 35.8h0M259.1 88.7h0M260.9 109.9h0M294.3 109.2h0M277.1 140.2h0M316.6 40.7h0M269.4 122.2h0M296.4 83.6h0M268.1 68.3h0M291.9 104.8h0M279.9 119.2h0M290.9 71.8h0M295.5 42.5h0M271.3 141.3h0M298.5 104.2h0M319.4 58.5h0M286.8 104.5h0M258.3 109.5h0M267.1 81.2h0M321.3 57.1h0M292.1 85.9h0M272.3 122.2h0M264.2 59.2h0M277.2 130.1h0M314.6 81.8h0M296.8 57.5h0M275.2 132.0h0M289.3 87.4h0M267.3 112.5h0M277.9 74.6h0M268.2 92.0h0M276.0 50.9h0M296.7 91.3h0M317.0 81.3h0M279.0 66.0h0M291.0 91.8h0M313.1 33.4h0M304.7 39.0h0M283.0 90.1h0M273.4 81.8h0M269.0 62.8h0M269.9 108.7h0M295.6 130.2h0M271.7 122.3h0M268.7 63.6h0M302.6 42.0h0M259.8 64.3h0M321.9 40.3h0M273.2 96.0h0M297.2 44.3h0M275.3 80.4h0M328.2 47.0h0M286.6 106.3h0M308.0 75.4h0M276.5 64.4h0M292.1 68.5h0M300.9 94.9h0M324.7 73.2h0M298.3 63.8h0M280.1 116.2h0M296.3 109.7h0M302.5 68.4h0M331.9 76.9h0M273.9 91.1h0M258.9 61.3h0M291.8 106.1h0M254.5 92.1h0M261.0 106.6h0M286.0 65.6h0M285.8 75.0h0M265.1 127.5h0M268.7 71.2h0M278.6 53.0h0M293.4 128.1h0M306.3 47.6h0M294.0 88.9h0M298.6 113.8h0M309.0 82.3h0M276.9 67.7h0M260.5 70.6h0M268.6 80.2h0M317.8 56.4h0M295.3 42.8h0M258.4 105.3h0M258.0 108.3h0M285.4 96.6h0M284.9 90.8h0M293.8 68.2h0M308.6 42.6h0M326.1 41.1h0M309.3 34.0h0M260.2 89.5h0M315.1 45.4h0M294.2 88.3h0M258.8 95.2h0M284.8 72.5h0M273.5 99.2h0M290.5 129.1h0M253.6 88.2h0M288.3 59.9h0M291.9 115.5h0M269.6 60.5h0M284.6 80.9h0M275.0 61.5h0M277.3 138.0h0M266.6 73.4h0M273.6 74.3h0M264.7 119.6h0M312.4 48.2h0M279.4 73.4h0M325.7 75.9h0M290.7 131.8h0M273.0 55.0h0M272.7 138.8h0M321.1 55.7h0M256.0 113.9h0M298.1 78.7h0M265.2 56.8h0M261.1 83.0h0M319.3 48.0h0M319.9 34.3h0M282.5 99.5h0M259.0 81.4h0M269.4 136.9h0M276.7 113.7h0M328.9 66.5h0M298.8 76.2h0M253.1 87.5h0M278.3 60.2h0M289.0 93.9h0M266.6 104.4h0M292.3 45.5h0M266.5 114.9h0M312.5 79.6h0M300.6 68.9h0M288.7 84.5h0M293.0 125.5h0M264.2 68.6h0M318.8 43.4h0M270.7 108.5h0M294.4 93.3h0M305.0 90.0h0M315.5 50.9h0M301.5 76.7h0M277.2 90.1h0M286.8 60.1h0M271.7 102.9h0M324.7 57.8h0M309.6 59.3h0M311.3 50.2h0M303.1 61.3h0M325.5 74.0h0M279.5 53.7h0M273.1 141.6h0M296.8 121.9h0M288.2 84.3h0M277.6 54.8h0M288.4 53.9h0M286.6 93.7h0M301.1 53.9h0M283.6 86.3h0M254.8 116.7h0M315.8 68.7h0M310.7 36.8h0M263.9 103.5h0M264.0 108.2h0M313.6 34.1h0M319.0 38.0h0M314.0 34.2h0M313.7 37.5h0M314.3 36.5h0M314.4 34.0h0M313.6 38.6h0M315.1 38.3h0M313.3 96.4h0M314.8 95.1h0M324.0 84.2h0M315.8 95.4h0M328.3 94.9h0M324.7 94.0h0M322.2 94.5h0M324.1 101.7h0M320.7 105.3h0M322.2 103.4h0M324.8 111.9h0M327.7 107.9h0M319.8 103.6h0M323.6 104.2h0M346.4 100.0h0M350.2 109.8h0M356.6 104.2h0M346.8 101.7h0M351.9 105.5h0M348.2 107.5h0M348.5 102.5h0M350.4 110.9h0M352.0 101.3h0M348.4 108.9h0M356.0 105.7h0M313.8 129.8h0M321.7 125.4h0" stroke="#AC7CD6" stroke-width="0.98" stroke-linecap="round" opacity="0.9"/>
<path d="M258.6 79.8h0M326.3 67.4h0M273.4 76.0h0M304.7 37.3h0M270.6 71.4h0M322.1 49.1h0M278.3 53.2h0M275.3 120.7h0M270.9 49.3h0M275.7 72.5h0M326.6 76.4h0M293.1 129.7h0M304.1 104.8h0M289.0 127.9h0M260.7 92.5h0M294.9 74.9h0M305.7 66.2h0M270.5 106.0h0M298.7 74.4h0M265.8 59.4h0M262.6 113.0h0M257.7 88.5h0M294.3 75.7h0M286.1 108.7h0M293.2 68.0h0M318.2 43.6h0M316.4 82.7h0M306.4 32.5h0M291.9 88.6h0M299.8 44.9h0M275.0 114.0h0M260.7 102.1h0M302.4 108.6h0M308.9 55.2h0M271.1 66.0h0M275.8 117.1h0M285.4 76.0h0M272.5 131.7h0M291.5 97.7h0M307.7 55.1h0M320.1 70.6h0M271.8 111.0h0M284.3 64.3h0M302.5 98.1h0M288.9 116.4h0M279.6 50.1h0M321.8 71.8h0M271.3 137.5h0M259.8 62.9h0M270.2 131.2h0M315.0 40.1h0M285.9 141.1h0M295.4 97.4h0M283.0 50.3h0M267.1 65.7h0M297.1 125.9h0M261.5 89.9h0M283.2 134.3h0M263.2 73.0h0M291.0 73.8h0M269.0 71.6h0M265.6 117.6h0M272.9 92.4h0M330.8 60.3h0M276.2 146.1h0M277.0 58.7h0M274.4 78.6h0M315.6 75.2h0M319.6 53.8h0M274.1 114.9h0M274.3 57.7h0M268.3 140.5h0M314.4 51.2h0M258.5 85.8h0M292.9 136.4h0M269.2 88.8h0M278.0 55.4h0M258.8 111.5h0M265.6 68.2h0M280.2 113.5h0M323.0 68.7h0M267.5 124.8h0M283.8 91.1h0M268.2 133.7h0M288.7 42.0h0M261.8 122.9h0M306.1 54.6h0M261.2 102.4h0M258.2 112.7h0M256.5 82.8h0M276.0 104.8h0M331.3 70.8h0M298.2 115.0h0M270.9 58.1h0M305.9 51.4h0M318.2 57.7h0M260.2 78.4h0M271.8 73.6h0M268.3 138.7h0M278.9 130.8h0M283.9 125.8h0M275.7 105.5h0M276.2 90.2h0M277.7 76.1h0M267.2 108.1h0M259.7 106.0h0M278.7 141.5h0M327.2 73.8h0M262.4 116.7h0M315.7 58.8h0M261.8 66.3h0M286.5 48.4h0M325.6 82.4h0M324.2 69.5h0M329.3 57.7h0M293.6 44.4h0M269.5 132.3h0M277.3 69.1h0M263.5 107.0h0M291.2 103.6h0M287.0 110.4h0M313.0 57.1h0M307.9 64.1h0M287.4 121.1h0M261.6 92.0h0M293.0 115.9h0M267.0 70.1h0M296.5 74.8h0M270.1 91.6h0M278.9 126.0h0M321.4 55.7h0M279.2 135.1h0M326.0 79.3h0M265.6 125.6h0M285.4 50.4h0M269.1 123.2h0M268.8 52.1h0M279.1 126.4h0M279.3 89.4h0M265.2 104.8h0M285.0 143.1h0M268.9 125.4h0M313.3 44.4h0M305.1 70.8h0M286.0 140.1h0M260.4 110.3h0M276.8 61.1h0M303.1 52.1h0M270.8 73.8h0M300.9 81.2h0M277.0 125.1h0M297.8 69.1h0M294.9 80.2h0M253.4 81.9h0M294.5 121.6h0M268.9 137.6h0M258.5 68.0h0M272.2 88.1h0M271.6 140.1h0M259.6 102.9h0M299.9 58.4h0M273.8 60.4h0M278.1 82.6h0M294.3 63.5h0M271.9 129.7h0M284.7 73.1h0M304.2 109.9h0M304.4 82.5h0M270.0 51.7h0M297.6 68.8h0M292.4 43.3h0M273.4 52.2h0M299.9 56.0h0M298.0 118.9h0M304.5 58.3h0M256.4 107.2h0M290.6 55.2h0M294.0 100.5h0M294.2 55.4h0M266.7 90.6h0M278.4 51.0h0M302.5 108.0h0M331.9 70.8h0M328.4 73.2h0M285.6 94.7h0M265.7 124.3h0M291.9 84.1h0M263.0 134.8h0M280.0 123.0h0M295.1 65.0h0M294.8 57.0h0M283.1 107.9h0M300.5 84.7h0M298.5 112.2h0M303.5 73.6h0M263.9 122.1h0M274.9 110.9h0M337.1 63.3h0M270.4 131.8h0M271.5 118.4h0M293.7 108.3h0M299.7 122.4h0M277.8 49.4h0M301.2 63.8h0M275.2 136.6h0M303.3 59.0h0M287.6 115.2h0M327.0 68.0h0M299.3 104.5h0M278.5 95.8h0M290.1 52.2h0M282.6 123.9h0M322.2 57.8h0M287.4 118.4h0M287.7 134.8h0M298.8 96.7h0M278.8 52.7h0M290.8 55.3h0M325.3 73.7h0M328.8 62.6h0M279.4 52.0h0M286.5 124.9h0M286.8 70.3h0M291.8 108.9h0M313.9 41.6h0M306.1 48.1h0M282.4 55.1h0M305.3 42.5h0M287.1 97.2h0M335.8 55.4h0M283.7 70.8h0M298.5 84.8h0M268.3 66.0h0M318.4 56.6h0M264.9 83.0h0M298.4 134.2h0M281.8 56.0h0M320.1 38.6h0M286.2 111.5h0M305.4 46.3h0M320.2 46.8h0M306.8 43.1h0M270.4 136.2h0M269.4 130.6h0M308.5 60.6h0M309.1 56.3h0M262.4 58.1h0M285.5 126.9h0M285.6 78.4h0M266.1 87.0h0M283.7 113.6h0M293.9 53.3h0M271.0 136.9h0M285.2 71.0h0M261.2 124.6h0M331.1 59.5h0M285.4 50.1h0M302.9 66.5h0M289.6 80.6h0M328.2 73.2h0M286.5 62.2h0M262.9 100.3h0M291.5 140.6h0M267.6 80.9h0M299.3 103.8h0M278.4 119.0h0M302.1 96.5h0M316.8 48.1h0M289.9 99.9h0M288.5 112.6h0M269.3 135.3h0M280.2 61.3h0M266.5 118.8h0M278.3 59.8h0M306.3 52.8h0M321.1 53.7h0M292.7 121.3h0M260.9 118.2h0M265.7 120.4h0M295.8 45.2h0M292.9 49.2h0M297.9 109.6h0M272.4 87.8h0M313.9 41.4h0M276.8 52.8h0M257.3 105.5h0M266.5 57.2h0M258.4 88.9h0M286.4 91.0h0M255.3 79.9h0M310.3 47.3h0M272.8 95.5h0M267.6 83.7h0M262.0 125.0h0M251.2 100.9h0M287.1 94.6h0M307.4 43.3h0M288.2 122.6h0M301.0 58.1h0M284.5 73.3h0M326.8 60.9h0M330.4 76.0h0M265.5 75.3h0M264.2 59.1h0M298.9 82.3h0M305.5 43.5h0M260.6 62.7h0M292.4 65.7h0M321.4 63.2h0M328.3 60.1h0M293.3 78.2h0M258.5 80.6h0M284.8 53.7h0M290.1 129.2h0M320.5 52.6h0M283.0 142.7h0M327.2 78.8h0M280.7 137.0h0M273.0 106.2h0M265.0 122.3h0M303.7 77.0h0M291.0 122.0h0M259.2 110.7h0M277.5 58.6h0M277.6 128.3h0M265.8 88.0h0M298.8 118.0h0M311.5 62.2h0M292.6 84.8h0M328.5 52.4h0M286.9 141.2h0M311.0 58.1h0M277.4 91.3h0M263.3 114.1h0M263.5 84.8h0M284.6 98.4h0M267.4 57.0h0M284.1 65.3h0M258.1 107.7h0M271.0 93.1h0M287.9 128.3h0M305.4 71.7h0M263.8 89.5h0M330.8 55.3h0M300.2 61.1h0M271.4 93.8h0M305.8 42.7h0M295.1 41.9h0M325.0 63.1h0M291.8 114.2h0M284.2 126.2h0M292.6 59.3h0M280.2 106.8h0M330.2 78.7h0M285.2 141.7h0M279.3 84.3h0M266.0 141.0h0M273.0 109.6h0M274.8 124.8h0M285.6 45.7h0M311.8 50.0h0M268.2 62.7h0M298.5 98.7h0M254.8 100.9h0M302.0 59.0h0M303.9 83.9h0M291.3 94.9h0M306.5 66.4h0M268.8 97.5h0M302.4 43.3h0M273.5 62.4h0M258.4 76.9h0M280.2 140.7h0M280.1 60.3h0M264.7 94.3h0M330.8 57.5h0M273.7 94.6h0M283.3 106.0h0M322.8 72.8h0M279.7 104.6h0M263.5 83.1h0M308.7 41.7h0M289.4 84.5h0M261.3 126.4h0M270.3 116.6h0M315.2 77.7h0M275.7 76.9h0M268.9 85.0h0M306.1 59.8h0M298.4 72.7h0M307.4 63.0h0M263.1 124.9h0M305.3 66.8h0M301.6 54.8h0M281.5 96.8h0M292.7 76.3h0M294.8 83.5h0M277.9 46.1h0M317.7 37.7h0M288.7 76.8h0M317.0 35.9h0M261.5 69.4h0M316.3 75.1h0M289.1 112.6h0M252.8 103.1h0M326.2 76.1h0M323.2 69.9h0M284.5 128.7h0M256.3 113.2h0M288.9 117.8h0M290.8 125.6h0M298.6 107.7h0M289.9 113.0h0M287.7 70.6h0M296.4 91.5h0M281.3 82.8h0M302.4 73.2h0M266.0 86.4h0M300.4 81.3h0M261.5 75.9h0M283.8 102.9h0M277.6 146.3h0M269.3 93.2h0M307.8 40.3h0M268.6 81.3h0M292.6 59.2h0M304.4 86.9h0M259.8 103.4h0M295.1 54.4h0M298.2 106.8h0M270.5 94.5h0M292.0 120.0h0M266.4 66.7h0M260.8 66.5h0M256.9 72.7h0M260.2 65.0h0M268.6 131.2h0M280.9 85.6h0M277.3 102.5h0M276.4 51.5h0M267.9 129.2h0M282.5 113.0h0M289.4 48.4h0M303.1 50.4h0M270.8 131.4h0M290.3 103.5h0M268.6 103.6h0M297.0 105.4h0M289.7 64.5h0M269.7 54.9h0M301.2 65.4h0M310.1 71.3h0M293.1 103.7h0M300.5 71.2h0M261.5 69.8h0M282.1 79.9h0M308.1 63.2h0M329.3 76.7h0M302.5 71.7h0M277.9 91.5h0M302.4 109.5h0M273.3 98.2h0M256.3 96.0h0M285.6 123.0h0M278.5 103.1h0M319.8 78.5h0M278.4 85.8h0M279.4 137.8h0M279.8 48.4h0M283.2 103.0h0M273.6 114.0h0M290.6 94.6h0M290.4 89.3h0M313.4 78.1h0M267.9 138.5h0M293.9 61.3h0M268.0 122.7h0M294.5 123.2h0M320.7 38.2h0M301.1 58.8h0M304.3 106.1h0M302.2 96.7h0M268.6 133.9h0M296.9 120.3h0M278.3 58.6h0M286.1 98.4h0M302.2 50.4h0M300.0 107.2h0M288.6 102.5h0M314.5 38.8h0M306.1 73.9h0M287.2 62.6h0M301.3 84.4h0M310.0 45.1h0M296.9 120.8h0M302.5 87.1h0M283.8 86.1h0M251.0 101.5h0M261.6 84.2h0M278.1 60.5h0M265.1 125.3h0M271.8 75.3h0M267.5 89.0h0M268.0 53.5h0M294.8 123.0h0M278.0 73.7h0M301.3 86.7h0M269.3 107.4h0M264.7 105.5h0M271.1 129.9h0M264.7 98.1h0M278.7 124.3h0M279.9 75.7h0M280.8 143.8h0M281.2 102.4h0M268.0 135.5h0M276.7 65.0h0M295.0 131.0h0M297.0 126.0h0M266.2 103.9h0M271.8 89.8h0M276.6 54.0h0M265.0 62.0h0M301.4 119.5h0M312.1 69.3h0M297.9 112.8h0M269.1 70.5h0M263.1 79.4h0M284.8 86.1h0M278.9 92.2h0M305.0 104.4h0M272.1 95.6h0M294.0 100.0h0M312.9 53.3h0M270.3 112.4h0M274.0 119.1h0M312.8 40.7h0M293.0 65.9h0M331.5 69.7h0M268.1 122.2h0M279.6 79.0h0M262.2 124.0h0M296.5 64.6h0M286.6 54.7h0M292.5 87.9h0M279.3 121.2h0M287.0 82.2h0M318.7 44.4h0M277.2 60.9h0M273.0 61.1h0M255.3 88.7h0M272.1 78.7h0M267.4 63.3h0M280.0 82.3h0M266.9 105.8h0M262.0 61.6h0M279.0 122.4h0M266.7 96.0h0M318.2 69.1h0M298.8 101.0h0M280.6 82.1h0M256.6 77.7h0M288.7 133.2h0M292.3 85.7h0M268.8 56.6h0M253.8 80.3h0M326.0 56.7h0M280.6 52.1h0M280.5 73.4h0M325.6 65.7h0M324.4 56.7h0M320.8 58.6h0M316.7 77.1h0M299.1 124.1h0M295.2 123.1h0M286.8 67.6h0M280.6 71.3h0M269.3 132.6h0M258.9 86.4h0M293.2 64.2h0M303.4 57.3h0M272.9 76.9h0M263.7 78.6h0M263.4 116.8h0M311.2 76.3h0M298.3 94.7h0M262.6 125.5h0M262.0 122.6h0M319.0 54.4h0M262.7 130.3h0M273.6 85.6h0M274.7 130.8h0M291.4 92.1h0M330.2 64.9h0M299.6 105.5h0M275.2 131.9h0M294.6 59.6h0M261.1 118.5h0M281.4 54.4h0M289.2 74.7h0M289.0 43.8h0M263.8 67.8h0M300.3 42.7h0M287.3 131.8h0M270.5 119.2h0M285.7 72.6h0M311.6 73.1h0M322.1 54.3h0M283.7 111.0h0M273.7 126.0h0M291.3 137.9h0M317.5 82.7h0M307.5 34.5h0M311.9 38.7h0M311.6 37.9h0M316.8 38.1h0M317.5 36.8h0M311.7 40.9h0M312.2 37.0h0M312.4 36.1h0M314.9 40.4h0M314.8 39.0h0M316.6 41.8h0M314.1 38.4h0M314.1 34.8h0M313.1 37.2h0M312.9 38.0h0M313.7 37.9h0M316.2 38.0h0M312.0 40.9h0M315.4 39.3h0M310.9 92.8h0M310.1 94.4h0M316.9 82.6h0M327.5 88.2h0M318.7 94.5h0M325.3 85.3h0M313.5 96.6h0M309.0 87.5h0M305.3 97.4h0M326.8 94.9h0M311.7 90.5h0M327.8 82.1h0M315.4 94.9h0M324.7 97.0h0M322.9 92.5h0M321.2 92.4h0M323.5 94.2h0M330.5 119.9h0M320.8 103.6h0M330.5 109.2h0M326.5 114.0h0M321.6 105.8h0M326.4 111.4h0M325.2 112.4h0M328.9 112.4h0M331.6 117.6h0M320.3 109.7h0M332.7 120.0h0M319.3 103.4h0M331.3 115.5h0M327.2 116.5h0M328.7 115.6h0M319.6 103.8h0M321.4 104.4h0M328.5 110.3h0M325.8 114.1h0M321.1 107.8h0M322.5 112.7h0M325.5 109.5h0M326.3 108.8h0M330.4 118.6h0M353.0 108.3h0M348.7 101.2h0M346.7 99.0h0M349.9 103.5h0M352.8 104.6h0M353.6 105.3h0M347.5 106.6h0M351.3 101.4h0M351.8 105.7h0M352.5 106.0h0M346.5 101.4h0M351.1 107.3h0M351.6 107.0h0M239.3 94.1h0M243.2 95.7h0M246.0 107.9h0M241.2 91.3h0M321.4 128.8h0M318.8 125.9h0M315.6 132.8h0M314.3 132.8h0M316.6 146.0h0M317.9 150.7h0" stroke="#F4716A" stroke-width="0.98" stroke-linecap="round" opacity="0.9"/>
<path d="M261.6 88.3h0M302.8 90.3h0M262.4 81.5h0M317.6 62.2h0M299.0 113.6h0M284.2 71.4h0M282.1 86.6h0M276.3 130.4h0M297.1 115.9h0M274.9 96.5h0M288.9 95.8h0M317.9 57.6h0M268.6 56.3h0M285.3 104.1h0M308.6 52.0h0M301.6 95.6h0M291.8 58.0h0M303.1 81.5h0M275.7 65.7h0M277.4 58.4h0M266.3 68.0h0M266.4 61.3h0M299.3 119.5h0M294.6 78.9h0M289.8 65.0h0M270.7 80.8h0M280.7 86.6h0M274.2 128.9h0M331.4 60.2h0M308.5 65.6h0M325.8 61.7h0M302.4 89.1h0M295.0 77.2h0M285.7 105.5h0M275.8 58.8h0M292.7 83.0h0M295.0 41.6h0M283.8 97.0h0M269.7 76.5h0M261.9 114.3h0M298.8 67.0h0M312.1 60.3h0M309.2 71.6h0M294.1 83.1h0M279.4 65.6h0M262.1 65.7h0M255.2 112.2h0M268.3 98.4h0M298.3 122.6h0M317.2 81.1h0M304.0 69.8h0M284.6 139.8h0M326.5 44.2h0M312.2 77.6h0M281.7 58.6h0M311.7 76.9h0M295.2 127.2h0M290.8 125.4h0M287.6 73.8h0M307.5 69.2h0M329.5 68.6h0M256.4 85.4h0M272.2 136.7h0M259.8 99.0h0M304.5 74.8h0M304.3 60.9h0M253.3 83.2h0M287.2 53.5h0M304.3 61.4h0M300.3 75.2h0M252.8 86.1h0M269.5 141.2h0M303.4 101.0h0M274.0 77.3h0M287.5 114.4h0M295.5 107.6h0M316.8 51.1h0M287.8 117.0h0M267.6 75.8h0M305.3 86.3h0M258.4 84.9h0M313.4 38.7h0M276.4 54.4h0M291.1 51.3h0M306.4 91.4h0M290.0 118.4h0M271.5 124.6h0M278.5 88.7h0M285.9 93.6h0M289.6 103.9h0M273.7 121.7h0M313.6 45.3h0M314.6 70.7h0M285.4 128.2h0M279.5 75.1h0M264.7 95.3h0M294.2 50.8h0M286.0 71.9h0M282.7 73.2h0M283.4 142.7h0M289.4 128.3h0M260.3 86.1h0M276.9 145.5h0M310.4 37.9h0M280.1 137.5h0M284.9 94.9h0M282.6 70.0h0M307.9 81.7h0M300.1 116.3h0M310.2 73.7h0M298.6 53.3h0M291.2 70.2h0M293.6 100.2h0M281.5 64.6h0M268.5 70.1h0M282.9 75.2h0M275.8 79.6h0M297.0 76.2h0M326.5 72.6h0M303.0 97.2h0M258.2 108.4h0M278.3 79.8h0M271.1 107.0h0M302.8 50.3h0M275.6 111.0h0M270.2 113.0h0M290.5 94.2h0M331.1 53.6h0M258.3 117.3h0M260.2 128.1h0M272.8 89.3h0M289.4 115.2h0M271.9 124.1h0M297.2 127.1h0M287.8 124.7h0M271.4 104.1h0M268.2 114.2h0M260.0 66.1h0M316.5 66.5h0M273.2 122.2h0M277.1 63.6h0M270.4 67.6h0M278.9 123.5h0M282.0 139.8h0M306.5 56.7h0M295.6 106.3h0M316.9 55.9h0M258.4 119.7h0M319.1 41.3h0M292.1 88.6h0M263.0 71.0h0M283.0 80.9h0M289.2 92.8h0M262.7 60.7h0M326.4 60.5h0M269.2 114.6h0M257.1 104.9h0M307.9 74.1h0M294.1 57.9h0M258.8 68.7h0M277.0 70.7h0M267.9 108.6h0M249.8 88.9h0M266.4 127.9h0M279.0 53.8h0M306.7 40.3h0M256.4 97.5h0M315.9 55.7h0M279.4 68.0h0M272.6 136.8h0M290.2 136.5h0M260.2 91.1h0M318.2 52.1h0M279.7 115.6h0M267.9 108.0h0M296.9 72.5h0M264.2 99.5h0M295.6 56.5h0M279.6 53.5h0M293.5 86.7h0M291.5 133.9h0M291.1 109.4h0M293.7 114.8h0M282.3 95.9h0M294.0 42.3h0M278.3 68.8h0M282.7 132.1h0M290.8 46.7h0M293.3 125.4h0M330.9 65.7h0M302.3 108.4h0M281.4 106.3h0M291.5 92.4h0M319.7 57.6h0M285.6 90.3h0M307.0 92.3h0M263.5 112.4h0M256.3 94.3h0M272.3 91.0h0M275.4 138.1h0M320.4 37.3h0M263.1 130.2h0M276.0 131.5h0M311.9 69.2h0M322.8 59.5h0M299.2 117.8h0M267.3 61.0h0M275.7 80.3h0M270.3 89.9h0M306.4 95.4h0M251.5 95.8h0M320.0 41.6h0M294.1 121.8h0M258.1 98.1h0M282.1 115.0h0M255.4 92.4h0M257.4 119.9h0M269.3 66.9h0M257.1 110.5h0M270.7 52.7h0M299.8 101.1h0M283.4 132.5h0M281.0 92.8h0M263.6 87.9h0M259.8 102.9h0M254.0 103.8h0M322.4 73.2h0M274.8 121.3h0M281.3 106.4h0M284.3 111.1h0M275.1 69.1h0M288.9 53.9h0M314.5 61.3h0M290.0 124.6h0M297.7 118.4h0M263.6 94.5h0M275.4 142.0h0M305.5 71.3h0M287.9 94.0h0M304.1 95.5h0M293.2 131.3h0M256.6 101.4h0M298.4 119.1h0M285.2 137.4h0M311.3 63.9h0M293.0 58.2h0M261.4 99.3h0M267.9 63.5h0M261.9 88.8h0M272.5 78.8h0M283.2 119.7h0M273.2 101.1h0M269.8 66.6h0M306.2 95.1h0M298.3 73.9h0M262.6 121.1h0M325.9 63.9h0M304.6 50.5h0M299.0 65.1h0M302.1 94.7h0M298.6 46.1h0M270.8 65.8h0M330.0 55.4h0M280.9 138.6h0M326.4 73.9h0M323.0 69.0h0M278.3 107.6h0M258.8 95.5h0M314.8 74.2h0M272.1 104.0h0M292.0 109.2h0M286.1 81.6h0M275.8 99.4h0M273.4 72.8h0M291.6 129.6h0M307.6 83.3h0M263.5 101.8h0M294.9 113.9h0M309.4 50.8h0M282.5 85.3h0M324.3 52.1h0M330.5 54.9h0M283.3 140.0h0M309.5 79.5h0M309.6 38.7h0M325.5 81.3h0M257.0 92.6h0M261.0 110.5h0M264.4 87.8h0M302.8 107.2h0M265.3 79.5h0M287.6 131.3h0M316.4 53.3h0M282.0 53.8h0M306.0 36.9h0M276.4 63.4h0M312.6 63.7h0M267.7 54.2h0M324.7 74.6h0M288.3 130.4h0M297.2 91.4h0M319.9 44.7h0M259.8 120.7h0M282.0 83.7h0M286.2 68.2h0M290.2 131.2h0M320.2 82.8h0M300.9 122.6h0M273.0 98.6h0M304.4 101.8h0M308.4 64.3h0M274.3 66.8h0M318.7 38.1h0M280.4 79.5h0M329.2 72.6h0M328.3 67.6h0M288.8 131.9h0M289.7 83.4h0M310.9 79.9h0M277.0 87.6h0M302.7 52.5h0M274.0 104.7h0M283.2 119.9h0M292.6 89.6h0M285.8 51.2h0M263.0 131.6h0M290.1 55.8h0M253.7 95.2h0M282.2 101.1h0M273.4 110.5h0M264.9 75.8h0M295.1 117.1h0M270.7 98.6h0M321.0 54.0h0M288.5 114.4h0M315.4 80.0h0M277.9 67.5h0M265.4 108.0h0M267.8 69.0h0M270.7 66.2h0M260.0 68.0h0M262.9 119.6h0M265.7 106.9h0M264.8 99.6h0M312.0 45.4h0M280.5 105.1h0M266.0 102.9h0M279.3 67.9h0M263.8 112.7h0M301.1 61.0h0M296.7 109.6h0M277.6 131.2h0M259.6 99.4h0M289.3 72.0h0M279.7 70.0h0M325.0 69.0h0M302.7 90.3h0M281.4 112.7h0M273.3 77.1h0M255.6 82.2h0M273.3 48.3h0M288.0 141.0h0M291.5 89.2h0M274.7 144.0h0M301.5 115.4h0M283.9 125.2h0M279.2 131.1h0M303.6 73.0h0M270.1 137.6h0M272.9 112.3h0M274.4 56.6h0M273.0 73.8h0M301.8 119.1h0M276.4 98.7h0M270.0 72.7h0M290.4 63.1h0M260.2 99.1h0M271.4 101.7h0M326.6 68.3h0M289.3 59.7h0M295.3 87.0h0M288.3 84.8h0M290.8 71.3h0M263.6 77.4h0M275.8 89.3h0M269.1 123.1h0M262.8 124.4h0M258.9 112.4h0M268.8 74.5h0M285.9 90.0h0M278.9 70.6h0M256.5 92.8h0M259.1 70.3h0M268.5 135.9h0M282.9 51.5h0M266.2 132.6h0M298.5 123.9h0M296.0 106.2h0M258.7 110.9h0M282.7 121.6h0M288.7 57.5h0M322.4 56.7h0M291.0 97.4h0M261.5 79.2h0M270.7 130.8h0M291.4 86.5h0M285.7 63.9h0M318.2 42.8h0M285.0 65.6h0M287.0 79.7h0M266.9 109.4h0M265.8 72.3h0M298.0 121.0h0M260.5 74.3h0M292.7 61.1h0M303.5 113.1h0M300.5 56.6h0M315.0 69.6h0M288.9 132.5h0M271.2 106.2h0M274.4 70.1h0M253.9 91.7h0M271.6 50.4h0M289.1 66.6h0M271.1 57.0h0M277.4 106.3h0M328.0 51.6h0M294.7 39.2h0M321.0 55.1h0M295.2 103.1h0M325.4 57.6h0M256.4 81.4h0M273.4 94.6h0M331.2 56.2h0M297.0 107.2h0M274.6 84.0h0M294.2 80.3h0M273.6 59.3h0M325.8 77.6h0M282.3 130.8h0M292.0 48.0h0M304.8 108.1h0M302.0 74.1h0M302.9 47.8h0M275.0 59.3h0M287.3 107.9h0M293.4 89.7h0M275.3 73.7h0M280.2 69.9h0M316.0 75.4h0M276.4 146.2h0M265.2 124.6h0M284.6 56.1h0M275.8 74.7h0M266.3 84.4h0M264.4 73.6h0M326.1 51.9h0M263.9 117.2h0M284.4 98.8h0M301.4 52.2h0M253.6 113.9h0M263.3 122.0h0M289.3 72.9h0M288.1 43.2h0M312.7 61.6h0M288.2 82.9h0M309.0 55.7h0M299.6 104.7h0M290.6 138.6h0M268.0 133.4h0M309.1 62.2h0M283.4 134.1h0M263.6 116.4h0M293.1 43.8h0M307.3 40.1h0M326.0 69.9h0M270.6 103.0h0M295.8 99.0h0M320.0 59.5h0M314.5 37.3h0M318.0 39.5h0M276.1 106.7h0M270.5 122.4h0M322.8 41.7h0M323.4 53.4h0M324.3 56.4h0M282.7 111.7h0M325.6 64.4h0M300.9 101.4h0M300.6 42.5h0M275.2 121.8h0M285.1 125.7h0M313.3 75.9h0M285.9 110.3h0M254.9 91.8h0M291.2 65.5h0M293.6 66.4h0M273.1 121.1h0M289.7 86.6h0M284.3 90.6h0M315.8 40.1h0M272.0 142.1h0M299.6 54.1h0M276.7 113.8h0M298.4 102.9h0M291.8 57.0h0M315.8 67.6h0M255.6 96.2h0M326.1 75.2h0M294.9 80.8h0M277.5 51.6h0M303.9 84.1h0M277.8 124.9h0M265.7 78.5h0M286.0 142.2h0M272.0 75.9h0M267.1 111.2h0M318.2 68.3h0M283.4 47.5h0M273.4 90.9h0M281.7 101.0h0M308.9 81.7h0M305.4 87.9h0M306.4 59.0h0M263.0 66.5h0M285.9 79.4h0M270.1 131.8h0M298.6 93.5h0M258.9 98.7h0M288.9 60.1h0M276.5 123.0h0M295.9 96.4h0M263.5 65.3h0M276.9 95.2h0M254.2 87.2h0M304.6 94.0h0M290.0 101.2h0M307.1 39.4h0M272.9 65.8h0M265.8 85.4h0M257.3 92.2h0M280.8 128.4h0M263.4 91.3h0M288.0 41.2h0M267.3 121.1h0M302.7 117.6h0M282.4 88.8h0M314.1 79.0h0M277.7 74.3h0M294.9 47.4h0M287.1 95.8h0M329.2 51.9h0M270.3 87.0h0M305.1 79.6h0M273.0 138.6h0M326.9 67.4h0M259.2 68.7h0M282.7 132.0h0M282.1 106.6h0M295.6 132.1h0M296.2 65.2h0M276.8 130.6h0M269.9 65.2h0M321.0 74.6h0M273.9 133.3h0M309.6 40.6h0M269.5 101.2h0M300.2 74.6h0M318.8 82.1h0M301.7 46.0h0M293.1 75.5h0M275.7 133.1h0M305.2 103.6h0M274.9 69.6h0M280.8 57.2h0M306.4 47.3h0M305.2 65.7h0M274.6 56.0h0M300.6 102.0h0M317.3 75.2h0M310.6 36.8h0M293.5 120.8h0M311.1 70.5h0M300.2 50.8h0M287.4 122.6h0M289.6 63.8h0M271.7 134.2h0M302.2 57.1h0M287.3 105.6h0M322.8 63.3h0M298.5 42.6h0M324.7 39.7h0M294.1 107.8h0M299.3 103.2h0M266.8 113.6h0M288.9 117.0h0M298.4 56.3h0M314.8 82.9h0M267.0 94.5h0M281.2 140.6h0M320.6 56.3h0M330.1 66.5h0M281.6 111.6h0M295.1 125.6h0M270.0 97.8h0M307.8 77.4h0M306.1 64.3h0M271.9 91.5h0M290.6 127.3h0M294.3 64.9h0M317.1 62.1h0M301.3 100.6h0M292.7 83.8h0M314.2 52.4h0M287.7 70.4h0M269.1 61.9h0M297.1 92.4h0M321.1 66.7h0M304.2 105.2h0M315.7 36.8h0M276.0 112.4h0M290.7 127.5h0M297.9 72.8h0M267.1 123.8h0M253.2 84.2h0M326.9 65.1h0M264.6 73.0h0M281.9 104.0h0M271.8 58.7h0M270.5 57.8h0M255.4 91.2h0M331.9 66.2h0M295.9 99.0h0M325.7 64.2h0M323.4 60.7h0M266.2 75.6h0M310.6 41.2h0M300.2 111.9h0M291.7 67.0h0M294.6 107.4h0M276.0 117.1h0M295.6 53.7h0M270.8 86.1h0M306.5 104.2h0M300.8 70.1h0M283.3 81.8h0M276.8 73.6h0M276.1 138.2h0M280.8 70.7h0M268.9 135.0h0M284.3 138.1h0M300.2 102.8h0M279.6 107.4h0M284.4 75.5h0M329.3 67.3h0M292.6 128.1h0M266.5 101.7h0M281.5 138.5h0M275.3 83.6h0M293.0 84.0h0M313.4 37.7h0M311.7 39.4h0M313.3 33.9h0M314.5 38.8h0M314.8 37.6h0M311.0 37.6h0M315.2 35.5h0M316.3 35.7h0M314.1 35.3h0M315.0 34.3h0M308.7 35.1h0M310.0 33.4h0M308.3 38.4h0M310.6 36.9h0M317.9 37.6h0M317.2 92.3h0M311.1 88.3h0M318.3 91.1h0M328.9 89.0h0M312.5 90.9h0M326.6 86.3h0M325.0 87.4h0M308.0 87.3h0M320.0 83.3h0M318.7 98.6h0M315.2 90.6h0M309.8 84.5h0M323.0 94.5h0M326.1 97.9h0M323.1 92.6h0M324.7 92.2h0M317.1 108.1h0M326.7 111.7h0M319.6 103.5h0M322.7 106.4h0M331.7 119.9h0M332.0 122.0h0M317.7 107.5h0M333.0 122.1h0M327.6 114.8h0M327.6 113.0h0M325.3 108.0h0M319.9 104.3h0M322.5 98.0h0M331.8 119.0h0M330.6 118.0h0M322.1 108.1h0M330.7 113.0h0M326.4 110.6h0M350.1 107.1h0M345.2 109.2h0M344.6 106.6h0M351.0 97.5h0M351.2 107.9h0M351.8 107.2h0M344.2 106.3h0M357.2 104.3h0M355.8 103.5h0M346.8 105.6h0M354.8 98.5h0M356.0 103.7h0M344.9 109.0h0M345.9 99.9h0M347.6 94.0h0M347.8 89.7h0M238.5 95.9h0M245.7 100.6h0M238.5 109.2h0M246.4 99.4h0M322.9 133.7h0M316.3 125.3h0M316.1 125.8h0M315.0 131.9h0M323.2 130.2h0M317.0 128.7h0" stroke="#22B865" stroke-width="0.98" stroke-linecap="round" opacity="0.9"/>
<path d="M257.1 70.8h0M329.4 72.1h0M261.8 115.5h0M296.9 59.1h0M320.6 46.5h0M286.3 62.7h0M270.2 77.7h0M308.3 80.1h0M271.0 119.3h0M293.4 57.5h0M301.3 104.0h0M273.3 66.6h0M285.9 128.0h0M262.3 123.9h0M313.1 42.0h0M292.7 105.5h0M253.2 85.7h0M323.1 74.7h0M327.4 74.9h0M260.9 120.2h0M282.9 96.3h0M262.2 72.0h0M265.7 66.1h0M259.4 121.0h0M274.5 52.0h0M302.5 65.4h0M281.3 99.3h0M321.6 63.6h0M302.8 61.5h0M303.2 74.3h0M289.3 130.3h0M286.4 111.1h0M291.3 133.2h0M277.8 83.6h0M270.0 101.5h0M288.6 126.7h0M264.7 66.8h0M279.6 142.3h0M299.3 62.6h0M304.3 46.4h0M266.4 58.9h0M300.8 108.3h0M271.7 140.4h0M302.3 60.7h0M263.5 113.1h0M257.5 100.1h0M312.1 81.2h0M279.9 56.4h0M271.2 62.8h0M303.3 66.1h0M280.7 131.7h0M328.0 71.7h0M263.6 75.7h0M291.7 62.7h0M270.3 127.3h0M255.9 112.1h0M285.4 109.3h0M299.4 68.3h0M293.6 47.6h0M287.4 82.1h0M292.8 79.5h0M298.9 91.5h0M327.5 58.8h0M320.9 48.9h0M316.7 48.5h0M300.8 94.8h0M313.4 34.9h0M259.1 79.9h0M286.6 96.9h0M273.6 85.5h0M287.3 127.2h0M333.1 69.0h0M259.1 96.9h0M294.1 60.3h0M272.6 123.4h0M295.9 124.1h0M293.9 119.0h0M280.4 62.6h0M253.1 93.0h0M296.5 117.5h0M298.0 131.4h0M326.8 50.7h0M304.4 67.2h0M266.4 116.2h0M303.4 57.0h0M263.4 61.4h0M290.9 85.9h0M325.9 49.5h0M257.4 84.4h0M292.7 72.4h0M264.2 69.5h0M291.3 108.6h0M275.7 131.7h0M298.2 118.2h0M284.0 92.1h0M278.5 138.5h0M267.4 78.4h0M288.6 77.1h0M268.8 101.3h0M323.4 50.3h0M265.5 103.3h0M290.6 119.5h0M293.3 131.5h0M288.8 94.2h0M327.6 63.6h0M259.8 108.0h0M260.9 100.6h0M291.5 121.7h0M268.4 55.8h0M259.7 64.0h0M276.7 120.8h0M296.2 97.8h0M278.6 102.4h0M323.0 62.1h0M295.1 72.3h0M266.8 72.3h0M308.6 56.3h0M296.0 100.0h0M264.2 85.0h0M279.2 98.1h0M282.9 106.3h0M289.7 126.0h0M302.0 80.7h0M312.4 75.1h0M268.7 105.7h0M296.8 100.8h0M317.1 57.7h0M286.8 83.4h0M299.0 67.5h0M256.6 91.9h0M298.7 64.0h0M318.1 56.8h0M271.0 92.8h0M304.4 39.7h0M282.6 55.0h0M269.7 131.2h0M257.9 76.7h0M298.3 128.9h0M294.9 61.7h0M296.5 131.2h0M262.8 69.4h0M266.3 90.5h0M292.5 106.1h0M258.4 86.6h0M279.4 117.8h0M295.3 57.1h0M258.5 102.3h0M328.1 69.7h0M299.6 68.4h0M303.2 41.9h0M271.1 116.8h0M300.6 88.0h0M265.4 107.6h0M299.7 85.4h0M288.2 46.5h0M299.4 70.6h0M307.8 42.8h0M307.4 90.1h0M259.9 74.5h0M269.3 109.7h0M328.4 65.8h0M276.4 107.8h0M294.4 122.4h0M267.5 110.4h0M264.1 92.2h0M263.4 133.9h0M270.4 66.9h0M289.2 74.9h0M257.9 105.6h0M310.2 73.1h0M275.9 71.9h0M266.0 100.8h0M274.0 62.5h0M275.8 127.5h0M300.8 97.1h0M294.6 58.0h0M334.8 65.1h0M301.7 43.5h0M319.7 58.4h0M318.6 76.3h0M293.9 75.3h0M275.7 69.6h0M285.2 109.0h0M255.4 76.1h0M268.0 114.1h0M258.5 96.4h0M274.9 115.8h0M278.0 122.7h0M257.6 72.9h0M294.9 67.6h0M303.0 85.3h0M311.1 42.1h0M291.2 122.3h0M287.4 117.0h0M287.0 71.1h0M305.4 88.6h0M309.3 73.4h0M264.9 113.1h0M293.4 98.4h0M302.3 64.2h0M325.3 61.8h0M265.3 89.0h0M284.6 134.4h0M288.3 141.2h0M284.2 121.4h0M300.3 116.5h0M259.6 110.5h0M314.6 80.2h0M304.3 107.0h0M252.0 105.8h0M284.4 95.6h0M296.1 64.2h0M303.2 94.2h0M253.7 96.6h0M258.8 103.5h0M283.2 131.7h0M253.9 89.3h0M265.5 124.8h0M266.5 69.8h0M284.4 113.4h0M324.2 76.6h0M296.0 125.7h0M263.2 95.5h0M303.8 37.7h0M328.9 79.7h0M304.0 95.7h0M260.6 86.8h0M326.4 54.8h0M294.1 62.9h0M274.0 82.1h0M282.4 82.8h0M276.5 121.1h0M259.6 88.6h0M285.3 111.9h0M256.6 120.9h0M306.9 46.5h0M289.1 137.5h0M313.1 71.8h0M319.8 60.9h0M275.4 63.4h0M268.7 57.4h0M265.3 114.8h0M291.7 113.3h0M280.1 92.8h0M273.6 90.1h0M310.8 59.7h0M290.6 95.1h0M282.6 91.7h0M295.3 67.5h0M277.2 133.9h0M255.8 94.0h0M277.5 87.5h0M289.6 56.8h0M266.2 89.6h0M332.5 67.0h0M307.8 85.8h0M309.2 37.2h0M297.6 92.2h0M269.9 103.3h0M275.4 87.6h0M263.1 82.6h0M318.8 52.6h0M300.5 63.3h0M264.1 56.8h0M299.0 71.0h0M277.3 130.8h0M281.2 53.8h0M302.2 43.1h0M267.0 71.1h0M290.3 94.0h0M257.5 72.1h0M302.9 103.3h0M308.2 78.7h0M273.0 82.3h0M324.2 54.4h0M270.6 95.6h0M324.4 69.7h0M293.7 79.2h0M302.9 104.2h0M304.0 69.0h0M287.1 90.3h0M300.8 111.1h0M279.7 72.2h0M312.3 76.8h0M292.7 130.7h0M280.7 88.8h0M326.8 64.6h0M306.5 93.6h0M318.2 77.1h0M296.0 75.6h0M300.2 60.8h0M255.2 93.9h0M262.4 97.2h0M299.5 61.7h0M284.5 108.3h0M276.5 139.5h0M301.6 45.3h0M273.9 58.9h0M276.5 119.7h0M316.8 47.3h0M267.3 83.8h0M291.3 87.5h0M283.7 101.5h0M263.6 92.7h0M333.3 64.3h0M291.5 90.8h0M285.4 71.3h0M293.5 78.9h0M294.6 133.9h0M283.2 48.4h0M269.7 88.8h0M275.1 111.6h0M314.9 53.0h0M309.0 74.2h0M306.5 83.1h0M283.8 136.1h0M293.3 80.4h0M280.9 65.2h0M265.6 104.2h0M279.9 65.2h0M312.1 40.0h0M320.0 96.5h0M314.4 94.9h0M326.2 83.3h0M318.2 86.3h0M321.1 99.3h0M311.2 95.3h0M309.7 87.7h0M323.5 95.5h0M326.0 97.7h0M323.3 91.9h0M322.4 94.5h0M325.5 108.4h0M333.6 117.9h0M332.1 123.2h0M323.2 114.7h0M320.6 101.6h0M322.0 104.6h0M332.2 121.1h0M327.3 118.7h0M348.9 107.5h0M345.8 104.7h0M350.6 112.2h0M346.4 106.3h0M239.7 100.6h0M321.4 132.2h0M315.1 139.8h0M317.1 145.6h0" stroke="#72B43A" stroke-width="0.98" stroke-linecap="round" opacity="0.9"/>
<circle cx="347" cy="19.50" r="1.75" fill="#F4716A"/>
<text x="354.6" y="22.00" font-size="7.3" fill="#231f20" textLength="54.0" lengthAdjust="spacingAndGlyphs"><tspan font-style="italic">C5AR1</tspan> (<tspan font-style="italic">n</tspan> = 1,115)</text>
<circle cx="347" cy="28.07" r="1.75" fill="#DDA22A"/>
<text x="354.6" y="30.57" font-size="7.3" fill="#231f20" textLength="53.3" lengthAdjust="spacingAndGlyphs"><tspan font-style="italic">CXCR2</tspan> (<tspan font-style="italic">n</tspan> = 752)</text>
<circle cx="347" cy="36.64" r="1.75" fill="#72B43A"/>
<text x="354.6" y="39.14" font-size="7.3" fill="#231f20" textLength="51.4" lengthAdjust="spacingAndGlyphs"><tspan font-style="italic">GPR18</tspan> (<tspan font-style="italic">n</tspan> = 552)</text>
<circle cx="347" cy="45.21" r="1.75" fill="#22B865"/>
<text x="354.6" y="47.71" font-size="7.3" fill="#231f20" textLength="61.3" lengthAdjust="spacingAndGlyphs"><tspan font-style="italic">GPR183</tspan> (<tspan font-style="italic">n</tspan> = 1,202)</text>
<circle cx="347" cy="53.78" r="1.75" fill="#18BEC6"/>
<text x="354.6" y="56.28" font-size="7.3" fill="#231f20" textLength="57.2" lengthAdjust="spacingAndGlyphs"><tspan font-style="italic">GPR34</tspan> (<tspan font-style="italic">n</tspan> = 1,158)</text>
<circle cx="347" cy="62.35" r="1.75" fill="#36A8F0"/>
<text x="354.6" y="64.85" font-size="7.3" fill="#231f20" textLength="58.4" lengthAdjust="spacingAndGlyphs"><tspan font-style="italic">GPR84</tspan> (<tspan font-style="italic">n</tspan> = 1,607)</text>
<circle cx="347" cy="70.92" r="1.75" fill="#AC7CD6"/>
<text x="354.6" y="73.42" font-size="7.3" fill="#231f20" textLength="52.1" lengthAdjust="spacingAndGlyphs"><tspan font-style="italic">LPAR2</tspan> (<tspan font-style="italic">n</tspan> = 633)</text>
<circle cx="347" cy="79.49" r="1.75" fill="#F060C0"/>
<text x="354.6" y="81.99" font-size="7.3" fill="#231f20" textLength="49.6" lengthAdjust="spacingAndGlyphs"><tspan>NTC</tspan> (<tspan font-style="italic">n</tspan> = 1,437)</text>
<path d="M239.5 153.6V135.6M239.5 153.6H257.5" stroke="#4a5a78" stroke-width="0.85" fill="none"/>
<path d="M238.0 136.0L239.5 132.6L241.0 136.0Z" fill="#4a5a78"/>
<path d="M257.1 152.1L260.5 153.6L257.1 155.1Z" fill="#4a5a78"/>
<text x="238.10" y="163.00" font-size="7.2" textLength="23.80" lengthAdjust="spacingAndGlyphs">UMAP 1</text>
<text x="234.80" y="143.00" font-size="7.2" text-anchor="middle" textLength="25.60" lengthAdjust="spacingAndGlyphs" transform="rotate(-90 234.80 143.00)">UMAP 2</text>
<path d="M437.5 153.6V135.6M437.5 153.6H455.5" stroke="#4a5a78" stroke-width="0.85" fill="none"/>
<path d="M436.0 136.0L437.5 132.6L439.0 136.0Z" fill="#4a5a78"/>
<path d="M455.1 152.1L458.5 153.6L455.1 155.1Z" fill="#4a5a78"/>
<text x="435.80" y="163.00" font-size="7.2" textLength="24.50" lengthAdjust="spacingAndGlyphs">UMAP 1</text>
<text x="433.50" y="143.00" font-size="7.2" text-anchor="middle" textLength="25.60" lengthAdjust="spacingAndGlyphs" transform="rotate(-90 433.50 143.00)">UMAP 2</text>
<path d="M460.5 101.2h0M500.4 45.9h0M492.7 56.8h0M490.7 91.7h0M505.7 109.1h0M486.0 98.8h0M477.6 98.9h0M480.2 123.4h0M459.8 86.1h0M501.6 127.6h0M490.7 138.1h0M482.7 97.3h0M475.2 144.2h0M503.1 86.6h0M479.1 68.6h0M480.0 145.2h0M495.7 96.6h0M476.6 132.3h0M503.6 83.2h0M466.1 130.5h0M519.0 77.7h0M534.5 52.2h0M494.9 115.2h0M513.0 83.6h0M528.1 77.2h0M459.0 86.9h0M510.3 67.4h0M477.0 64.3h0M477.3 98.9h0M526.3 51.4h0M524.2 72.7h0M502.2 59.9h0M495.9 125.2h0M512.6 75.3h0M465.9 66.0h0M508.5 104.7h0M460.3 88.4h0M507.5 57.5h0M491.0 136.4h0M461.4 105.4h0M466.2 117.7h0M463.4 82.4h0M482.7 98.7h0M519.7 64.1h0M472.0 116.5h0M477.1 122.7h0M457.1 110.0h0M488.5 98.8h0M533.7 56.6h0M536.4 61.3h0M485.0 85.3h0M469.8 126.5h0M459.7 85.2h0M523.0 75.0h0M477.4 68.0h0M506.9 51.8h0M488.9 124.2h0M461.2 118.3h0M525.5 71.5h0M510.1 101.1h0M496.8 118.5h0M512.6 73.5h0M460.2 79.7h0M486.4 100.8h0M486.6 82.9h0M499.1 93.2h0M497.8 78.4h0M513.7 82.7h0M471.0 58.2h0M521.3 37.6h0M508.5 79.5h0M473.7 95.1h0M530.4 46.5h0M482.6 68.8h0M498.6 117.1h0M529.4 67.1h0M484.9 75.1h0M496.2 102.7h0M477.6 143.4h0M502.2 113.1h0M469.0 124.0h0M466.5 68.2h0M500.4 108.4h0M482.8 85.0h0M498.5 95.5h0M534.4 65.4h0M482.6 61.0h0M466.2 67.5h0M516.1 49.9h0M466.1 75.3h0M458.6 107.0h0M492.5 141.5h0M508.2 116.1h0M464.3 65.8h0M482.7 48.1h0M500.3 50.5h0M479.3 53.4h0M515.3 41.5h0M493.7 81.2h0M458.8 97.3h0M536.2 77.7h0M476.4 102.8h0M535.4 57.4h0M465.7 104.4h0M464.5 80.1h0M497.4 71.6h0M471.8 99.0h0M479.5 141.2h0M460.7 92.1h0M483.7 146.0h0M529.4 70.6h0M494.3 55.1h0M483.5 52.1h0M529.6 54.7h0M507.5 52.5h0M507.8 109.9h0M496.4 76.7h0M482.3 139.6h0M517.6 40.6h0M505.9 116.9h0M490.1 132.9h0M475.0 62.2h0M507.0 43.7h0M514.6 60.0h0M499.1 44.2h0M502.9 114.2h0M533.3 70.5h0M481.0 68.1h0M509.8 102.9h0M481.7 89.7h0M512.3 81.5h0M515.0 79.4h0M516.2 69.8h0M483.3 84.8h0M496.2 134.8h0M472.4 72.7h0M465.0 112.5h0M459.5 109.1h0M512.3 81.4h0M511.0 41.5h0M508.4 40.8h0M518.3 38.8h0M505.9 45.2h0M467.5 66.6h0M496.4 119.9h0M469.9 77.1h0M501.0 118.4h0M460.7 108.6h0M471.2 60.8h0M472.9 100.3h0M480.7 90.6h0M504.1 95.7h0M510.8 84.3h0M484.0 47.8h0M490.9 59.6h0M466.6 98.3h0M463.8 87.8h0M479.5 51.4h0M485.5 61.5h0M533.2 46.7h0M484.5 98.9h0M474.0 133.2h0M489.7 44.9h0M475.3 84.5h0M467.2 129.1h0M531.7 74.8h0M500.5 75.1h0M485.1 94.8h0M515.9 75.2h0M496.8 59.8h0M497.6 120.9h0M489.9 101.4h0M459.5 110.9h0M483.6 143.7h0M459.1 90.3h0M475.0 127.4h0M461.1 81.7h0M519.8 47.2h0M467.6 90.7h0M467.5 129.5h0M488.0 79.8h0M490.1 113.9h0M534.7 75.7h0M458.9 91.0h0M459.3 93.4h0M496.9 79.0h0M482.3 59.9h0M477.5 125.7h0M515.9 80.8h0M485.6 57.7h0M461.5 84.8h0M463.3 109.1h0M534.2 63.0h0M463.6 126.3h0M461.9 100.8h0M463.5 105.3h0M492.8 143.0h0M463.6 126.1h0M527.3 41.5h0M463.2 112.8h0M467.9 77.2h0M483.4 50.2h0M487.3 61.9h0M475.3 132.1h0M486.0 82.0h0M480.6 96.3h0M501.8 92.5h0M527.7 84.5h0M509.0 111.4h0M461.8 78.7h0M460.0 79.9h0M480.0 82.4h0M469.3 60.4h0M500.6 106.6h0M460.6 91.4h0M481.7 79.4h0M459.7 82.9h0M463.5 83.3h0M483.2 83.9h0M478.3 94.9h0M464.6 127.9h0M512.0 42.5h0M470.0 114.4h0M477.8 53.2h0M530.6 49.2h0M502.1 102.8h0M460.5 99.5h0M472.7 71.1h0M467.4 89.6h0M492.4 65.2h0M502.2 67.5h0M487.6 87.4h0M527.1 38.6h0M498.4 64.4h0M473.4 136.5h0M518.5 83.7h0M482.5 130.3h0M459.3 121.6h0M504.9 84.6h0M474.3 139.6h0M508.5 77.0h0M496.0 100.7h0M487.5 63.5h0M484.0 47.6h0M463.8 71.4h0M481.7 77.3h0M483.6 67.8h0M483.5 109.5h0M489.2 127.8h0M460.1 90.3h0M502.9 82.7h0M535.7 64.3h0M503.7 40.2h0M499.3 61.6h0M521.5 55.2h0M488.4 71.3h0M459.1 73.3h0M469.4 57.8h0M495.2 47.7h0M476.1 138.1h0M469.2 106.5h0M471.3 92.4h0M492.5 109.3h0M464.2 124.6h0M492.0 127.6h0M477.9 61.8h0M510.8 94.1h0M499.7 101.9h0M465.1 84.2h0M488.3 54.2h0M510.3 61.5h0M466.5 103.5h0M458.5 104.6h0M464.7 67.7h0M493.2 95.1h0M484.7 65.6h0M483.5 113.4h0M507.0 47.4h0M489.0 91.5h0M533.7 68.1h0M499.2 73.1h0M484.5 127.7h0M491.7 140.1h0M494.8 135.1h0M485.2 82.3h0M470.2 60.3h0M509.0 62.3h0M456.4 103.9h0M468.2 127.1h0M518.4 52.2h0M505.1 78.8h0M483.8 51.4h0M494.3 141.3h0M483.0 114.1h0M457.9 93.7h0M525.9 76.2h0M514.6 58.4h0M477.2 91.9h0M482.1 114.4h0M470.0 104.4h0M511.1 53.8h0M505.5 67.4h0M467.1 128.5h0M466.5 68.6h0M513.6 79.0h0M482.3 56.8h0M494.5 133.1h0M530.2 48.6h0M468.7 58.9h0M476.1 66.1h0M482.7 139.0h0M502.0 113.3h0M471.6 138.5h0M484.8 141.3h0M489.8 77.7h0M459.3 95.3h0M497.5 139.4h0M531.9 71.1h0M482.5 144.1h0M478.3 50.6h0M526.0 47.1h0M494.9 45.7h0M495.1 91.7h0M473.6 59.1h0M485.3 137.6h0M466.0 122.6h0M466.1 67.1h0M474.1 135.6h0M471.3 102.2h0M496.7 63.9h0M484.2 114.2h0M462.2 121.1h0M529.2 81.5h0M522.4 52.3h0M460.7 82.6h0M474.0 99.8h0M519.7 53.8h0M470.1 122.2h0M467.6 63.7h0M505.5 124.7h0M497.6 85.8h0M535.3 66.7h0M499.6 100.3h0M475.2 132.0h0M493.7 115.6h0M483.4 86.0h0M489.6 111.6h0M477.4 57.3h0M479.9 49.5h0M515.7 37.9h0M499.5 78.4h0M478.6 139.4h0M495.0 98.0h0M533.1 49.6h0M476.2 60.0h0M527.1 59.8h0M482.2 65.8h0M511.9 97.6h0M487.0 141.2h0M533.2 52.3h0M482.7 134.7h0M465.2 100.7h0M482.9 48.5h0M530.9 63.2h0M477.3 112.8h0M498.8 65.1h0M523.9 56.0h0M469.1 72.2h0M505.4 105.5h0M532.6 78.9h0M532.9 53.0h0M483.0 103.0h0M505.5 40.5h0M470.5 57.7h0M506.9 68.1h0M503.9 112.2h0M479.3 56.2h0M474.3 53.2h0M484.9 106.1h0M486.7 66.4h0M510.5 93.7h0M466.7 66.1h0M522.1 66.7h0M523.9 78.5h0M494.5 90.3h0M470.3 131.7h0M512.0 99.9h0M495.4 49.8h0M489.7 46.9h0M524.2 85.0h0M490.0 109.2h0M489.0 103.9h0M474.3 86.6h0M510.3 92.3h0M466.1 109.6h0M518.3 80.2h0M531.6 79.6h0M533.8 78.1h0M471.3 80.2h0M460.7 109.5h0M525.5 59.7h0M489.8 73.7h0M463.3 105.6h0M492.8 100.1h0M484.8 99.9h0M459.1 95.0h0M515.8 47.9h0M492.2 115.9h0M512.1 49.8h0M490.0 51.0h0M509.4 73.6h0M466.3 132.3h0M464.7 86.8h0M467.8 105.7h0M457.2 93.2h0M512.9 39.7h0M482.1 137.5h0M467.9 100.5h0M473.5 135.5h0M500.9 108.2h0M481.1 70.4h0M473.6 54.6h0M472.7 65.8h0M498.0 127.9h0M505.3 105.9h0M468.1 114.2h0M486.0 90.3h0M470.9 131.8h0M460.5 112.5h0M528.8 40.4h0M518.7 38.5h0M471.4 129.6h0M482.5 88.4h0M467.4 74.9h0M529.6 84.1h0M483.5 119.0h0M501.5 108.0h0M488.8 67.5h0M482.6 83.9h0M510.9 109.1h0M463.7 107.4h0M485.9 42.8h0M491.2 57.3h0M467.9 58.7h0M534.3 65.1h0M478.1 138.5h0M481.1 46.0h0M462.0 95.2h0M497.3 45.3h0M502.9 109.5h0M469.3 126.7h0M495.5 113.4h0M504.8 73.5h0M466.7 129.8h0M481.4 117.3h0M459.9 105.6h0M462.6 97.5h0M477.5 74.8h0M470.6 125.3h0M459.9 77.1h0M521.3 63.0h0M524.2 38.6h0M536.1 77.6h0M506.6 118.4h0M501.1 115.8h0M475.0 56.0h0M481.9 131.9h0M493.0 84.6h0M492.3 45.3h0M476.7 139.1h0M498.6 63.2h0M505.4 49.3h0M477.5 105.6h0M481.8 77.5h0M510.3 41.2h0M473.5 139.4h0M522.2 83.0h0M477.1 88.2h0M479.7 54.4h0M463.8 69.4h0M494.7 141.7h0M458.2 109.5h0M522.5 42.9h0M478.9 91.6h0M490.7 113.1h0M526.1 81.7h0M479.9 52.9h0M537.3 69.9h0M494.6 67.0h0M536.7 61.0h0M466.4 116.4h0M494.3 139.2h0M491.1 53.0h0M529.3 60.4h0M493.8 59.9h0M481.7 66.2h0M477.9 83.2h0M537.6 59.0h0M463.3 71.3h0M480.3 51.5h0M489.2 108.1h0M458.0 87.0h0M488.1 116.5h0M503.5 122.2h0M517.2 60.1h0M490.5 111.9h0M486.1 76.6h0M468.6 108.9h0M461.1 95.5h0M484.1 97.6h0M500.4 127.9h0M472.1 60.0h0M470.2 57.0h0M478.0 53.6h0M506.2 110.6h0M483.6 50.0h0M514.2 69.4h0M466.7 83.7h0M507.2 87.2h0M482.4 100.5h0M465.5 127.6h0M472.0 135.6h0M466.3 67.5h0M488.7 124.1h0M473.6 134.5h0M462.6 97.5h0M485.8 137.3h0M494.3 124.0h0M461.3 99.5h0M506.5 117.6h0M484.6 146.8h0M508.7 94.8h0M463.7 68.5h0M523.2 80.9h0M459.5 116.3h0M532.2 69.5h0M535.2 58.9h0M532.3 60.6h0M514.1 38.5h0M461.5 95.7h0M484.9 49.9h0M487.2 137.1h0M525.0 52.0h0M501.1 130.8h0M517.0 77.2h0M486.6 141.3h0M484.6 81.9h0M504.8 47.0h0M494.7 88.9h0M515.3 56.8h0M505.2 78.0h0M483.5 72.5h0M499.8 131.5h0M490.9 89.0h0M469.0 60.2h0M470.8 133.2h0M483.2 51.9h0M476.9 52.7h0M521.7 39.4h0M502.0 45.9h0M525.4 69.3h0M493.0 69.3h0M508.3 68.3h0M488.8 53.8h0M479.0 59.7h0M518.0 57.6h0M500.2 78.6h0M473.2 97.1h0M510.0 88.2h0M473.7 71.7h0M503.4 41.0h0M504.4 111.7h0M477.1 83.5h0M467.2 131.3h0M491.9 70.0h0M535.7 65.3h0M510.6 107.9h0M514.0 70.8h0M507.8 102.3h0M529.3 52.7h0M505.3 44.6h0M500.9 55.1h0M486.7 69.7h0M471.7 59.5h0M501.2 55.7h0M531.2 82.5h0M471.9 73.4h0M475.6 95.3h0M520.2 59.2h0M515.9 35.5h0M486.2 94.3h0M511.4 43.3h0M490.3 143.1h0M515.4 80.9h0M462.3 74.3h0M487.6 54.2h0M533.1 63.3h0M475.2 64.8h0M498.4 43.5h0M529.4 77.7h0M462.8 119.8h0M477.4 139.9h0M532.6 76.3h0M497.5 74.4h0M502.1 128.7h0M535.4 78.5h0M473.4 132.1h0M484.8 106.7h0M494.6 76.5h0M496.1 119.6h0M500.8 45.7h0M492.9 49.4h0M467.7 121.9h0M498.9 124.1h0M499.7 71.3h0M536.4 67.8h0M508.0 100.5h0M485.3 46.3h0M468.2 127.7h0M485.7 44.1h0M482.4 48.6h0M468.4 59.1h0M501.4 80.9h0M504.1 53.3h0M474.5 117.5h0M500.9 76.5h0M465.4 128.8h0M470.5 80.5h0M496.3 54.9h0M494.1 56.1h0M459.1 99.0h0M495.2 51.6h0M536.7 57.9h0M515.5 79.7h0M510.6 53.7h0M525.2 59.0h0M514.3 35.9h0M537.6 72.9h0M476.1 134.6h0M462.3 81.5h0M511.0 83.4h0M513.9 80.4h0M503.9 94.7h0M460.9 117.4h0M523.4 50.6h0M481.4 57.9h0M527.7 79.6h0M532.9 45.9h0M523.6 59.4h0M490.5 111.5h0M496.6 123.8h0M483.3 149.8h0M514.5 65.8h0M493.6 103.7h0M470.5 89.4h0M495.3 70.1h0M461.9 122.7h0M498.6 51.8h0M464.1 110.8h0M502.2 100.8h0M497.2 88.5h0M463.3 92.7h0M495.9 66.2h0M506.3 113.0h0M466.9 71.9h0M463.3 117.4h0M487.6 56.3h0M459.4 95.0h0M464.9 124.6h0M465.5 113.1h0M480.2 65.7h0M508.2 78.4h0M485.4 115.6h0M500.3 124.2h0M459.1 101.5h0M476.3 120.2h0M499.3 125.0h0M506.9 68.2h0M482.7 58.5h0M466.2 128.2h0M463.0 123.3h0M463.8 90.8h0M490.8 52.4h0M480.8 92.5h0M517.0 75.1h0M527.2 68.6h0M483.6 70.8h0M459.3 91.3h0M538.0 71.2h0M467.3 65.1h0M467.0 89.1h0M471.5 58.1h0M476.0 105.9h0M503.2 50.2h0M467.7 105.8h0M462.3 87.1h0M507.1 42.2h0M485.6 58.1h0M477.1 130.6h0M473.7 60.8h0M465.2 120.8h0M478.6 81.7h0M489.8 96.9h0M470.2 89.7h0M466.0 124.2h0M469.6 83.9h0M478.0 111.0h0M481.3 60.6h0M464.4 67.2h0M492.3 107.4h0M504.5 123.4h0M509.4 99.9h0M459.6 105.2h0M479.2 77.8h0M466.3 127.5h0M474.1 85.7h0M529.7 61.7h0M508.1 104.1h0M490.8 65.9h0M492.2 142.9h0M496.6 59.7h0M510.3 86.3h0M468.7 95.5h0M464.2 110.9h0M496.2 69.3h0M504.1 90.9h0M506.4 112.6h0M531.0 47.9h0M496.5 113.6h0M461.1 97.8h0M507.0 43.2h0M473.5 66.6h0M531.2 72.5h0M498.8 69.6h0M481.4 91.3h0M460.6 108.7h0M487.7 93.3h0M501.0 66.8h0M506.4 64.0h0M501.8 133.2h0M507.0 113.6h0M457.4 107.3h0M458.0 101.6h0M484.5 49.6h0M495.6 48.3h0M507.1 101.4h0M460.4 93.6h0M466.6 68.2h0M479.9 79.0h0M469.4 74.7h0M475.8 87.4h0M489.8 105.1h0M531.5 79.0h0M487.8 145.9h0M532.7 68.6h0M498.7 112.1h0M488.9 65.1h0M479.0 51.7h0M512.3 69.6h0M458.9 90.5h0M494.0 53.3h0M473.8 70.9h0M456.6 107.0h0M491.3 109.4h0M504.2 123.7h0M470.4 72.4h0M512.3 52.4h0M469.9 130.8h0M495.7 113.5h0M526.9 82.9h0M472.3 134.4h0M461.7 117.5h0M471.0 63.8h0M481.6 140.1h0M526.2 58.6h0M459.4 79.3h0M504.5 120.9h0M480.4 104.5h0M467.6 130.1h0M511.9 61.7h0M532.6 67.1h0M498.0 96.0h0M483.7 74.8h0M475.2 64.1h0M460.1 68.6h0M465.2 101.6h0M512.1 82.4h0M469.0 113.9h0M534.2 77.2h0M477.2 140.7h0M522.9 56.3h0M492.2 85.7h0M477.0 52.1h0M458.1 99.1h0M459.3 94.0h0M465.3 102.1h0M536.2 58.0h0M480.2 54.8h0M469.9 117.7h0M486.4 45.0h0M478.0 97.8h0M514.2 82.5h0M478.7 88.6h0M511.1 70.6h0M509.2 98.1h0M523.3 36.6h0M475.7 105.5h0M518.6 43.3h0M491.0 61.4h0M505.8 91.5h0M457.3 98.8h0M488.0 113.6h0M468.0 103.5h0M532.9 57.5h0M503.5 123.7h0M497.4 106.3h0M477.8 137.9h0M517.4 82.5h0M521.1 53.9h0M505.1 104.1h0M497.6 94.5h0M535.9 60.6h0M503.7 44.5h0M492.6 68.2h0M462.1 75.6h0M461.4 92.5h0M485.2 142.4h0M505.0 59.3h0M508.7 98.7h0M463.2 96.6h0M469.5 79.3h0M492.4 139.9h0M505.6 121.4h0M527.9 51.2h0M471.7 91.5h0M460.1 94.3h0M493.4 93.9h0M474.5 105.3h0M460.3 86.1h0M458.2 108.8h0M466.8 115.0h0M476.6 104.2h0M487.9 142.8h0M496.6 138.6h0M478.8 59.4h0M484.8 57.9h0M495.8 140.6h0M478.0 73.5h0M486.1 64.2h0M465.4 114.9h0M500.4 73.5h0M485.4 139.2h0M527.0 60.6h0M463.8 117.7h0M491.1 102.1h0M462.6 85.0h0M494.4 121.5h0M510.6 92.2h0M500.5 43.1h0M504.9 104.4h0M482.3 63.9h0M509.1 111.3h0M539.1 71.1h0M481.5 91.8h0M488.0 85.9h0M473.5 138.7h0M489.4 134.4h0M491.7 74.8h0M475.4 138.3h0M469.1 67.7h0M490.9 47.1h0M482.3 65.1h0M498.5 41.1h0M482.5 128.7h0M507.2 38.2h0M522.2 46.3h0M484.5 144.1h0M481.4 49.2h0M499.2 116.6h0M466.3 127.6h0M463.3 103.3h0M457.6 94.0h0M507.2 127.2h0M481.9 86.9h0M509.7 74.3h0M508.4 51.1h0M491.3 142.3h0M506.4 53.4h0M492.7 44.3h0M493.1 78.5h0M504.1 85.6h0M472.6 127.2h0M471.5 114.3h0M538.9 52.9h0M520.9 60.9h0M510.1 94.9h0M483.2 113.6h0M502.4 93.2h0M497.2 49.6h0M537.3 67.0h0M492.2 124.9h0M471.0 133.2h0M484.9 140.0h0M537.4 67.9h0M462.9 85.8h0M531.6 53.9h0M483.3 131.6h0M506.7 39.4h0M535.6 57.9h0M513.6 71.2h0M506.1 50.8h0M481.0 102.0h0M478.0 51.7h0M486.8 46.2h0M476.5 52.0h0M468.2 91.6h0M465.5 79.9h0M502.6 126.4h0M518.6 38.2h0M496.5 117.7h0M531.3 76.5h0M502.1 118.8h0M493.4 133.1h0M472.2 58.7h0M479.1 141.4h0M531.1 53.8h0M489.2 73.4h0M505.2 74.9h0M528.4 46.0h0M473.5 57.8h0M481.3 85.2h0M509.7 37.6h0M465.9 62.7h0M507.2 65.6h0M458.4 94.4h0M512.9 60.9h0M488.2 53.9h0M486.9 44.4h0M489.3 140.0h0M506.8 75.0h0M517.9 82.2h0M511.2 79.1h0M471.6 112.1h0M483.0 70.9h0M518.3 54.2h0M500.0 131.5h0M459.5 90.6h0M508.0 75.8h0M538.0 67.3h0M505.7 120.1h0M525.5 80.8h0M533.3 81.4h0M522.6 82.6h0M496.1 68.0h0M492.7 140.5h0M474.5 128.5h0M513.1 42.5h0M514.6 56.0h0M506.3 93.0h0M470.9 108.2h0M506.8 108.0h0M499.7 47.2h0M525.6 70.5h0M514.8 67.9h0M503.9 67.2h0M492.9 47.1h0M503.4 102.5h0M471.9 71.5h0M534.8 47.4h0M509.3 95.9h0M473.7 135.8h0M476.7 61.7h0M533.1 80.0h0M489.6 137.9h0M475.7 114.0h0M480.5 146.2h0M472.6 54.2h0M492.2 44.3h0M502.6 121.1h0M458.0 101.9h0M507.3 117.2h0M467.0 63.2h0M530.8 38.7h0M513.1 81.1h0M505.1 122.6h0M522.9 41.6h0M493.4 45.3h0M462.3 107.5h0M473.1 122.2h0M502.2 73.5h0M474.5 87.9h0M476.4 82.6h0M510.1 60.8h0M465.7 113.2h0M535.7 54.8h0M517.2 46.3h0M461.2 74.9h0M475.9 141.6h0M479.9 52.7h0M504.9 93.8h0M525.4 44.1h0M512.2 84.6h0M469.6 134.0h0M477.5 68.2h0M458.6 90.5h0M500.6 82.2h0M536.9 62.5h0M499.5 61.3h0M501.4 49.9h0M493.4 142.0h0M463.2 115.7h0M464.5 105.8h0M478.8 143.4h0M484.0 86.1h0M476.7 116.3h0M463.9 126.1h0M470.8 125.4h0M487.0 142.0h0M473.8 139.0h0M470.2 125.9h0M491.2 125.9h0M502.5 96.4h0M534.5 60.9h0M470.7 100.4h0M460.7 92.1h0M523.5 79.2h0M465.8 126.6h0M523.1 54.1h0M466.4 126.5h0M493.3 123.1h0M517.3 37.7h0M499.9 103.4h0M466.6 70.2h0M475.3 65.9h0M460.5 80.3h0M468.9 124.5h0M496.7 110.6h0M478.1 78.4h0M508.7 107.8h0M461.8 106.6h0M489.2 45.1h0M525.9 56.2h0M469.9 134.3h0M503.9 82.6h0M536.4 77.8h0M460.1 89.5h0M463.2 85.5h0M479.4 63.9h0M498.1 121.5h0M504.2 107.3h0M526.7 54.3h0M466.2 130.5h0M521.6 49.9h0M483.1 125.7h0M493.8 84.8h0M479.3 143.9h0M499.5 103.3h0M505.3 126.3h0M463.4 114.0h0M475.6 125.6h0M515.5 62.0h0M509.7 102.4h0M501.0 46.2h0M513.2 65.9h0M528.3 80.9h0M482.7 142.7h0M459.6 102.5h0M499.6 129.9h0M474.8 56.8h0M485.8 69.9h0M505.7 128.4h0M517.5 52.6h0M531.4 82.5h0M531.4 74.0h0M492.9 68.2h0M465.5 79.2h0M483.4 142.8h0M504.2 53.2h0M486.7 91.9h0M476.0 98.7h0M494.9 62.7h0M508.2 113.8h0M467.5 132.1h0M475.1 128.7h0M477.8 58.7h0M505.6 70.8h0M487.1 47.3h0M497.7 107.9h0M460.9 90.8h0M507.6 91.1h0M504.2 55.8h0M482.2 68.6h0M500.8 73.9h0M501.9 44.4h0M476.9 73.0h0M498.3 128.9h0M499.2 125.6h0M500.1 110.4h0M490.9 130.4h0M479.5 105.1h0M517.8 38.3h0M489.4 139.4h0M514.6 42.9h0M505.5 82.9h0M517.5 79.8h0M504.5 121.7h0M490.3 57.2h0M502.7 101.4h0M522.1 66.6h0M509.6 115.4h0M476.0 141.4h0M492.1 74.5h0M483.5 129.3h0M469.1 112.3h0M462.4 76.3h0M471.6 82.4h0M503.2 65.7h0M495.2 123.6h0M509.6 40.6h0M491.9 140.9h0M507.6 54.1h0M479.1 145.7h0M458.4 105.1h0M493.8 137.4h0M537.7 65.4h0M481.7 64.7h0M511.0 48.4h0M513.9 51.2h0M480.5 66.6h0M470.3 114.4h0M531.1 80.8h0M536.7 77.2h0M502.0 42.5h0M497.8 82.6h0M472.8 64.9h0M531.8 69.8h0M482.7 128.3h0M505.9 119.3h0M495.4 140.8h0M536.4 53.8h0M460.8 103.6h0M480.0 84.0h0M481.6 94.1h0M497.3 55.7h0M530.1 71.3h0M507.9 93.4h0M495.4 44.8h0M506.9 102.9h0M474.4 73.1h0M489.2 117.9h0M489.5 93.5h0M473.6 140.0h0M506.9 63.0h0M475.6 103.7h0M486.3 144.8h0M463.8 107.2h0M475.3 66.6h0M527.2 39.2h0M537.1 60.8h0M475.0 84.2h0M537.6 60.2h0M510.7 90.0h0M506.5 108.9h0M503.3 122.6h0M504.7 115.0h0M506.9 40.1h0M499.1 58.5h0M506.2 110.8h0M493.9 113.8h0M504.6 128.4h0M462.5 125.2h0M500.6 89.4h0M485.2 49.0h0M512.7 45.1h0M498.6 65.1h0M483.8 94.7h0M475.2 79.8h0M479.4 134.7h0M512.4 70.4h0M515.8 37.6h0M510.8 84.6h0M479.9 96.9h0M494.1 84.7h0M470.0 81.0h0M474.2 51.9h0M467.0 130.4h0M537.3 74.4h0M528.2 62.6h0M460.7 87.7h0M507.2 92.2h0M495.6 131.4h0M465.0 77.7h0M506.0 113.1h0M489.3 135.5h0M522.6 62.6h0M460.9 100.6h0M493.1 114.7h0M498.1 42.0h0M490.6 109.3h0M533.0 70.0h0M495.1 74.2h0M501.6 42.0h0M497.2 122.7h0M476.2 54.1h0M494.6 62.4h0M522.1 42.0h0M501.2 111.0h0M467.8 70.5h0M509.4 85.9h0M461.9 84.9h0M492.7 58.0h0M497.7 134.1h0M495.1 86.3h0M472.4 107.7h0M457.9 102.3h0M492.1 131.4h0M463.2 110.0h0M494.4 107.1h0M510.2 70.5h0M479.3 100.0h0M510.0 105.9h0M458.9 93.6h0M466.3 107.1h0M513.3 71.5h0M468.0 115.3h0M470.8 62.7h0M462.8 126.7h0M496.4 130.7h0M521.4 34.7h0M520.7 79.4h0M505.7 58.8h0M495.0 122.4h0M524.3 47.9h0M503.8 40.9h0M486.4 105.7h0M461.3 74.8h0M504.8 77.0h0M490.2 79.0h0M462.3 96.0h0M459.2 76.9h0M527.5 82.8h0M461.3 91.1h0M514.8 86.0h0M487.6 146.3h0M476.7 56.5h0M522.2 37.6h0M491.4 54.9h0M498.3 42.6h0M480.6 72.6h0M491.8 45.2h0M477.0 87.8h0M462.7 110.2h0M490.6 92.3h0M529.0 82.7h0M457.2 96.9h0M462.4 123.1h0M493.1 81.0h0M473.6 123.7h0M477.0 58.1h0M489.8 140.8h0M473.5 136.9h0M498.1 137.4h0M457.2 95.3h0M481.1 120.0h0M498.7 134.4h0M498.8 83.1h0M534.4 65.5h0M465.9 114.1h0M525.0 62.0h0M489.0 48.1h0M463.3 121.9h0M526.1 41.4h0M461.9 84.3h0M489.1 100.3h0M489.7 110.1h0M460.2 107.2h0M493.5 125.0h0M481.7 55.2h0M493.4 46.7h0M476.1 77.7h0M492.0 141.1h0M472.1 126.2h0M488.4 121.4h0M473.1 56.7h0M501.7 45.6h0M500.8 122.5h0M504.8 127.2h0M465.7 83.6h0M476.2 134.2h0M481.2 75.6h0M482.7 77.4h0M470.7 101.8h0M497.2 79.9h0M484.1 71.6h0M500.3 76.6h0M539.4 57.5h0M472.2 138.0h0M486.6 92.5h0M527.1 60.0h0M504.7 125.1h0M468.8 124.5h0M512.1 89.2h0M530.9 77.9h0M472.5 53.3h0M501.7 117.2h0M494.0 112.9h0M503.8 86.2h0M480.7 71.1h0M500.1 135.7h0M504.7 93.0h0M535.6 53.9h0M510.3 86.3h0M516.1 53.0h0M513.8 51.0h0M481.2 63.8h0M519.2 80.0h0M485.0 126.3h0M485.6 46.0h0M464.9 106.7h0M480.5 122.3h0M458.7 83.2h0M487.9 54.7h0M473.0 139.4h0M472.2 136.9h0M533.1 78.4h0M465.1 120.9h0M495.5 46.0h0M460.6 97.6h0M503.5 97.9h0M503.4 131.0h0M521.0 71.4h0M484.1 145.5h0M483.3 143.3h0M511.0 106.5h0M473.9 80.2h0M491.0 62.0h0M475.8 69.6h0M464.1 78.1h0M474.1 123.7h0M534.6 53.1h0M529.0 80.4h0M514.9 45.3h0M479.8 100.7h0M465.4 95.4h0M505.4 77.0h0M522.7 53.3h0M511.8 60.4h0M499.6 102.7h0M492.0 46.6h0M497.4 79.6h0M494.7 103.2h0M484.4 48.3h0M500.7 101.8h0M477.5 78.3h0M524.4 41.4h0M488.7 116.4h0M537.4 66.9h0M534.0 72.6h0M487.8 55.1h0M503.6 114.8h0M505.6 62.9h0M494.6 141.3h0M515.6 72.1h0M464.8 92.5h0M500.9 90.7h0M463.0 96.1h0M497.4 95.8h0M529.8 50.4h0M468.2 119.2h0M495.5 67.6h0M484.9 82.6h0M470.6 63.8h0M502.1 124.9h0M508.7 115.4h0M501.9 79.9h0M462.2 112.9h0M476.8 107.4h0M498.1 136.2h0M499.0 140.9h0M489.4 46.6h0M536.3 65.4h0M503.2 76.7h0M482.4 124.2h0M511.9 65.2h0M499.6 74.0h0M462.6 109.7h0M523.8 62.8h0M502.2 104.4h0M519.2 56.4h0M489.3 110.3h0M485.3 107.7h0M502.9 128.7h0M507.6 61.8h0M501.4 114.7h0M474.9 137.9h0M532.2 67.3h0M465.3 109.8h0M501.7 42.6h0M521.2 66.5h0M478.2 138.6h0M457.7 102.5h0M533.5 65.0h0M469.9 56.4h0M484.3 72.2h0M488.5 80.2h0M525.4 49.3h0M470.5 122.8h0M495.1 117.9h0M510.0 93.2h0M480.5 127.1h0M527.3 79.1h0M460.6 115.7h0M504.3 63.7h0M478.2 50.6h0M475.3 54.6h0M536.4 61.3h0M527.7 48.5h0M490.4 77.4h0M479.8 132.6h0M502.4 61.9h0M526.5 41.7h0M532.5 54.4h0M516.1 81.1h0M471.7 67.4h0M536.4 59.8h0M531.9 82.3h0M471.0 65.1h0M501.7 116.9h0M497.5 47.9h0M527.4 70.2h0M527.0 82.6h0M476.8 99.6h0M478.9 107.4h0M493.0 136.7h0M492.9 111.3h0M484.1 121.1h0M524.7 85.0h0M490.3 123.5h0M507.1 113.4h0M510.9 78.0h0M506.1 42.5h0M486.3 136.9h0M466.0 63.6h0M496.1 74.3h0M470.8 122.2h0M502.7 120.5h0M463.8 103.6h0M493.0 75.3h0M479.8 145.3h0M474.4 137.8h0M496.1 48.3h0M469.4 104.4h0M462.3 78.5h0M485.8 103.0h0M492.8 87.3h0M522.4 48.4h0M505.7 42.6h0M464.9 94.7h0M512.3 80.9h0M491.4 106.9h0M457.9 108.1h0M473.2 54.1h0M472.4 138.9h0M488.6 78.2h0M485.2 124.1h0M490.4 74.3h0M523.3 75.7h0M467.3 130.4h0M484.8 69.0h0M482.2 70.9h0M463.1 100.9h0M476.7 79.8h0M491.1 59.7h0M496.3 43.1h0M472.2 130.6h0M462.9 83.1h0M471.1 111.2h0M484.2 50.1h0M505.8 98.9h0M527.7 53.6h0M480.9 49.1h0M493.2 97.0h0M473.6 97.7h0M526.7 60.0h0M537.9 74.2h0M520.5 63.9h0M508.9 72.6h0M502.6 42.0h0M477.1 139.1h0M458.5 117.0h0M463.1 81.8h0M461.3 95.9h0M518.3 50.9h0M480.7 103.9h0M492.9 44.5h0M476.8 53.2h0M507.0 99.5h0M474.9 106.0h0M495.5 99.1h0M511.5 87.2h0M493.7 142.1h0M537.1 63.5h0M482.2 50.9h0M511.4 82.0h0M535.3 50.2h0M474.0 104.6h0M517.1 48.8h0M493.0 69.3h0M469.6 107.4h0M523.7 52.6h0M470.7 132.7h0M535.2 75.0h0M530.1 52.6h0M464.4 121.9h0M474.5 52.4h0M485.4 47.1h0M506.0 98.6h0M464.0 100.8h0M507.4 71.8h0M486.6 147.0h0M460.7 76.5h0M519.9 80.1h0M503.3 121.8h0M505.7 47.5h0M498.1 108.2h0M535.6 53.1h0M510.1 63.4h0M483.2 47.0h0M488.2 72.3h0M464.0 82.4h0M493.1 142.7h0M495.5 136.4h0M501.2 124.4h0M481.6 140.8h0M465.3 80.6h0M500.5 134.6h0M534.9 77.0h0M475.4 132.1h0M499.1 99.3h0M496.4 107.2h0M475.0 65.4h0M506.4 72.0h0M530.3 51.5h0M485.9 57.5h0M505.1 48.1h0M504.9 121.9h0M488.5 132.0h0M466.4 103.8h0M520.0 80.5h0M506.3 85.4h0M523.8 75.5h0M529.9 55.1h0M462.4 75.9h0M516.5 79.4h0M481.1 144.9h0M480.5 92.1h0M489.9 123.9h0M480.2 135.9h0M469.8 117.1h0M505.7 71.0h0M474.1 96.3h0M481.8 89.1h0M491.2 108.4h0M488.4 100.7h0M518.6 40.9h0M504.6 89.8h0M524.3 76.3h0M507.0 100.1h0M486.9 118.2h0M492.6 103.6h0M479.5 73.3h0M505.2 110.4h0M526.5 80.3h0M484.9 102.3h0M474.7 131.4h0M469.2 133.0h0M459.8 118.0h0M497.8 119.8h0M481.8 135.7h0M491.9 138.5h0M474.0 91.6h0M518.4 81.9h0M529.6 57.7h0M470.6 98.5h0M535.3 49.2h0M471.7 73.2h0M529.4 67.6h0M484.5 70.2h0M484.7 51.3h0M489.2 119.4h0M496.2 75.4h0M486.3 87.2h0M533.4 71.5h0M459.5 81.1h0M501.1 74.2h0M471.6 54.8h0M492.2 71.0h0M505.4 102.7h0M471.3 131.1h0M474.3 93.6h0M457.1 93.8h0M465.9 109.5h0M506.2 58.7h0M476.5 74.9h0M485.0 83.7h0M462.5 102.6h0M469.5 118.1h0M479.7 53.6h0M492.5 114.3h0M460.8 88.0h0M469.9 67.6h0M479.5 113.4h0M476.5 114.0h0M505.9 40.0h0M464.4 66.2h0M465.3 128.5h0M514.1 38.8h0M467.7 62.1h0M488.0 100.7h0M500.8 123.8h0M498.6 121.8h0M495.5 73.5h0M462.4 82.9h0M480.2 82.3h0M485.2 105.8h0M514.1 65.7h0M481.8 119.5h0M518.1 69.6h0M493.4 99.4h0M506.1 122.2h0M498.8 137.5h0M485.2 57.2h0M470.2 89.9h0M517.1 39.1h0M506.9 41.2h0M469.5 52.5h0M458.0 95.1h0M465.6 94.5h0M529.7 62.6h0M496.9 119.4h0M522.4 61.2h0M474.2 80.5h0M485.7 70.4h0M495.1 129.8h0M506.5 43.6h0M479.7 52.9h0M490.3 140.2h0M474.8 100.0h0M503.8 124.3h0M507.2 113.2h0M463.1 115.9h0M491.0 122.0h0M457.1 94.4h0M502.5 101.9h0M496.7 135.8h0M517.3 80.0h0M526.9 81.6h0M496.8 66.1h0M513.0 45.2h0M508.4 109.0h0M502.0 73.0h0M461.8 85.7h0M483.1 100.9h0M527.2 52.4h0M479.1 135.5h0M507.4 102.3h0M528.2 56.9h0M504.8 79.1h0M522.1 50.7h0M493.5 139.2h0M482.2 126.5h0M478.9 126.4h0M501.1 67.2h0M479.0 72.0h0M508.0 107.7h0M533.0 74.1h0M493.7 47.5h0M527.4 77.8h0M497.2 84.9h0M461.0 97.2h0M460.5 77.2h0M500.6 46.2h0M529.7 80.7h0M502.3 116.8h0M521.8 50.6h0M457.6 100.2h0M485.1 60.4h0M488.8 118.5h0M458.3 84.7h0M484.7 133.4h0M457.6 86.9h0M493.2 100.3h0M499.6 45.9h0M512.1 75.8h0M495.3 111.0h0M496.3 81.7h0M486.6 127.7h0M479.4 140.6h0M487.5 46.9h0M519.2 67.4h0M535.5 77.9h0M508.7 59.5h0M534.8 54.9h0M474.5 70.6h0M525.9 59.2h0M460.6 108.4h0M466.3 103.9h0M464.1 108.9h0M487.8 144.7h0M506.6 51.5h0M535.1 79.2h0M503.1 59.9h0M519.5 81.3h0M497.2 124.0h0M504.1 112.2h0M474.9 138.7h0M465.6 73.7h0M471.4 123.0h0M489.1 138.3h0M457.6 106.7h0M509.3 94.5h0M460.4 93.4h0M504.2 96.6h0M537.7 71.9h0M503.6 129.4h0M502.9 105.6h0M512.1 50.6h0M499.7 136.5h0M465.8 129.6h0M531.6 51.3h0M490.5 104.8h0M486.0 133.0h0M494.3 103.2h0M497.6 128.2h0M461.6 92.5h0M534.5 72.1h0M503.9 113.1h0M467.7 121.3h0M479.5 74.1h0M477.3 105.6h0M532.8 75.3h0M477.4 102.5h0M500.7 118.6h0M493.9 123.8h0M464.2 88.2h0M459.6 98.3h0M484.7 124.3h0M506.0 109.6h0M503.2 109.9h0M489.5 118.6h0M460.1 89.9h0M508.3 86.4h0M491.7 44.4h0M504.8 48.2h0M473.1 64.1h0M508.7 92.3h0M498.1 124.2h0M474.7 81.0h0M495.7 51.5h0M510.8 82.0h0M486.3 66.9h0M532.3 51.6h0M466.1 65.0h0M506.4 90.6h0M492.9 114.4h0M486.1 49.2h0M479.0 54.1h0M458.5 87.3h0M486.2 62.6h0M478.1 71.1h0M527.2 41.5h0M507.8 117.7h0M510.1 102.7h0M493.2 82.9h0M508.2 52.4h0M520.9 51.6h0M498.0 107.8h0M502.0 55.3h0M532.9 65.2h0M483.3 103.1h0M464.5 100.7h0M463.7 100.8h0M474.3 58.8h0M493.8 73.9h0M501.4 89.6h0M466.1 126.6h0M519.2 36.8h0M536.2 59.1h0M488.0 117.2h0M485.6 108.9h0M502.4 93.0h0M504.2 103.3h0M505.4 101.5h0M472.6 133.8h0M502.7 63.9h0M459.3 91.4h0M490.8 141.9h0M460.0 105.4h0M518.8 43.3h0M505.3 107.8h0M526.6 78.6h0M501.4 131.6h0M465.7 134.2h0M493.0 84.7h0M493.0 52.6h0M499.4 97.8h0M462.0 107.0h0M472.6 59.9h0M509.3 90.3h0M489.8 110.8h0M527.7 80.3h0M496.4 121.1h0M501.0 101.0h0M491.4 67.3h0M476.6 135.9h0M490.8 47.8h0M455.8 95.5h0M481.9 140.0h0M462.4 73.4h0M512.3 39.8h0M500.5 132.9h0M492.6 139.7h0M491.6 76.4h0M507.5 120.6h0M498.2 42.5h0M523.1 42.3h0M511.3 71.0h0M530.5 46.1h0M460.1 115.1h0M503.9 125.1h0M505.9 74.4h0M533.1 73.7h0M527.2 82.6h0M489.9 73.8h0M477.9 66.0h0M506.2 123.2h0M502.3 44.3h0M470.6 103.1h0M485.4 66.1h0M483.4 68.3h0M505.2 95.2h0M532.9 67.7h0M487.8 103.3h0M478.7 144.5h0M508.1 121.4h0M482.4 132.2h0M497.6 95.1h0M500.1 46.5h0M458.2 105.5h0M463.0 85.5h0M470.2 93.3h0M494.0 59.3h0M478.5 147.9h0M481.9 127.9h0M468.1 92.9h0M470.6 136.6h0M472.5 73.0h0M485.9 68.5h0M503.6 95.8h0M460.0 80.0h0M534.7 73.2h0M493.3 140.9h0M458.8 85.4h0M460.2 112.8h0M520.8 79.0h0M520.1 58.4h0M488.3 83.7h0M536.6 67.8h0M509.1 106.5h0M510.0 87.3h0M459.8 117.0h0M461.5 92.8h0M469.0 70.2h0M489.2 92.1h0M479.8 72.6h0M506.3 122.1h0M498.6 85.6h0M502.8 118.0h0M494.0 120.1h0M501.9 132.5h0M476.4 70.9h0M489.4 65.8h0M503.5 45.3h0M482.8 121.7h0M504.3 66.0h0M480.4 47.8h0M488.7 99.2h0M511.1 39.3h0M518.3 42.6h0M522.4 38.3h0M517.4 35.6h0M518.6 39.3h0M518.2 40.6h0M520.8 41.7h0M517.0 41.3h0M518.9 35.1h0M514.9 37.4h0M514.8 39.0h0M519.5 40.1h0M515.9 40.5h0M522.9 34.0h0M516.8 37.0h0M523.3 42.0h0M521.9 39.8h0M517.5 39.6h0M512.7 38.6h0M512.3 37.8h0M520.0 37.5h0M518.6 37.4h0M520.3 38.9h0M516.1 40.7h0M516.2 43.0h0M516.8 39.4h0M517.3 36.0h0M521.6 38.6h0M518.8 38.2h0M521.6 37.7h0M523.8 36.8h0M520.8 41.3h0M514.7 36.5h0M519.9 40.0h0M519.9 38.3h0M519.1 35.8h0M516.6 35.6h0M510.0 86.6h0M523.5 95.6h0M527.8 99.8h0M530.3 82.6h0M533.9 98.1h0M516.8 92.1h0M523.8 90.2h0M527.5 98.9h0M512.3 83.4h0M520.8 91.5h0M520.2 91.2h0M510.9 98.8h0M511.9 85.4h0M529.2 99.0h0M519.9 87.1h0M530.8 89.1h0M524.4 99.8h0M530.2 92.5h0M530.9 94.2h0M512.7 82.9h0M530.0 83.3h0M533.5 100.2h0M525.5 93.6h0M532.5 91.9h0M512.3 88.7h0M518.1 85.0h0M513.4 92.1h0M529.9 99.9h0M532.2 97.4h0M533.4 98.5h0M511.6 97.5h0M529.3 84.1h0M525.1 94.7h0M526.8 99.6h0M525.7 88.9h0M530.7 96.9h0M526.0 95.5h0M510.9 93.6h0M522.7 94.4h0M527.1 90.0h0M530.8 96.4h0M528.0 91.2h0M532.3 91.3h0M531.1 96.1h0M530.4 94.7h0M525.3 98.2h0M529.2 96.4h0M528.2 97.9h0M527.4 98.2h0M525.2 95.0h0M531.7 97.0h0M524.6 96.9h0M525.8 97.0h0M529.5 96.0h0M529.4 92.9h0M530.2 93.8h0M521.6 95.4h0M528.8 98.8h0M527.5 94.6h0M522.5 103.5h0M533.5 113.6h0M527.7 108.7h0M535.3 123.0h0M537.2 116.1h0M527.5 106.9h0M530.5 114.1h0M535.1 116.5h0M532.1 108.9h0M525.9 104.1h0M523.1 104.9h0M527.5 108.6h0M533.2 116.1h0M524.9 103.7h0M533.6 112.0h0M535.2 115.0h0M533.9 116.1h0M536.2 122.0h0M532.8 112.8h0M529.5 108.4h0M537.4 118.0h0M529.5 111.7h0M521.8 101.7h0M531.8 110.7h0M536.8 121.2h0M529.9 105.4h0M537.0 122.3h0M532.1 109.8h0M536.2 114.7h0M532.6 116.8h0M524.6 102.4h0M523.3 101.3h0M535.4 124.0h0M525.8 100.9h0M534.6 115.6h0M535.4 113.6h0M529.7 108.9h0M536.1 116.7h0M533.5 111.8h0M527.1 113.1h0M523.5 106.1h0M531.4 115.9h0M534.9 116.3h0M533.1 112.6h0M535.7 121.8h0M535.5 112.0h0M524.3 106.5h0M522.9 105.5h0M533.2 113.5h0M532.8 113.4h0M525.1 105.8h0M536.5 117.9h0M534.4 111.5h0M528.5 108.2h0M538.4 119.1h0M528.7 107.6h0M534.3 115.2h0M534.7 113.4h0M538.5 123.9h0M530.7 105.2h0M535.0 112.5h0M526.2 99.7h0M534.1 117.5h0M536.3 118.0h0M530.1 110.4h0M527.1 108.5h0M527.5 106.8h0M527.3 107.7h0M537.7 116.0h0M558.2 110.8h0M550.9 112.2h0M551.6 105.1h0M551.1 109.3h0M557.2 101.3h0M553.6 106.0h0M553.3 112.6h0M548.1 108.3h0M559.7 106.0h0M557.3 105.2h0M552.5 108.9h0M554.0 107.1h0M558.8 111.9h0M553.3 106.7h0M556.0 106.2h0M548.9 111.0h0M553.5 103.8h0M554.6 102.8h0M547.8 103.7h0M553.8 109.8h0M552.3 113.4h0M552.0 100.6h0M559.8 105.6h0M554.6 103.9h0M553.9 102.0h0M550.8 103.2h0M554.1 106.2h0M552.7 109.4h0M554.8 110.7h0M553.5 110.2h0M549.8 101.9h0M554.0 106.2h0M557.1 102.2h0M555.0 98.2h0M553.7 107.5h0M555.5 111.0h0M548.8 102.4h0M557.9 108.6h0M553.8 108.5h0M553.2 108.5h0M558.8 103.2h0M559.8 106.8h0M551.4 110.3h0M552.4 106.4h0M553.4 107.6h0M548.7 110.4h0M556.2 102.2h0M551.7 105.3h0M556.1 101.4h0M552.8 90.8h0M552.7 88.2h0M552.5 88.2h0M553.0 92.2h0M552.6 92.4h0M552.1 90.4h0M443.5 95.9h0M444.5 110.5h0M448.8 94.6h0M449.1 110.4h0M445.3 102.5h0M452.7 104.3h0M449.9 99.3h0M452.2 96.5h0M443.9 101.1h0M451.6 95.1h0M447.4 97.7h0M449.9 95.0h0M448.1 100.2h0M446.0 94.2h0M447.6 103.3h0M526.5 127.1h0M525.7 132.4h0M522.9 127.9h0M522.6 128.8h0M520.6 134.1h0M521.1 134.4h0M519.6 129.0h0M527.7 133.3h0M526.7 128.2h0M527.5 126.6h0M520.5 127.4h0M526.8 130.7h0M525.8 127.1h0M525.8 129.0h0M524.1 129.4h0M521.2 145.5h0M522.4 143.2h0M520.8 136.8h0" stroke="#00BFC4" stroke-width="0.98" stroke-linecap="round" opacity="0.9"/>
<path d="M510.4 52.1h0M481.9 128.0h0M482.6 74.5h0M458.0 80.1h0M462.3 93.6h0M483.6 137.1h0M474.3 65.6h0M526.9 43.3h0M503.2 95.2h0M471.2 111.8h0M493.2 80.9h0M501.2 96.8h0M479.6 137.9h0M487.6 80.5h0M462.9 85.7h0M476.2 132.1h0M525.2 63.3h0M511.5 50.6h0M505.9 69.4h0M491.1 68.2h0M500.7 133.1h0M485.4 108.3h0M535.7 67.6h0M487.0 122.9h0M491.2 128.8h0M490.0 59.7h0M501.0 104.9h0M512.1 81.8h0M512.8 63.0h0M499.0 95.2h0M470.6 71.9h0M501.8 125.0h0M458.5 109.6h0M529.3 40.1h0M471.6 126.6h0M498.3 127.2h0M501.0 101.3h0M498.4 73.1h0M518.8 48.6h0M488.8 118.8h0M489.0 70.9h0M528.7 63.2h0M475.9 141.2h0M518.4 70.9h0M486.5 68.0h0M493.8 118.1h0M492.3 57.8h0M511.8 53.2h0M525.1 60.9h0M468.4 103.6h0M523.6 44.2h0M527.4 57.2h0M510.0 65.5h0M486.2 118.6h0M489.8 69.3h0M498.4 127.3h0M498.2 105.1h0M523.3 57.1h0M498.8 57.1h0M518.2 37.6h0M483.4 133.2h0M501.0 58.2h0M505.0 96.9h0M513.8 69.7h0M502.8 53.7h0M483.7 68.5h0M475.2 70.0h0M526.3 52.0h0M491.6 98.8h0M479.6 104.8h0M487.8 139.0h0M466.4 80.7h0M465.7 72.6h0M477.4 58.6h0M519.9 58.3h0M514.0 72.6h0M471.7 99.5h0M508.2 69.3h0M483.6 124.8h0M498.4 49.6h0M485.1 75.5h0M479.0 61.5h0M493.0 137.3h0M470.4 125.0h0M500.9 85.3h0M523.1 47.8h0M474.2 109.2h0M475.2 94.7h0M477.6 84.6h0M529.1 68.9h0M493.4 134.7h0M488.3 71.5h0M473.7 121.6h0M530.4 74.6h0M495.0 100.3h0M517.6 48.9h0M509.9 77.7h0M500.9 73.1h0M471.9 84.1h0M492.0 111.0h0M511.3 55.1h0M467.5 65.0h0M498.9 94.9h0M467.0 104.6h0M500.8 107.4h0M487.5 95.6h0M508.8 87.3h0M488.3 72.5h0M506.5 49.6h0M476.4 70.7h0M474.5 59.2h0M493.8 122.0h0M511.5 51.7h0M525.9 51.3h0M499.3 89.4h0M505.3 89.5h0M495.3 94.8h0M466.3 129.1h0M489.3 139.7h0M476.0 86.4h0M501.9 113.7h0M525.9 65.3h0M459.4 92.6h0M467.3 78.0h0M485.3 63.0h0M509.1 72.5h0M477.3 56.5h0M518.1 45.7h0M490.7 105.5h0M482.8 113.9h0M505.1 116.5h0M487.9 83.7h0M496.7 91.3h0M499.9 69.6h0M499.2 56.3h0M469.5 85.1h0M491.9 92.3h0M480.9 66.3h0M502.3 99.2h0M480.5 115.9h0M515.1 51.9h0M483.8 66.8h0M505.4 56.3h0M480.8 78.2h0M512.2 59.2h0M485.2 98.6h0M499.3 112.1h0M528.2 60.4h0M478.9 134.2h0M500.0 86.7h0M475.8 80.3h0M485.1 111.4h0M499.3 83.4h0M502.8 90.6h0M469.4 102.8h0M514.0 41.0h0M498.9 87.6h0M478.6 63.6h0M500.1 97.2h0M476.2 92.5h0M464.8 91.4h0M467.4 74.7h0M501.6 114.4h0M488.8 58.9h0M507.4 59.3h0M464.9 79.7h0M498.7 130.6h0M479.6 58.8h0M496.2 79.0h0M490.1 74.8h0M525.3 51.7h0M527.0 79.0h0M482.7 95.3h0M518.6 57.0h0M469.0 104.0h0M490.7 108.2h0M489.7 62.6h0M467.6 91.3h0M502.0 110.8h0M491.5 128.6h0M505.5 79.3h0M491.9 73.4h0M493.7 83.0h0M502.5 70.2h0M467.2 106.1h0M516.2 56.3h0M488.3 109.2h0M523.7 74.8h0M493.0 61.6h0M489.4 109.4h0M483.4 116.8h0M510.2 78.5h0M505.3 67.8h0M502.1 51.1h0M482.0 140.2h0M489.5 136.0h0M487.3 110.6h0M492.4 82.7h0M533.3 61.6h0M485.9 114.3h0M493.4 131.1h0M533.5 50.1h0M492.0 103.7h0M481.2 103.6h0M490.3 125.8h0M469.9 121.8h0M469.1 120.7h0M530.4 52.4h0M478.2 98.5h0M469.7 130.9h0M513.9 51.1h0M484.4 60.1h0M459.3 106.0h0M496.3 77.1h0M481.7 100.7h0M497.7 124.5h0M476.4 55.5h0M495.8 83.3h0M485.1 108.3h0M490.3 108.0h0M492.4 56.7h0M489.6 104.5h0M482.5 68.3h0M524.5 40.5h0M522.7 77.7h0M485.3 105.2h0M496.1 94.7h0M486.7 119.0h0M475.6 118.1h0M484.0 122.4h0M508.2 68.3h0M494.5 55.7h0M503.5 48.4h0M479.4 139.5h0M512.5 53.7h0M519.0 42.9h0M500.9 102.4h0M469.0 75.0h0M473.7 88.7h0M516.8 60.2h0M471.1 135.1h0M500.4 120.6h0M466.4 89.7h0M479.6 97.1h0M487.9 60.2h0M493.6 111.1h0M458.5 113.2h0M532.0 80.7h0M479.7 50.5h0M471.5 119.4h0M525.0 53.2h0M497.4 94.3h0M481.4 109.4h0M532.3 62.9h0M495.3 116.1h0M473.5 94.8h0M498.2 131.4h0M465.2 99.6h0M492.2 99.9h0M517.6 65.4h0M467.7 108.4h0M493.1 55.2h0M510.4 41.0h0M506.1 66.2h0M470.5 73.7h0M515.6 68.5h0M463.0 117.2h0M524.1 80.4h0M502.8 92.5h0M520.0 55.3h0M520.8 65.8h0M493.3 127.2h0M472.7 120.3h0M481.3 129.6h0M476.9 112.2h0M491.3 97.3h0M479.8 112.2h0M496.0 103.8h0M490.2 62.5h0M489.7 136.5h0M528.8 44.3h0M504.8 77.4h0M475.4 61.5h0M502.7 82.7h0M535.4 65.1h0M474.7 86.9h0M476.4 60.5h0M507.2 74.8h0M493.5 75.2h0M476.2 117.5h0M507.7 62.5h0M499.2 81.2h0M486.7 116.4h0M469.4 72.9h0M500.8 84.4h0M491.4 132.9h0M481.5 121.5h0M520.0 43.6h0M486.2 95.6h0M493.0 60.9h0M522.1 35.8h0M489.9 132.9h0M472.5 86.5h0M471.3 96.6h0M520.9 58.9h0M507.8 108.0h0M512.6 37.5h0M520.7 55.9h0M538.3 64.4h0M503.0 114.7h0M471.0 77.6h0M484.9 71.2h0M477.5 97.9h0M510.5 75.8h0M534.5 69.0h0M475.6 108.0h0M490.4 85.6h0M490.0 100.4h0M493.4 73.9h0M484.8 106.8h0M489.8 137.9h0M496.6 138.2h0M508.1 66.0h0M482.3 124.9h0M491.3 144.4h0M495.8 60.8h0M501.8 84.6h0M488.8 102.0h0M514.0 77.2h0M508.9 54.1h0M495.0 43.5h0M496.0 111.9h0M512.3 76.1h0M532.1 61.1h0M486.8 115.5h0M481.2 103.4h0M500.4 122.6h0M486.6 115.3h0M472.7 123.3h0M523.0 35.6h0M462.0 113.0h0M465.5 64.4h0M487.7 126.0h0M475.2 105.2h0M492.8 124.2h0M488.4 135.8h0M523.9 62.7h0M488.8 105.0h0M476.0 105.5h0M522.4 48.3h0M507.8 111.5h0M531.4 64.8h0M500.9 88.2h0M480.0 62.8h0M517.7 39.5h0M513.4 38.8h0M482.4 91.2h0M512.4 59.6h0M488.7 136.0h0M507.7 47.5h0M500.9 72.6h0M498.5 104.7h0M525.9 57.1h0M496.7 82.6h0M496.9 82.0h0M482.9 76.2h0M465.2 90.7h0M495.1 71.2h0M485.6 73.4h0M478.9 134.0h0M490.7 141.7h0M472.1 85.6h0M482.4 117.1h0M488.7 108.9h0M501.4 76.8h0M503.6 92.2h0M509.0 73.0h0M467.3 63.1h0M464.8 109.0h0M474.2 75.6h0M476.5 76.8h0M513.2 79.1h0M494.2 85.8h0M522.4 56.2h0M502.2 118.3h0M471.3 100.7h0M483.8 66.2h0M527.7 76.7h0M526.4 58.1h0M486.4 47.1h0M485.6 143.9h0M502.0 75.0h0M467.1 80.0h0M528.7 73.4h0M483.6 141.3h0M472.2 130.7h0M474.6 56.8h0M487.2 85.6h0M498.4 80.3h0M483.5 64.5h0M492.6 82.6h0M496.8 105.0h0M517.9 69.4h0M526.2 77.9h0M490.7 119.9h0M510.8 87.1h0M467.2 123.7h0M468.1 120.6h0M474.9 60.6h0M479.5 107.4h0M520.2 46.0h0M517.1 61.4h0M505.2 98.3h0M495.9 94.4h0M526.7 56.7h0M512.4 56.3h0M472.7 60.2h0M485.0 132.7h0M520.4 68.2h0M480.0 56.7h0M528.9 75.2h0M484.7 108.9h0M489.2 85.9h0M499.2 63.4h0M515.9 53.0h0M497.2 102.1h0M480.7 74.0h0M464.4 93.8h0M513.6 47.6h0M533.3 76.8h0M497.6 58.9h0M477.0 69.0h0M491.0 78.1h0M470.3 84.6h0M478.2 90.3h0M473.3 109.8h0M490.3 72.9h0M516.5 80.1h0M481.0 117.3h0M475.1 89.9h0M506.1 78.7h0M531.1 73.4h0M491.5 85.7h0M499.8 105.3h0M471.0 62.1h0M499.1 95.3h0M486.4 61.5h0M524.3 71.1h0M479.4 128.4h0M505.4 50.0h0M492.3 92.2h0M473.2 62.2h0M531.6 70.4h0M468.7 97.2h0M487.5 127.4h0M480.5 60.5h0M476.8 75.9h0M488.3 122.6h0M470.1 89.5h0M494.5 68.3h0M480.6 71.4h0M495.5 55.1h0M493.1 120.7h0M508.1 80.8h0M506.8 106.0h0M518.9 38.1h0M513.6 54.6h0M488.6 73.5h0M490.8 100.7h0M501.1 89.0h0M480.9 110.1h0M485.5 71.5h0M512.5 73.8h0M485.0 49.3h0M513.6 46.5h0M502.7 85.3h0M484.8 121.5h0M480.9 70.4h0M498.5 101.8h0M499.3 113.4h0M497.8 127.6h0M508.7 67.9h0M503.0 68.6h0M518.0 54.2h0M529.3 61.4h0M489.1 110.0h0M500.8 95.3h0M496.4 107.0h0M508.4 83.6h0M505.7 67.6h0M525.6 73.7h0M492.3 127.3h0M514.4 49.4h0M479.5 135.0h0M491.2 127.3h0M491.6 90.4h0M526.1 78.7h0M486.1 66.2h0M498.3 104.2h0M477.7 82.3h0M472.3 120.3h0M512.4 53.1h0M471.3 100.8h0M488.1 90.7h0M497.3 71.3h0M483.9 52.6h0M510.3 54.8h0M475.0 85.4h0M485.3 93.8h0M515.8 72.8h0M471.2 112.7h0M532.6 59.7h0M465.1 91.7h0M514.2 55.3h0M476.9 143.3h0M519.8 49.9h0M460.1 81.6h0M491.2 54.1h0M491.5 130.7h0M505.1 58.2h0M500.7 100.3h0M472.9 102.7h0M501.2 59.3h0M521.2 39.1h0M508.0 59.9h0M469.5 95.5h0M470.6 115.0h0M507.1 67.4h0M488.2 80.3h0M474.9 128.3h0M503.9 80.6h0M485.3 54.5h0M480.4 120.1h0M489.7 74.0h0M496.5 74.1h0M496.0 45.8h0M497.0 55.7h0M484.0 107.4h0M480.8 59.9h0M493.0 73.6h0M457.8 99.6h0M479.4 94.8h0M528.8 60.1h0M477.4 87.1h0M503.9 93.2h0M475.9 87.8h0M529.7 51.4h0M494.5 83.3h0M469.4 68.4h0M523.4 47.5h0M481.5 128.8h0M484.9 119.8h0M504.7 104.0h0M480.3 77.8h0M519.3 59.5h0M483.2 131.1h0M503.9 61.4h0M476.8 104.4h0M471.9 81.6h0M487.6 54.1h0M510.4 67.7h0M467.4 101.6h0M513.8 63.7h0M502.7 122.0h0M484.2 111.6h0M518.1 68.7h0M484.7 73.1h0M507.7 56.7h0M530.4 57.3h0M468.6 70.2h0M491.6 52.2h0M481.0 61.3h0M500.9 103.3h0M511.1 52.4h0M505.4 50.4h0M489.1 112.7h0M480.2 74.0h0M476.7 105.1h0M501.6 51.4h0M529.3 57.3h0M491.4 122.2h0M481.1 115.9h0M489.1 66.5h0M496.6 133.3h0M479.5 78.4h0M528.9 51.9h0M494.9 101.0h0M490.4 120.6h0M528.6 39.1h0M483.8 121.7h0M484.2 97.1h0M470.4 87.3h0M524.1 53.1h0M465.1 93.2h0M495.0 96.4h0M503.8 50.5h0M478.5 64.0h0M530.5 66.9h0M503.3 74.8h0M499.8 64.5h0M471.5 108.3h0M511.4 41.5h0M470.8 89.4h0M474.6 71.8h0M488.4 73.5h0M465.8 70.3h0M505.5 72.3h0M527.3 58.0h0M503.1 58.6h0M514.1 57.3h0M482.9 55.0h0M500.1 105.1h0M513.0 70.9h0M499.9 69.5h0M511.2 65.2h0M484.8 66.8h0M507.9 74.3h0M502.6 77.5h0M494.8 92.6h0M478.1 95.9h0M482.0 67.3h0M487.9 125.1h0M508.1 70.9h0M484.2 76.7h0M495.8 119.0h0M499.7 136.9h0M496.9 91.3h0M480.8 129.5h0M469.3 73.9h0M503.6 72.7h0M496.0 85.0h0M496.4 84.1h0M471.0 94.2h0M470.9 83.2h0M464.8 96.1h0M474.2 107.8h0M497.4 115.5h0M504.6 43.4h0M517.6 51.0h0M479.2 105.1h0M501.0 115.2h0M489.0 125.4h0M530.7 66.3h0M477.3 68.4h0M493.0 128.2h0M523.2 78.5h0M516.9 68.3h0M514.4 47.1h0M533.3 61.7h0M496.6 78.1h0M517.9 44.9h0M493.2 103.9h0M501.4 92.2h0M531.7 56.8h0M515.7 48.1h0M484.4 92.7h0M459.8 91.7h0M487.5 51.8h0M494.2 125.5h0M520.6 38.4h0M506.1 106.7h0M474.4 88.7h0M523.9 56.8h0M465.4 107.2h0M482.1 58.1h0M501.8 71.2h0M475.0 63.4h0M495.5 113.3h0M495.9 103.2h0M486.0 100.5h0M484.3 81.4h0M471.4 129.7h0M466.8 76.2h0M490.2 51.9h0M474.7 125.8h0M530.3 39.5h0M521.2 53.3h0M511.3 81.4h0M522.6 54.8h0M509.6 52.5h0M496.2 68.9h0M523.2 77.7h0M498.3 100.1h0M501.0 63.0h0M485.4 105.9h0M471.3 83.2h0M512.1 69.2h0M475.4 107.9h0M504.8 78.5h0M487.4 105.3h0M480.4 109.2h0M487.6 109.8h0M523.7 76.0h0M491.6 53.5h0M486.2 90.6h0M478.2 102.3h0M505.4 89.5h0M474.6 131.4h0M486.0 128.2h0M467.1 91.3h0M481.4 142.3h0M515.2 75.0h0M489.3 92.3h0M530.4 41.8h0M502.7 91.5h0M517.1 39.1h0M484.8 143.3h0M473.7 113.5h0M514.3 72.1h0M478.5 110.2h0M480.1 59.8h0M499.3 88.2h0M499.4 53.0h0M476.8 133.6h0M488.4 62.3h0M497.2 92.2h0M508.4 57.2h0M481.9 127.7h0M500.4 132.7h0M479.6 72.6h0M483.9 76.2h0M479.2 132.4h0M460.1 97.7h0M509.6 54.9h0M517.8 59.6h0M474.8 71.4h0M491.3 77.0h0M494.5 113.5h0M504.8 64.7h0M497.6 65.2h0M524.0 78.3h0M501.0 80.1h0M522.1 67.3h0M484.8 98.7h0M466.8 123.1h0M479.5 57.4h0M482.3 132.0h0M469.5 118.8h0M468.6 79.8h0M487.5 131.3h0M465.0 106.6h0M496.7 51.7h0M488.3 110.4h0M505.6 68.4h0M467.6 116.9h0M500.4 118.2h0M525.5 38.1h0M503.5 87.6h0M520.0 42.1h0M493.5 83.2h0M463.1 99.8h0M466.0 67.2h0M519.4 37.2h0M465.8 118.2h0M490.7 101.4h0M500.2 48.6h0M489.9 105.8h0M493.7 138.9h0M479.0 118.2h0M498.5 51.3h0M503.2 55.9h0M480.4 126.2h0M487.5 98.3h0M490.6 109.0h0M487.9 103.4h0M501.0 124.6h0M495.9 65.1h0M490.2 137.2h0M476.3 95.2h0M492.1 96.0h0M471.7 114.1h0M464.6 109.3h0M477.0 95.2h0M492.5 99.2h0M493.3 76.7h0M480.3 67.0h0M459.4 91.8h0M492.8 93.7h0M495.3 50.7h0M467.8 107.6h0M477.5 64.6h0M473.7 93.9h0M494.4 61.4h0M516.5 72.1h0M465.5 97.3h0M508.2 79.5h0M503.4 115.6h0M512.4 51.7h0M480.9 74.5h0M496.1 88.8h0M517.8 57.4h0M525.9 75.7h0M474.0 90.7h0M471.5 74.0h0M481.2 132.0h0M495.6 98.7h0M494.6 55.6h0M490.8 121.1h0M475.3 90.4h0M486.9 74.2h0M477.8 76.5h0M466.6 62.6h0M501.4 77.2h0M484.8 79.2h0M520.3 56.9h0M501.2 43.2h0M484.0 103.1h0M464.0 74.2h0M496.4 56.8h0M495.5 116.9h0M514.7 48.7h0M480.7 128.3h0M497.2 131.8h0M485.4 55.9h0M495.4 102.2h0M463.2 117.2h0M482.7 98.6h0M464.6 107.5h0M526.0 47.8h0M484.9 75.1h0M484.7 59.5h0M509.3 47.6h0M498.8 75.0h0M488.3 66.0h0M513.3 58.8h0M484.7 79.5h0M470.0 120.3h0M502.7 70.5h0M480.3 110.4h0M500.9 74.6h0M492.9 133.0h0M474.6 109.1h0M531.8 72.7h0M464.0 100.2h0M480.8 76.6h0M486.8 95.5h0M492.8 123.2h0M465.3 89.0h0M485.3 102.3h0M505.5 54.2h0M489.1 109.4h0M477.3 100.4h0M478.7 114.1h0M507.0 65.3h0M486.8 49.9h0M473.0 104.2h0M494.8 93.5h0M524.7 80.2h0M520.0 60.6h0M468.2 97.3h0M496.0 91.1h0M498.6 109.8h0M503.9 89.7h0M472.6 66.7h0M476.3 64.2h0M469.7 92.7h0M472.6 100.4h0M481.3 119.6h0M493.2 125.2h0M492.9 130.6h0M503.1 92.8h0M484.7 102.9h0M469.6 82.2h0M496.3 68.3h0M488.1 129.8h0M474.4 112.6h0M508.5 101.2h0M500.5 113.7h0M473.1 92.9h0M505.8 94.2h0M460.1 111.6h0M502.1 52.3h0M478.1 66.4h0M492.4 125.0h0M504.4 105.7h0M485.9 110.1h0M467.3 107.2h0M523.9 40.4h0M471.9 84.8h0M498.6 61.6h0M511.8 69.0h0M463.2 112.0h0M465.0 108.9h0M477.5 72.4h0M503.4 65.5h0M472.9 102.5h0M474.7 63.7h0M514.1 45.9h0M482.4 69.5h0M497.2 65.1h0M504.3 84.5h0M473.1 95.7h0M467.0 116.6h0M514.3 51.4h0M469.1 70.5h0M486.7 137.3h0M481.4 58.8h0M515.0 59.8h0M485.1 126.4h0M484.4 127.3h0M481.6 88.9h0M531.6 75.1h0M499.7 114.4h0M477.1 123.4h0M510.1 110.5h0M500.8 90.3h0M480.1 139.5h0M488.0 115.8h0M487.2 127.6h0M502.1 123.6h0M483.1 55.7h0M466.1 86.7h0M513.3 40.8h0M465.8 114.5h0M487.7 84.1h0M470.9 80.6h0M528.4 53.1h0M486.3 94.7h0M466.3 98.7h0M520.6 63.1h0M519.4 36.1h0M502.1 132.2h0M475.0 83.7h0M511.0 75.9h0M531.4 46.3h0M504.4 63.0h0M482.2 130.4h0M494.3 122.4h0M509.9 52.7h0M481.5 141.9h0M514.3 76.7h0M495.1 138.9h0M466.6 113.6h0M494.7 109.5h0M480.3 131.8h0M471.3 124.3h0M488.0 111.2h0M533.6 71.2h0M504.7 93.9h0M505.1 83.3h0M467.8 104.8h0M459.3 90.3h0M480.9 142.0h0M481.6 123.1h0M503.1 116.2h0M521.5 78.9h0M468.3 88.4h0M509.5 48.9h0M506.4 77.6h0M490.7 134.2h0M514.5 68.3h0M475.2 133.7h0M477.0 69.2h0M481.2 128.0h0M491.0 98.7h0M493.3 77.2h0M500.2 111.7h0M490.8 87.6h0M481.8 63.8h0M476.8 107.4h0M476.6 53.6h0M486.6 108.9h0M478.4 120.7h0M489.6 91.1h0M482.2 77.8h0M477.9 128.9h0M500.5 118.4h0M466.4 90.6h0M528.6 77.3h0M486.8 85.3h0M507.6 72.2h0M498.2 127.5h0M505.1 73.6h0M508.5 86.4h0M496.9 59.6h0M488.1 49.1h0M477.7 101.7h0M478.8 135.3h0M497.9 115.4h0M468.6 63.1h0M476.2 124.4h0M476.2 63.6h0M515.8 65.5h0M533.0 68.6h0M528.9 69.9h0M485.8 123.2h0M497.9 139.1h0M474.4 127.1h0M483.8 132.7h0M498.8 98.1h0M504.9 61.1h0M486.0 99.1h0M487.1 123.5h0M468.5 91.3h0M489.1 111.8h0M476.8 58.8h0M480.6 64.5h0M475.2 90.0h0M502.6 64.5h0M478.1 133.3h0M507.4 49.3h0M462.1 110.4h0M485.9 114.5h0M487.2 102.0h0M486.3 86.1h0M492.8 94.3h0M510.9 45.1h0M480.4 72.8h0M474.8 88.9h0M527.8 62.8h0M480.2 134.5h0M490.4 120.4h0M485.7 130.0h0M496.0 98.4h0M515.2 73.0h0M473.7 127.4h0M479.7 125.0h0M478.7 74.4h0M507.3 55.4h0M502.6 105.0h0M502.4 59.4h0M490.3 97.7h0M474.3 107.3h0M479.3 77.8h0M505.9 62.9h0M469.0 64.3h0M460.5 100.2h0M521.0 66.3h0M473.6 66.4h0M488.5 109.6h0M500.4 50.2h0M474.4 97.3h0M480.0 126.9h0M517.6 37.9h0M516.7 53.1h0M526.9 70.1h0M461.5 83.0h0M500.8 80.6h0M484.3 105.0h0M461.1 99.6h0M467.7 94.3h0M526.3 68.7h0M472.4 77.6h0M530.0 63.6h0M489.6 75.3h0M495.5 90.9h0M466.0 124.9h0M499.2 123.9h0M490.6 69.0h0M508.8 46.2h0M500.7 96.9h0M494.1 117.9h0M467.3 57.3h0M472.5 95.8h0M466.5 92.2h0M493.9 46.7h0M490.7 83.6h0M496.8 85.3h0M528.8 74.6h0M458.5 92.9h0M505.8 45.1h0M497.0 60.1h0M504.0 99.5h0M485.6 77.1h0M484.0 114.1h0M508.8 41.9h0M486.1 78.8h0M487.6 69.6h0M510.6 100.1h0M479.1 88.8h0M491.9 134.9h0M517.9 67.3h0M525.6 55.2h0M477.1 113.1h0M473.7 65.0h0M479.0 90.0h0M508.8 105.0h0M465.6 99.6h0M494.1 53.2h0M518.8 55.7h0M516.5 69.0h0M482.0 107.3h0M515.9 69.8h0M488.0 80.3h0M473.1 73.4h0M476.5 111.3h0M472.8 112.7h0M506.5 108.3h0M522.8 78.6h0M490.9 68.9h0M489.2 69.0h0M480.7 93.4h0M530.2 64.9h0M528.3 39.0h0M519.9 71.3h0M497.5 132.6h0M483.3 89.8h0M475.9 114.2h0M500.4 51.6h0M521.6 38.8h0M461.4 95.7h0M486.3 127.3h0M515.9 69.2h0M472.6 60.0h0M529.1 67.2h0M518.1 56.8h0M491.9 129.3h0M499.5 85.2h0M476.4 134.2h0M487.7 135.1h0M476.7 70.2h0M478.3 53.9h0M474.8 121.9h0M515.3 77.1h0M472.5 134.2h0M499.0 68.9h0M476.9 79.9h0M486.6 126.9h0M523.4 55.9h0M500.7 114.4h0M471.9 123.0h0M464.5 127.6h0M528.0 72.9h0M494.5 104.3h0M482.5 81.9h0M492.9 78.2h0M527.3 65.6h0M473.2 98.6h0M468.1 96.6h0M482.9 87.3h0M491.4 91.0h0M488.0 123.4h0M518.4 77.6h0M480.7 68.3h0M477.5 125.3h0M478.4 98.1h0M470.9 87.5h0M507.0 81.2h0M516.5 52.8h0M523.0 74.8h0M472.0 119.2h0M472.7 82.6h0M499.4 41.8h0M479.9 133.3h0M504.0 104.7h0M465.6 70.7h0M474.4 131.5h0M505.9 70.3h0M464.0 77.2h0M499.3 96.4h0M494.9 138.1h0M485.8 126.8h0M493.7 67.3h0M474.7 131.2h0M504.4 110.3h0M491.3 46.4h0M492.8 95.2h0M491.2 53.3h0M466.9 113.6h0M477.1 90.5h0M495.9 112.0h0M533.1 67.5h0M496.4 91.4h0M510.5 74.4h0M531.0 79.5h0M530.1 75.6h0M465.7 91.3h0M487.9 107.3h0M522.0 63.8h0M471.3 103.9h0M476.1 67.5h0M492.7 55.9h0M476.5 133.6h0M478.0 113.1h0M489.7 115.2h0M463.5 103.3h0M476.2 70.5h0M479.7 66.8h0M518.6 73.4h0M464.3 118.3h0M513.5 54.8h0M502.1 107.5h0M479.3 68.0h0M534.0 77.6h0M487.9 76.5h0M491.9 118.0h0M524.3 54.0h0M509.5 102.5h0M479.8 97.7h0M498.8 126.2h0M497.7 88.0h0M481.3 119.4h0M481.0 117.6h0M493.2 60.2h0M503.7 47.2h0M474.5 73.9h0M529.5 58.6h0M485.1 129.1h0M492.8 80.9h0M505.7 77.6h0M480.1 55.6h0M495.2 122.1h0M502.7 74.9h0M521.6 70.3h0M490.8 97.8h0M508.0 54.2h0M491.0 120.9h0M483.8 78.3h0M503.1 43.4h0M477.2 96.0h0M496.9 127.4h0M494.0 85.4h0M491.6 61.3h0M522.3 60.7h0M480.9 109.6h0M495.9 117.9h0M478.8 70.4h0M510.2 50.9h0M497.4 79.7h0M492.8 119.2h0M526.6 76.7h0M483.0 55.4h0M512.1 45.1h0M488.8 48.4h0M484.2 56.0h0M478.4 87.2h0M508.9 59.5h0M486.8 95.1h0M475.9 103.1h0M504.0 61.6h0M495.5 91.3h0M472.2 88.3h0M495.9 102.1h0M504.0 53.2h0M474.8 121.2h0M474.2 81.6h0M473.6 106.5h0M481.9 87.7h0M492.1 132.6h0M490.7 133.8h0M480.3 124.1h0M513.5 49.4h0M468.1 88.6h0M484.5 141.6h0M483.5 119.6h0M507.9 59.8h0M529.9 60.5h0M529.8 78.6h0M516.5 58.6h0M484.2 61.6h0M496.2 69.0h0M493.5 94.0h0M470.4 60.4h0M528.0 62.5h0M521.0 81.0h0M491.7 116.0h0M497.0 85.5h0M519.5 75.1h0M487.8 68.6h0M479.6 104.2h0M500.6 80.8h0M487.4 111.2h0M523.4 76.5h0M526.8 43.9h0M503.6 88.1h0M499.5 127.8h0M470.1 74.4h0M490.3 54.5h0M482.7 129.9h0M513.9 60.4h0M496.3 95.9h0M518.1 56.2h0M471.6 75.6h0M489.6 114.1h0M488.8 57.2h0M477.8 78.0h0M485.5 99.4h0M500.4 86.9h0M503.0 101.8h0M485.7 85.7h0M511.7 65.5h0M506.4 57.1h0M506.5 99.7h0M473.1 117.1h0M506.1 97.2h0M495.6 126.2h0M478.3 78.2h0M489.7 67.4h0M494.2 123.6h0M520.6 46.8h0M517.5 57.5h0M485.0 112.7h0M480.7 105.4h0M497.2 56.7h0M518.0 34.8h0M465.6 79.4h0M466.6 76.8h0M481.0 137.3h0M482.5 59.5h0M523.9 75.0h0M497.8 114.1h0M493.0 58.2h0M487.4 73.3h0M509.1 52.9h0M482.3 118.2h0M477.2 87.8h0M477.1 76.1h0M506.3 102.9h0M474.9 69.0h0M499.5 62.2h0M506.5 86.3h0M510.3 87.0h0M488.6 83.1h0M481.3 68.8h0M488.8 107.6h0M509.7 93.8h0M498.4 122.8h0M523.0 81.6h0M491.3 50.6h0M529.0 51.3h0M469.5 88.5h0M496.8 62.4h0M506.8 54.5h0M515.8 34.8h0M482.2 88.4h0M514.7 47.5h0M461.9 80.0h0M506.3 73.4h0M485.6 70.1h0M511.1 45.5h0M474.5 119.4h0M486.4 66.0h0M494.1 119.2h0M524.8 39.5h0M481.4 106.8h0M489.8 108.6h0M476.1 105.2h0M503.9 98.6h0M475.4 99.1h0M498.0 113.4h0M487.5 118.0h0M530.6 53.0h0M478.8 82.9h0M474.7 92.5h0M486.0 59.1h0M478.4 96.7h0M493.7 76.9h0M496.2 84.7h0M467.9 88.6h0M498.7 52.6h0M465.0 96.1h0M488.4 119.4h0M522.4 49.9h0M474.9 74.9h0M470.0 99.3h0M468.4 119.4h0M488.1 83.4h0M489.5 105.7h0M492.7 139.5h0M494.0 55.5h0M484.8 118.1h0M496.1 127.1h0M473.6 125.0h0M467.3 107.8h0M465.1 71.5h0M469.7 66.3h0M471.2 70.5h0M468.2 93.7h0M482.9 116.4h0M511.5 41.6h0M511.0 60.9h0M488.7 86.4h0M467.5 89.5h0M516.4 81.0h0M481.5 69.6h0M490.2 125.4h0M490.7 125.8h0M530.8 80.0h0M505.9 106.5h0M504.0 64.2h0M474.6 119.8h0M508.4 91.2h0M519.3 52.7h0M471.0 98.7h0M491.1 130.8h0M465.0 89.1h0M498.8 112.1h0M494.8 52.3h0M491.3 52.1h0M471.8 83.5h0M532.2 69.4h0M483.2 109.5h0M487.2 81.3h0M495.9 119.0h0M475.1 109.3h0M487.3 116.3h0M503.8 53.2h0M467.1 80.3h0M521.8 54.4h0M486.2 131.4h0M491.1 57.4h0M527.9 75.4h0M486.7 134.1h0M465.2 90.4h0M467.8 94.2h0M487.6 64.4h0M497.7 113.0h0M500.8 79.7h0M527.2 47.9h0M482.3 62.6h0M479.2 84.6h0M465.9 98.0h0M474.5 95.7h0M506.5 84.3h0M489.8 49.5h0M475.8 113.4h0M498.0 65.2h0M501.9 110.1h0M507.3 92.2h0M492.4 129.2h0M521.0 58.1h0M496.1 72.2h0M479.7 97.3h0M509.5 64.0h0M499.6 105.0h0M460.5 85.6h0M509.0 79.8h0M527.2 62.5h0M480.1 113.6h0M513.5 54.3h0M466.1 112.8h0M501.3 81.2h0M480.1 82.0h0M484.4 99.5h0M473.5 116.4h0M512.0 46.3h0M477.3 93.1h0M474.0 77.0h0M493.6 138.7h0M492.1 71.9h0M483.0 132.4h0M481.4 53.8h0M480.5 57.7h0M479.6 95.2h0M502.0 103.2h0M500.8 41.5h0M462.0 99.8h0M500.4 84.2h0M482.8 89.4h0M478.6 81.6h0M459.6 104.5h0M477.8 106.8h0M532.5 62.3h0M488.7 74.5h0M505.2 122.4h0M525.8 72.3h0M519.5 54.4h0M523.0 49.1h0M504.3 96.5h0M489.7 135.1h0M471.3 91.5h0M481.2 60.6h0M516.4 37.1h0M484.1 74.7h0M476.2 133.1h0M535.0 63.0h0M501.5 84.6h0M498.2 54.1h0M518.3 48.9h0M467.8 80.6h0M500.9 85.3h0M463.9 101.7h0M494.1 78.1h0M493.8 71.7h0M469.3 127.0h0M485.1 70.3h0M467.7 114.8h0M470.5 113.0h0M525.9 60.9h0M487.3 65.8h0M520.8 48.4h0M482.8 87.7h0M484.1 141.9h0M494.4 108.7h0M501.2 43.7h0M498.8 54.5h0M495.0 48.7h0M512.0 63.7h0M486.9 115.4h0M476.9 76.6h0M486.1 140.7h0M509.6 59.1h0M469.0 107.8h0M514.6 60.9h0M519.8 76.3h0M475.5 75.8h0M507.4 53.2h0M487.0 111.7h0M492.6 111.6h0M470.4 113.4h0M465.8 105.1h0M526.8 73.0h0M508.5 105.6h0M491.5 75.3h0M498.9 87.5h0M506.8 63.7h0M471.7 59.6h0M484.5 79.1h0M477.3 90.5h0M481.2 109.1h0M495.0 56.0h0M476.9 124.1h0M503.0 62.5h0M507.9 83.8h0M491.0 110.0h0M457.4 99.6h0M503.3 110.5h0M488.2 55.0h0M517.5 39.0h0M467.0 87.1h0M530.0 69.8h0M473.9 55.7h0M470.4 114.6h0M502.4 55.7h0M467.7 103.3h0M522.7 40.0h0M499.7 104.4h0M499.4 86.3h0M514.3 68.4h0M514.5 44.6h0M485.6 56.5h0M473.8 88.1h0M487.5 111.8h0M494.1 82.9h0M482.1 117.7h0M479.8 84.6h0M474.2 103.0h0M472.6 96.2h0M489.8 102.1h0M489.4 129.0h0M493.3 58.7h0M499.6 126.3h0M471.9 87.3h0M462.8 104.1h0M471.2 109.1h0M530.1 49.3h0M509.7 110.8h0M466.4 77.8h0M511.9 60.3h0M501.5 86.0h0M517.1 40.7h0M486.6 49.8h0M533.0 60.9h0M517.8 39.0h0M477.1 56.0h0M530.6 75.4h0M469.4 127.2h0M489.5 99.8h0M486.2 53.0h0M496.2 121.6h0M495.7 82.8h0M495.7 50.6h0M486.7 101.8h0M474.0 82.5h0M521.3 81.4h0M509.1 61.3h0M469.7 115.1h0M473.1 97.1h0M483.8 105.9h0M475.0 115.0h0M502.4 65.9h0M500.3 126.1h0M503.4 77.0h0M467.2 96.8h0M493.6 58.6h0M504.8 96.6h0M535.2 62.0h0M528.6 43.5h0M502.1 91.3h0M505.9 81.1h0M473.5 132.1h0M494.2 81.3h0M527.2 40.8h0M507.5 59.9h0M474.5 90.8h0M492.5 131.2h0M508.5 53.9h0M530.1 53.0h0M475.6 124.1h0M517.5 58.8h0M500.3 74.7h0M468.1 115.7h0M530.5 73.8h0M500.3 73.4h0M481.5 103.6h0M498.8 54.1h0M491.0 56.8h0M498.4 75.2h0M525.7 59.1h0M484.0 54.9h0M487.6 97.7h0M501.0 57.3h0M483.2 126.8h0M473.8 135.1h0M516.7 76.8h0M494.3 137.8h0M485.5 136.4h0M508.2 44.4h0M469.4 99.2h0M529.8 67.5h0M467.4 78.4h0M512.0 68.9h0M507.0 61.3h0M499.0 75.0h0M522.6 51.0h0M502.3 101.0h0M501.4 58.3h0M467.7 74.1h0M479.8 78.3h0M534.3 61.2h0M476.1 102.8h0M507.0 54.1h0M503.6 101.2h0M479.9 57.3h0M486.8 91.9h0M534.9 60.8h0M467.4 117.2h0M526.1 44.9h0M519.4 40.7h0M487.3 97.3h0M479.2 133.8h0M520.5 33.5h0M531.0 58.0h0M495.1 102.3h0M489.9 102.0h0M497.3 128.3h0M481.3 65.5h0M502.9 72.8h0M471.2 101.2h0M493.3 84.7h0M488.2 127.6h0M504.1 109.3h0M479.3 84.9h0M494.8 50.7h0M477.7 74.3h0M512.3 77.1h0M486.7 108.5h0M498.0 124.3h0M475.9 123.2h0M529.5 40.9h0M468.4 66.2h0M470.7 109.3h0M526.4 60.3h0M471.1 85.5h0M473.3 116.5h0M519.5 42.4h0M481.2 87.7h0M472.6 115.0h0M513.2 38.6h0M500.7 92.7h0M470.8 97.1h0M530.7 56.1h0M492.7 71.0h0M491.3 51.8h0M501.7 106.8h0M494.1 80.7h0M532.8 50.7h0M479.1 137.8h0M499.7 114.9h0M463.5 102.7h0M490.2 74.2h0M473.6 85.9h0M469.5 127.3h0M468.1 87.0h0M486.5 105.2h0M471.2 126.8h0M490.1 66.5h0M520.0 52.6h0M470.8 78.9h0M484.3 53.4h0M503.0 64.1h0M480.9 117.6h0M521.9 46.5h0M513.9 76.2h0M505.2 90.8h0M493.7 118.8h0M516.2 37.8h0M498.1 102.8h0M501.0 114.3h0M482.3 89.4h0M464.0 92.4h0M460.3 104.1h0M464.2 95.6h0M515.1 76.7h0M474.8 117.3h0M491.8 84.8h0M503.4 124.9h0M485.8 55.7h0M491.2 124.3h0M493.6 46.5h0M472.9 124.1h0M458.4 82.4h0M490.7 71.8h0M470.4 83.8h0M484.6 110.4h0M492.9 130.2h0M459.9 89.9h0M478.5 138.4h0M475.2 102.3h0M486.1 131.8h0M519.9 51.9h0M522.4 69.3h0M486.6 81.3h0M491.0 127.9h0M522.7 69.2h0M482.0 71.4h0M473.0 56.7h0M496.4 71.7h0M483.4 92.4h0M536.6 63.8h0M458.5 85.1h0M470.9 88.4h0M525.2 42.0h0M500.0 100.0h0M474.4 119.4h0M469.3 103.2h0M483.2 58.1h0M498.8 62.4h0M475.2 132.7h0M516.2 61.6h0M474.9 140.1h0M509.3 57.7h0M482.1 57.0h0M487.4 137.4h0M497.8 70.6h0M511.7 60.5h0M476.6 103.8h0M466.7 69.6h0M514.2 74.8h0M493.6 98.2h0M493.9 102.5h0M473.8 70.0h0M498.8 46.7h0M473.5 68.7h0M492.4 72.7h0M458.8 113.3h0M521.4 54.7h0M496.6 97.4h0M465.2 121.6h0M483.3 142.7h0M478.5 136.5h0M483.9 133.9h0M488.0 99.9h0M475.3 117.6h0M507.0 73.5h0M499.4 48.2h0M464.5 123.0h0M469.9 109.0h0M487.7 121.4h0M521.4 40.1h0M490.7 64.0h0M532.5 78.0h0M472.9 99.9h0M485.1 123.0h0M484.9 58.9h0M494.7 129.3h0M473.0 116.3h0M499.0 83.5h0M514.8 45.6h0M497.0 72.4h0M484.8 80.0h0M485.8 106.8h0M474.7 117.0h0M506.3 95.0h0M475.5 83.3h0M493.2 132.4h0M525.0 73.9h0M502.9 92.8h0M463.3 118.1h0M502.4 40.6h0M493.3 113.6h0M514.1 80.4h0M508.4 76.3h0M501.7 88.9h0M498.9 74.3h0M480.4 119.1h0M505.4 62.2h0M496.3 69.5h0M475.3 59.4h0M475.6 104.2h0M490.0 66.3h0M496.2 68.8h0M483.5 80.7h0M516.1 77.5h0M487.7 94.4h0M503.1 89.6h0M496.1 81.1h0M473.1 83.8h0M471.6 110.5h0M500.8 88.5h0M487.3 86.2h0M477.2 135.5h0M498.6 78.4h0M506.7 88.0h0M509.3 70.7h0M491.9 109.4h0M512.8 46.9h0M486.3 98.0h0M486.9 131.6h0M508.9 88.8h0M467.8 73.6h0M483.9 60.7h0M464.8 113.4h0M509.0 39.9h0M525.2 41.2h0M487.1 112.2h0M474.0 114.7h0M492.6 110.2h0M535.4 74.8h0M475.0 61.3h0M483.1 94.7h0M492.8 80.0h0M491.0 133.9h0M466.3 122.6h0M463.4 98.4h0M503.1 113.3h0M499.6 118.8h0M476.7 135.9h0M484.0 116.8h0M486.8 56.7h0M500.9 102.8h0M506.0 62.5h0M504.6 102.3h0M518.8 50.4h0M516.3 39.9h0M508.2 43.7h0M499.8 49.9h0M493.7 81.8h0M474.2 91.1h0M482.2 123.1h0M509.8 100.6h0M466.3 109.6h0M475.5 125.8h0M526.1 45.6h0M474.4 113.3h0M532.4 69.4h0M476.0 86.2h0M519.4 51.7h0M487.3 119.5h0M530.3 68.6h0M529.9 63.5h0M502.0 80.7h0M482.9 74.2h0M465.8 71.1h0M471.4 125.8h0M518.3 79.1h0M527.2 47.1h0M462.4 89.8h0M481.6 137.0h0M502.3 99.9h0M483.1 73.3h0M521.0 57.7h0M481.1 134.9h0M492.7 96.1h0M464.9 96.5h0M483.8 105.6h0M485.2 68.5h0M527.9 40.9h0M499.4 110.5h0M499.7 48.8h0M471.2 112.6h0M514.9 72.3h0M504.1 90.6h0M519.2 58.1h0M526.3 74.8h0M495.4 106.6h0M491.7 72.1h0M535.8 72.1h0M506.3 54.0h0M481.2 94.9h0M495.4 53.5h0M503.2 81.5h0M474.7 80.6h0M468.3 78.1h0M510.4 75.3h0M493.9 99.0h0M491.4 107.1h0M485.1 120.0h0M487.9 74.5h0M495.9 137.0h0M515.3 37.2h0M492.1 49.3h0M484.2 113.0h0M483.3 123.5h0M509.4 88.0h0M489.7 66.1h0M473.3 59.5h0M495.0 79.7h0M472.3 134.7h0M475.8 69.2h0M466.8 84.1h0M478.2 75.3h0M477.1 106.8h0M512.1 70.8h0M487.9 121.5h0M471.2 87.1h0M480.0 122.9h0M465.2 81.9h0M487.6 69.9h0M479.8 84.5h0M499.4 82.3h0M488.4 57.4h0M485.3 143.8h0M525.4 62.2h0M481.3 133.4h0M463.3 117.6h0M474.5 98.9h0M516.3 76.4h0M498.5 111.6h0M520.5 53.8h0M497.0 130.7h0M518.7 58.4h0M524.6 52.3h0M518.7 58.3h0M501.3 67.0h0M472.8 86.5h0M510.1 70.4h0M488.8 110.9h0M497.4 77.3h0M503.6 58.3h0M491.7 129.2h0M508.9 86.9h0M481.6 105.3h0M526.8 62.4h0M495.7 89.5h0M476.0 124.1h0M466.0 82.3h0M494.1 61.3h0M494.0 134.7h0M469.8 102.0h0M503.2 103.1h0M485.8 141.9h0M484.6 115.8h0M471.5 85.1h0M504.5 79.7h0M507.8 109.1h0M493.9 118.7h0M491.9 109.1h0M502.9 54.4h0M482.4 70.8h0M474.9 77.1h0M479.8 85.6h0M496.4 60.0h0M508.1 73.8h0M498.4 119.0h0M501.7 60.0h0M482.0 84.2h0M483.3 101.0h0M509.3 73.9h0M466.5 93.2h0M483.7 138.5h0M475.3 73.9h0M471.6 100.5h0M471.9 109.3h0M496.1 58.4h0M485.6 130.7h0M479.5 106.4h0M524.5 74.2h0M501.9 58.4h0M533.0 60.8h0M489.3 104.3h0M477.7 77.1h0M493.0 101.6h0M490.7 125.2h0M478.4 53.0h0M497.8 112.1h0M511.2 46.2h0M502.3 75.0h0M534.6 55.1h0M460.2 105.5h0M470.0 121.1h0M496.2 86.3h0M484.1 75.0h0M513.6 39.5h0M487.0 127.2h0M469.2 106.7h0M479.9 141.5h0M466.8 72.0h0M527.0 74.1h0M491.2 87.2h0M502.3 90.3h0M461.6 84.8h0M489.7 71.7h0M475.7 132.4h0M466.8 123.6h0M474.5 128.4h0M481.0 61.5h0M465.8 104.9h0M458.7 96.3h0M472.1 84.8h0M502.8 108.0h0M493.7 137.1h0M497.0 74.9h0M473.3 83.2h0M506.9 80.7h0M477.9 65.7h0M496.6 91.4h0M464.9 82.1h0M502.5 51.7h0M505.6 88.7h0M492.8 84.7h0M506.9 79.1h0M485.5 50.9h0M503.4 103.5h0M467.2 110.4h0M468.8 94.2h0M480.1 121.8h0M483.4 93.7h0M498.7 132.6h0M504.8 45.0h0M481.6 74.6h0M487.0 129.1h0M487.1 65.0h0M521.0 78.5h0M467.4 98.5h0M469.1 106.3h0M494.0 98.8h0M473.5 104.4h0M498.8 92.6h0M483.8 105.2h0M532.9 45.7h0M524.8 63.1h0M499.3 136.1h0M523.9 70.1h0M476.6 63.2h0M478.4 56.1h0M483.7 75.2h0M479.0 70.2h0M500.6 107.5h0M474.8 98.3h0M493.8 116.1h0M470.2 127.2h0M486.6 134.2h0M476.2 112.3h0M494.2 71.1h0M481.3 80.2h0M511.1 70.1h0M499.5 48.5h0M504.9 45.5h0M491.7 52.0h0M530.9 40.4h0M486.7 64.0h0M511.6 74.5h0M461.1 84.6h0M494.9 116.8h0M494.3 131.5h0M506.2 126.1h0M494.9 104.0h0M506.6 51.9h0M475.4 71.5h0M471.0 104.9h0M483.0 139.2h0M489.4 75.3h0M488.3 87.4h0M471.7 125.3h0M492.4 115.7h0M484.7 123.5h0M479.0 60.6h0M514.2 46.3h0M512.9 56.0h0M490.3 94.4h0M457.2 92.8h0M480.2 103.1h0M476.1 75.2h0M467.9 114.5h0M480.5 111.6h0M535.3 60.8h0M477.7 51.1h0M529.7 71.8h0M476.1 130.9h0M513.2 62.1h0M474.2 128.8h0M475.9 106.4h0M513.6 39.7h0M492.4 109.5h0M504.1 102.8h0M494.1 86.8h0M522.9 74.2h0M498.9 96.5h0M480.6 98.3h0M496.3 108.6h0M503.4 97.6h0M480.7 77.7h0M475.7 142.7h0M515.2 60.5h0M507.3 61.2h0M510.3 44.3h0M517.3 57.2h0M474.8 79.1h0M516.2 65.0h0M474.5 68.8h0M513.6 65.1h0M471.5 111.4h0M526.3 70.0h0M477.2 130.5h0M464.1 87.6h0M479.2 119.8h0M485.5 115.6h0M479.7 127.0h0M485.9 83.9h0M523.2 41.9h0M478.8 125.4h0M523.5 68.1h0M472.7 65.5h0M472.4 122.0h0M478.2 103.2h0M493.1 108.4h0M488.1 68.9h0M526.1 51.3h0M473.9 126.4h0M527.5 76.4h0M478.1 133.1h0M497.4 115.7h0M480.8 80.1h0M531.0 72.5h0M493.9 58.0h0M485.6 54.7h0M510.5 59.7h0M461.4 112.3h0M486.8 70.7h0M497.0 98.5h0M511.3 69.4h0M500.0 57.0h0M465.8 91.4h0M485.1 81.6h0M463.0 83.8h0M480.5 53.3h0M522.6 67.6h0M503.5 116.4h0M471.1 138.2h0M529.4 80.7h0M506.9 42.1h0M506.2 39.5h0M500.0 137.1h0M490.5 128.2h0M510.3 39.9h0M480.2 73.3h0M473.4 100.7h0M471.5 65.7h0M504.7 81.7h0M492.3 85.0h0M499.0 102.3h0M496.2 102.0h0M494.4 50.8h0M492.2 89.5h0M508.7 106.4h0M503.4 72.9h0M498.0 101.9h0M508.3 70.2h0M510.8 63.6h0M498.2 136.6h0M497.7 94.4h0M488.8 67.8h0M499.9 133.9h0M518.1 38.9h0M529.5 61.9h0M482.4 104.1h0M502.2 82.1h0M499.3 117.6h0M495.7 111.2h0M507.3 55.9h0M470.6 82.8h0M510.3 43.5h0M464.3 103.9h0M529.5 76.1h0M510.6 46.0h0M492.9 136.0h0M497.3 128.6h0M481.1 65.6h0M501.2 108.4h0M502.2 79.2h0M476.3 129.8h0M467.1 107.8h0M467.4 71.7h0M484.5 76.7h0M498.4 73.8h0M467.5 97.8h0M503.5 110.2h0M529.3 71.4h0M506.5 72.3h0M479.5 122.3h0M519.1 46.1h0M471.0 103.3h0M488.3 136.8h0M479.9 61.9h0M482.6 84.8h0M469.4 115.4h0M487.9 90.0h0M466.9 109.0h0M467.4 88.6h0M491.6 65.5h0M491.7 62.7h0M462.3 75.0h0M503.0 50.3h0M480.8 92.8h0M485.2 125.3h0M499.4 85.9h0M506.5 73.7h0M527.2 80.3h0M478.5 104.9h0M519.7 74.2h0M475.0 103.7h0M476.5 93.6h0M528.9 43.8h0M506.8 116.5h0M510.3 40.2h0M478.9 80.8h0M483.8 71.8h0M467.5 106.1h0M475.8 104.9h0M502.1 91.6h0M472.9 107.5h0M462.9 89.2h0M529.9 80.3h0M477.1 141.8h0M480.6 83.4h0M493.1 95.3h0M517.3 76.9h0M508.3 69.8h0M528.5 51.7h0M525.2 59.6h0M530.0 58.7h0M524.0 68.5h0M477.5 60.3h0M512.9 70.1h0M472.9 66.3h0M472.9 86.4h0M478.8 98.2h0M499.2 115.5h0M498.9 50.7h0M500.3 55.3h0M499.0 133.4h0M484.3 80.4h0M485.2 62.6h0M483.0 65.9h0M507.5 44.6h0M529.3 64.1h0M530.2 59.5h0M481.0 121.1h0M487.0 72.4h0M495.6 86.8h0M502.5 107.1h0M499.4 131.5h0M513.0 44.7h0M493.3 79.6h0M508.0 74.9h0M482.8 120.6h0M504.6 99.0h0M465.4 80.9h0M505.9 80.0h0M501.2 90.5h0M491.9 108.5h0M500.6 88.8h0M516.9 42.5h0M471.3 94.0h0M508.0 86.4h0M521.9 80.3h0M468.4 98.4h0M515.7 73.3h0M488.5 55.1h0M496.0 57.8h0M490.8 80.7h0M511.9 66.5h0M490.4 61.7h0M507.9 77.9h0M475.3 125.7h0M464.5 90.2h0M495.0 111.8h0M523.8 45.6h0M536.3 61.5h0M501.7 99.0h0M509.5 60.6h0M494.3 119.6h0M521.7 62.7h0M459.4 98.0h0M481.5 142.4h0M484.6 87.9h0M514.1 50.2h0M500.4 47.3h0M537.8 73.3h0M494.3 132.5h0M464.2 119.1h0M492.1 115.2h0M490.6 76.5h0M495.2 118.0h0M467.3 116.2h0M475.2 112.4h0M484.7 83.9h0M489.9 81.9h0M501.8 122.9h0M467.4 117.0h0M483.1 133.4h0M502.7 123.3h0M531.5 67.8h0M490.9 91.9h0M485.7 73.2h0M499.7 107.0h0M471.8 79.4h0M512.3 62.7h0M523.7 48.1h0M467.3 73.7h0M470.8 115.1h0M498.6 85.6h0M474.6 100.0h0M476.1 116.7h0M475.5 94.7h0M493.8 62.5h0M483.6 130.9h0M496.4 57.8h0M468.0 80.1h0M508.3 81.3h0M531.9 77.4h0M509.2 89.1h0M509.8 75.4h0M502.7 99.2h0M489.0 115.0h0M480.2 77.2h0M518.2 38.5h0M505.8 106.4h0M528.0 40.8h0M463.2 96.1h0M491.9 129.9h0M495.1 123.2h0M499.7 92.7h0M489.5 75.6h0M506.6 49.3h0M473.9 102.6h0M508.9 56.4h0M482.2 91.8h0M517.3 56.6h0M504.5 94.9h0M498.8 51.7h0M481.1 135.3h0M495.9 97.7h0M495.5 84.2h0M471.5 80.7h0M493.2 70.9h0M475.2 89.1h0M461.3 81.4h0M500.0 48.4h0M474.8 72.7h0M468.2 121.7h0M457.5 78.1h0M526.0 37.7h0M485.4 79.6h0M488.3 109.1h0M473.7 107.8h0M510.9 88.9h0M473.4 88.6h0M471.9 112.7h0M502.0 52.4h0M501.2 104.2h0M500.1 62.3h0M498.2 86.1h0M467.8 102.2h0M497.4 72.6h0M518.4 72.1h0M492.1 67.6h0M473.9 61.8h0M477.4 120.0h0M527.6 52.1h0M509.3 80.4h0M513.2 43.7h0M481.2 89.4h0M496.9 116.5h0M486.6 136.5h0M509.0 68.7h0M493.0 109.3h0M500.5 99.6h0M481.4 102.9h0M492.8 78.2h0M503.7 68.2h0M483.0 92.8h0M486.4 77.7h0M470.0 77.0h0M504.7 42.4h0M469.3 108.7h0M482.0 57.8h0M488.6 138.3h0M507.0 63.6h0M517.1 76.4h0M493.2 99.6h0M491.0 89.4h0M476.4 137.6h0M505.4 56.0h0M471.7 73.6h0M495.2 52.9h0M488.1 93.9h0M504.5 87.1h0M501.8 116.4h0M490.7 115.2h0M484.0 102.7h0M491.0 131.7h0M484.8 137.7h0M506.7 78.5h0M468.0 96.0h0M526.2 40.2h0M473.9 113.7h0M501.5 125.5h0M513.2 52.8h0M506.6 83.6h0M472.0 73.5h0M495.0 83.0h0M489.3 123.5h0M521.6 70.3h0M508.4 95.5h0M485.6 50.6h0M490.2 96.3h0M505.2 103.0h0M492.4 140.3h0M506.0 65.3h0M483.6 95.2h0M497.2 92.1h0M504.0 98.9h0M519.6 64.1h0M492.2 108.8h0M473.3 58.2h0M522.1 50.6h0M477.8 124.4h0M471.1 66.8h0M509.2 48.7h0M467.6 74.1h0M526.6 41.8h0M496.4 84.2h0M526.0 51.8h0M537.2 77.4h0M475.2 109.7h0M468.3 73.9h0M493.1 104.9h0M491.5 79.4h0M468.1 93.5h0M479.3 69.4h0M493.5 134.2h0M480.1 81.0h0M478.5 80.3h0M512.1 69.9h0M508.3 62.0h0M463.9 90.7h0M499.6 83.1h0M497.7 137.0h0M496.9 50.9h0M495.7 103.6h0M487.4 106.1h0M481.9 77.7h0M522.0 47.4h0M480.1 135.6h0M482.1 139.8h0M461.5 89.7h0M509.1 55.3h0M486.5 60.7h0M480.0 65.1h0M507.7 68.6h0M495.0 85.3h0M489.9 144.4h0M489.6 99.9h0M494.4 56.2h0M477.0 137.9h0M480.0 102.0h0M530.5 75.5h0M473.0 115.7h0M470.4 102.7h0M532.5 77.7h0M494.3 89.1h0M491.6 124.0h0M512.9 78.7h0M483.7 53.3h0M522.7 57.4h0M477.9 80.8h0M492.5 134.7h0M481.0 135.4h0M477.9 64.5h0M475.9 73.3h0M506.4 49.0h0M513.5 64.3h0M505.3 71.5h0M490.4 66.5h0M516.6 75.9h0M527.6 68.8h0M479.4 85.3h0M533.9 54.9h0M473.1 112.2h0M472.1 82.9h0M522.2 42.6h0M511.2 60.9h0M524.7 36.9h0M505.3 49.4h0M501.2 93.1h0M505.3 114.2h0M501.2 81.6h0M489.6 69.3h0M491.9 97.6h0M502.4 69.9h0M483.3 136.8h0M514.3 71.7h0M493.2 114.5h0M504.8 45.1h0M468.5 74.0h0M520.7 58.4h0M503.8 113.0h0M491.6 81.0h0M504.6 72.1h0M485.4 62.7h0M480.1 94.1h0M523.2 81.5h0M481.3 112.4h0M493.6 98.3h0M478.1 70.2h0M479.8 79.0h0M489.6 137.3h0M503.2 65.5h0M486.5 62.5h0M493.7 87.1h0M484.3 97.9h0M494.4 116.5h0M523.0 51.5h0M488.7 83.2h0M501.9 48.9h0M506.9 71.1h0M523.1 61.1h0M507.5 60.4h0M470.7 100.8h0M500.1 75.9h0M473.7 135.0h0M527.3 56.3h0M502.6 100.9h0M499.6 94.8h0M490.4 106.6h0M481.2 109.9h0M495.8 51.8h0M516.1 74.6h0M494.5 64.0h0M509.4 63.3h0M480.1 86.1h0M466.3 73.7h0M492.1 67.8h0M494.3 131.9h0M505.1 83.2h0M498.1 99.0h0M497.3 109.5h0M475.6 71.7h0M514.8 94.0h0M467.3 83.6h0M533.8 66.4h0M477.5 85.9h0M458.5 78.4h0M466.8 82.3h0M487.5 109.6h0M481.3 71.2h0M471.0 75.5h0M528.9 76.0h0M496.8 99.2h0M481.7 79.0h0M502.9 81.4h0M479.2 79.4h0M479.2 99.8h0M528.8 73.2h0M479.3 61.5h0M495.7 45.1h0M485.3 78.2h0M468.1 109.1h0M507.9 58.0h0M480.3 61.4h0M491.8 106.9h0M491.2 123.8h0M531.8 63.9h0M475.2 96.2h0M500.0 126.8h0M491.0 129.6h0M499.4 84.6h0M515.1 52.5h0M484.4 72.4h0M484.9 127.2h0M489.9 96.8h0M508.1 104.4h0M520.7 77.0h0M475.9 79.8h0M487.4 55.2h0M492.2 104.7h0M500.7 56.9h0M507.7 93.8h0M490.9 121.7h0M478.3 62.9h0M534.6 62.8h0M504.7 88.7h0M489.3 77.9h0M491.5 74.3h0M501.3 122.7h0M532.0 56.0h0M536.9 74.5h0M487.0 62.3h0M479.3 107.1h0M521.7 80.0h0M499.4 100.8h0M519.9 69.7h0M494.3 52.7h0M517.5 52.8h0M531.7 59.7h0M492.5 71.4h0M469.3 123.2h0M491.7 88.3h0M488.5 122.6h0M462.5 96.2h0M500.6 108.8h0M486.2 127.0h0M524.0 60.5h0M467.3 86.2h0M490.6 57.4h0M510.5 68.4h0M497.1 50.7h0M513.5 38.9h0M469.0 102.2h0M520.0 60.3h0M506.1 58.6h0M486.9 97.7h0M505.0 88.7h0M465.6 93.7h0M494.4 55.4h0M468.4 100.0h0M504.6 67.9h0M529.3 67.0h0M500.5 61.9h0M485.1 137.0h0M465.9 93.8h0M501.7 82.6h0M469.8 63.4h0M484.3 64.2h0M507.4 64.6h0M507.9 50.8h0M526.1 43.8h0M509.1 89.8h0M519.2 61.4h0M473.9 67.4h0M486.2 104.6h0M503.8 59.5h0M474.1 107.8h0M525.8 48.9h0M472.2 118.2h0M508.5 69.2h0M495.5 51.6h0M494.9 51.2h0M467.4 85.8h0M484.8 87.0h0M529.5 76.0h0M517.7 59.4h0M479.9 77.6h0M466.9 75.3h0M463.6 82.3h0M530.2 83.5h0M478.8 71.7h0M520.2 68.0h0M506.5 72.7h0M494.9 71.2h0M496.7 98.0h0M507.0 79.1h0M467.8 99.3h0M463.6 71.5h0M524.2 50.9h0M489.1 140.1h0M477.5 58.0h0M486.1 99.6h0M476.4 59.1h0M503.7 54.8h0M506.9 66.3h0M501.1 120.3h0M468.7 113.8h0M486.1 110.9h0M499.1 124.2h0M469.0 105.1h0M484.8 133.8h0M476.8 111.6h0M485.3 51.3h0M504.8 79.8h0M475.3 110.3h0M484.4 104.0h0M500.2 72.2h0M479.1 60.0h0M499.3 110.4h0M498.1 81.0h0M487.1 130.2h0M472.9 78.1h0M516.9 76.9h0M489.5 78.1h0M500.4 68.8h0M487.7 61.8h0M489.9 130.4h0M505.8 80.5h0M459.7 110.9h0M490.6 130.6h0M467.2 123.3h0M467.2 105.8h0M466.3 113.4h0M495.7 86.4h0M492.3 100.5h0M481.2 116.9h0M475.3 127.6h0M484.5 47.8h0M473.3 120.7h0M525.8 45.9h0M475.8 101.4h0M530.7 70.9h0M479.6 85.0h0M485.8 136.4h0M484.7 72.4h0M516.0 39.5h0M516.8 40.3h0M517.8 37.4h0M516.7 39.6h0M516.7 38.7h0M522.8 40.9h0M520.1 34.8h0M513.9 40.3h0M520.6 35.0h0M514.6 38.7h0M518.0 37.2h0M518.1 38.4h0M519.9 39.5h0M518.6 40.1h0M523.5 37.3h0M517.0 39.5h0M526.2 40.1h0M523.2 38.7h0M521.9 36.6h0M522.5 44.1h0M522.0 39.5h0M520.2 40.0h0M519.1 37.3h0M520.2 36.3h0M518.4 36.7h0M520.8 39.6h0M518.6 41.5h0M518.1 33.7h0M516.9 43.0h0M519.3 40.7h0M516.7 38.1h0M516.5 41.0h0M517.2 42.6h0M520.1 41.2h0M523.3 36.6h0M519.6 39.5h0M519.6 40.2h0M517.5 38.6h0M516.8 38.1h0M518.8 43.1h0M521.3 34.0h0M519.3 38.4h0M519.8 39.7h0M516.0 41.2h0M520.6 41.3h0M521.1 40.1h0M517.2 39.9h0M517.3 34.7h0M516.9 36.1h0M517.6 41.7h0M513.5 38.5h0M519.4 36.3h0M517.3 36.8h0M516.1 95.2h0M527.4 85.7h0M525.9 99.1h0M530.2 93.9h0M510.8 97.6h0M513.2 100.2h0M512.8 86.3h0M522.3 97.8h0M532.0 90.6h0M525.7 97.8h0M515.0 93.5h0M510.2 90.8h0M516.3 90.0h0M521.6 85.0h0M533.4 89.3h0M530.8 83.7h0M532.6 98.6h0M533.4 84.4h0M532.2 91.8h0M516.6 96.2h0M531.6 98.0h0M531.0 94.4h0M524.7 88.8h0M516.6 84.1h0M513.4 95.6h0M521.2 83.1h0M515.2 92.7h0M528.0 91.3h0M531.7 93.0h0M527.7 86.8h0M523.2 97.1h0M518.6 98.9h0M522.1 91.1h0M519.6 96.2h0M523.0 82.8h0M520.6 88.5h0M514.6 82.7h0M531.2 95.9h0M532.2 96.6h0M525.5 85.4h0M523.1 86.2h0M532.4 95.4h0M519.8 100.2h0M527.0 91.8h0M518.7 95.5h0M518.9 88.9h0M517.5 89.0h0M529.9 96.0h0M515.3 97.2h0M510.7 88.4h0M531.2 82.9h0M528.0 95.8h0M530.3 92.3h0M531.0 89.8h0M528.4 96.0h0M526.7 94.1h0M524.0 96.2h0M528.6 96.3h0M524.4 93.9h0M530.6 94.4h0M532.5 94.1h0M526.2 96.2h0M526.4 102.8h0M531.7 97.4h0M529.4 97.4h0M530.8 93.0h0M528.7 95.9h0M528.0 94.3h0M529.2 95.3h0M526.9 96.3h0M540.3 114.3h0M527.3 107.4h0M532.5 114.5h0M526.6 103.7h0M524.2 103.7h0M540.6 121.7h0M534.3 111.6h0M527.9 107.0h0M538.9 117.5h0M528.5 104.2h0M532.0 113.3h0M528.2 109.0h0M537.0 117.2h0M526.8 106.6h0M529.4 112.6h0M528.7 106.8h0M531.7 108.2h0M521.4 99.8h0M536.5 120.2h0M535.3 119.0h0M539.8 120.0h0M524.9 109.2h0M535.8 118.2h0M535.8 114.5h0M538.2 121.1h0M523.2 101.6h0M528.0 105.2h0M528.5 109.6h0M537.1 114.8h0M538.3 119.5h0M541.1 121.0h0M532.3 110.5h0M538.7 121.7h0M533.6 108.8h0M533.4 116.9h0M528.0 106.2h0M528.7 106.6h0M526.0 104.5h0M534.1 114.2h0M529.3 105.8h0M538.9 124.0h0M525.8 109.3h0M537.9 117.5h0M527.9 114.2h0M526.6 105.4h0M535.9 124.8h0M529.9 112.4h0M528.6 112.0h0M525.7 103.5h0M525.7 104.9h0M528.1 108.5h0M533.9 118.0h0M539.1 121.9h0M532.7 111.7h0M535.4 120.1h0M528.1 107.5h0M521.0 104.4h0M530.9 112.9h0M528.3 115.5h0M538.0 112.8h0M531.0 110.6h0M553.6 110.1h0M554.0 107.4h0M556.5 100.9h0M551.6 110.7h0M552.2 105.9h0M551.2 105.5h0M559.0 100.2h0M557.4 101.4h0M549.8 98.9h0M560.7 104.1h0M549.9 109.0h0M560.2 108.0h0M560.7 111.2h0M557.6 104.5h0M551.2 102.5h0M554.4 107.1h0M558.1 108.9h0M548.6 100.9h0M557.4 106.8h0M561.3 107.1h0M551.1 108.2h0M557.8 109.5h0M552.3 111.2h0M553.0 108.2h0M556.2 106.8h0M552.6 107.2h0M554.5 98.8h0M554.2 104.2h0M553.8 113.2h0M552.8 104.9h0M561.5 104.1h0M554.0 107.6h0M558.9 108.9h0M559.3 108.3h0M556.8 102.9h0M550.7 113.2h0M553.4 115.5h0M554.0 112.0h0M558.6 108.4h0M550.8 105.8h0M558.1 112.8h0M557.7 106.6h0M550.8 99.8h0M558.7 106.6h0M559.4 109.0h0M558.8 101.7h0M552.4 89.0h0M552.2 96.0h0M553.7 93.1h0M551.7 94.3h0M554.0 89.6h0M552.7 95.1h0M445.1 110.3h0M444.3 94.1h0M452.7 108.2h0M445.9 108.1h0M449.4 103.7h0M443.5 97.1h0M445.5 94.7h0M518.4 131.7h0M527.8 125.6h0M528.6 128.5h0M524.5 134.2h0M527.4 133.4h0M520.5 129.1h0M526.5 125.6h0M522.4 133.3h0M518.2 126.7h0M522.1 141.7h0M521.7 142.4h0M522.8 135.7h0M520.7 138.8h0" stroke="#F8766D" stroke-width="0.98" stroke-linecap="round" opacity="0.9"/>
<text x="505.90" y="28.00" font-size="7.4" textLength="33.30" lengthAdjust="spacingAndGlyphs">Condition</text>
<text x="558.00" y="33.40" font-size="7.3" textLength="37.00" lengthAdjust="spacingAndGlyphs">7α,25-OHC</text>
<circle cx="560" cy="40.2" r="1.75" fill="#F8766D"/><circle cx="560" cy="51.9" r="1.75" fill="#00BFC4"/>
<text x="567" y="42.7" font-size="7.3" fill="#231f20" textLength="73.4" lengthAdjust="spacingAndGlyphs">Not added (<tspan font-style="italic">n</tspan> = 4,079)</text>
<text x="567" y="54.4" font-size="7.3" fill="#231f20" textLength="59.1" lengthAdjust="spacingAndGlyphs">Added (<tspan font-style="italic">n</tspan> = 4,377)</text>
<text x="-0.50" y="199.80" font-size="12.2" font-weight="bold" fill="#000">c</text>
<text x="16.40" y="199.90" font-size="10.2" textLength="102.70" lengthAdjust="spacingAndGlyphs">GPCRs remodel the cell</text>
<text x="16.80" y="210.60" font-size="10.2" textLength="130.40" lengthAdjust="spacingAndGlyphs">transcriptome in the presence</text>
<text x="16.80" y="221.20" font-size="10.2" textLength="54.40" lengthAdjust="spacingAndGlyphs">of the ligand</text>
<line x1="43.80" y1="240.00" x2="43.80" y2="313.50" stroke="#3a3a3a" stroke-width="0.55"/>
<line x1="41.20" y1="313.50" x2="43.80" y2="313.50" stroke="#3a3a3a" stroke-width="0.5"/>
<text x="38.80" y="315.40" font-size="5.6" text-anchor="end" fill="#3a3a3a">0</text>
<line x1="41.20" y1="299.12" x2="43.80" y2="299.12" stroke="#3a3a3a" stroke-width="0.5"/>
<text x="38.80" y="301.02" font-size="5.6" text-anchor="end" fill="#3a3a3a">100</text>
<line x1="41.20" y1="284.74" x2="43.80" y2="284.74" stroke="#3a3a3a" stroke-width="0.5"/>
<text x="38.80" y="286.64" font-size="5.6" text-anchor="end" fill="#3a3a3a">200</text>
<line x1="41.20" y1="270.36" x2="43.80" y2="270.36" stroke="#3a3a3a" stroke-width="0.5"/>
<text x="38.80" y="272.26" font-size="5.6" text-anchor="end" fill="#3a3a3a">300</text>
<line x1="41.20" y1="255.98" x2="43.80" y2="255.98" stroke="#3a3a3a" stroke-width="0.5"/>
<text x="38.80" y="257.88" font-size="5.6" text-anchor="end" fill="#3a3a3a">400</text>
<line x1="41.20" y1="241.60" x2="43.80" y2="241.60" stroke="#3a3a3a" stroke-width="0.5"/>
<text x="38.80" y="243.50" font-size="5.6" text-anchor="end" fill="#3a3a3a">500</text>
<text x="21.60" y="277.50" font-size="7.2" text-anchor="middle" textLength="56.00" lengthAdjust="spacingAndGlyphs" transform="rotate(-90 21.60 277.50)">Number of DEGs</text>
<rect x="47.00" y="233.69" width="3.75" height="79.81" fill="#a8d9ea" stroke="#3c3c3c" stroke-width="0.45"/>
<rect x="50.75" y="293.22" width="3.75" height="20.28" fill="#b9b9b9" stroke="#3c3c3c" stroke-width="0.45"/>
<text x="52.75" y="316.00" font-size="5.6" text-anchor="end" font-style="italic" fill="#3a3a3a" transform="rotate(-90 52.75 316.00)">C5AR1</text>
<rect x="57.27" y="256.99" width="3.75" height="56.51" fill="#a8d9ea" stroke="#3c3c3c" stroke-width="0.45"/>
<rect x="61.02" y="311.63" width="3.75" height="1.87" fill="#b9b9b9" stroke="#3c3c3c" stroke-width="0.45"/>
<text x="63.02" y="316.00" font-size="5.6" text-anchor="end" font-style="italic" fill="#3a3a3a" transform="rotate(-90 63.02 316.00)">GPR183</text>
<rect x="67.54" y="309.33" width="3.75" height="4.17" fill="#a8d9ea" stroke="#3c3c3c" stroke-width="0.45"/>
<rect x="71.29" y="306.17" width="3.75" height="7.33" fill="#b9b9b9" stroke="#3c3c3c" stroke-width="0.45"/>
<text x="73.29" y="316.00" font-size="5.6" text-anchor="end" font-style="italic" fill="#3a3a3a" transform="rotate(-90 73.29 316.00)">GPR34</text>
<rect x="77.81" y="310.05" width="3.75" height="3.45" fill="#a8d9ea" stroke="#3c3c3c" stroke-width="0.45"/>
<rect x="81.56" y="310.05" width="3.75" height="3.45" fill="#b9b9b9" stroke="#3c3c3c" stroke-width="0.45"/>
<text x="83.56" y="316.00" font-size="5.6" text-anchor="end" font-style="italic" fill="#3a3a3a" transform="rotate(-90 83.56 316.00)">GPR18</text>
<rect x="88.08" y="310.34" width="3.75" height="3.16" fill="#a8d9ea" stroke="#3c3c3c" stroke-width="0.45"/>
<rect x="91.83" y="298.26" width="3.75" height="15.24" fill="#b9b9b9" stroke="#3c3c3c" stroke-width="0.45"/>
<text x="93.83" y="316.00" font-size="5.6" text-anchor="end" font-style="italic" fill="#3a3a3a" transform="rotate(-90 93.83 316.00)">GPR84</text>
<rect x="98.35" y="312.21" width="3.75" height="1.29" fill="#a8d9ea" stroke="#3c3c3c" stroke-width="0.45"/>
<rect x="102.10" y="312.78" width="3.75" height="0.72" fill="#b9b9b9" stroke="#3c3c3c" stroke-width="0.45"/>
<text x="104.10" y="316.00" font-size="5.6" text-anchor="end" font-style="italic" fill="#3a3a3a" transform="rotate(-90 104.10 316.00)">CXCR2</text>
<rect x="108.62" y="313.21" width="3.75" height="0.29" fill="#a8d9ea" stroke="#3c3c3c" stroke-width="0.45"/>
<rect x="112.37" y="313.07" width="3.75" height="0.43" fill="#b9b9b9" stroke="#3c3c3c" stroke-width="0.45"/>
<text x="114.37" y="316.00" font-size="5.6" text-anchor="end" font-style="italic" fill="#3a3a3a" transform="rotate(-90 114.37 316.00)">LPAR2</text>
<text x="46.80" y="347.50" font-size="7.2" textLength="70.00" lengthAdjust="spacingAndGlyphs">CRISPRa target gene</text>
<text x="107.20" y="240.00" font-size="7.2" textLength="36.80" lengthAdjust="spacingAndGlyphs">7α,25-OHC</text>
<rect x="106.8" y="244.6" width="7.8" height="7.2" fill="#a8d9ea" stroke="#555" stroke-width="0.4"/>
<rect x="106.8" y="257.9" width="7.8" height="7.2" fill="#b9b9b9" stroke="#555" stroke-width="0.4"/>
<text x="119.80" y="250.60" font-size="7.2" textLength="22.50" lengthAdjust="spacingAndGlyphs">Added</text>
<text x="119.80" y="263.80" font-size="7.2" textLength="35.30" lengthAdjust="spacingAndGlyphs">Not added</text>
<text x="-0.40" y="375.20" font-size="11.8" font-weight="bold" fill="#000">d</text>
<text x="16.9" y="375.0" font-size="10.2" fill="#231f20" textLength="115.1" lengthAdjust="spacingAndGlyphs"><tspan font-style="italic">GPR183</tspan> CRISPRa signature</text>
<text x="16.90" y="386.10" font-size="10.2" textLength="141.90" lengthAdjust="spacingAndGlyphs">Overall expression in NK-92 cells</text>
<rect x="22.0" y="391.3" width="82.3" height="95.2" fill="none" stroke="#3a3a3a" stroke-width="0.55"/>
<line x1="19.40" y1="423.90" x2="22.00" y2="423.90" stroke="#3a3a3a" stroke-width="0.5"/>
<text x="17.00" y="425.90" font-size="5.8" text-anchor="end" fill="#3a3a3a">1</text>
<line x1="19.40" y1="455.50" x2="22.00" y2="455.50" stroke="#3a3a3a" stroke-width="0.5"/>
<text x="17.00" y="457.50" font-size="5.8" text-anchor="end" fill="#3a3a3a">0</text>
<line x1="44.40" y1="486.50" x2="44.40" y2="489.00" stroke="#3a3a3a" stroke-width="0.5"/>
<line x1="81.30" y1="486.50" x2="81.30" y2="489.00" stroke="#3a3a3a" stroke-width="0.5"/>
<text x="44.40" y="497.20" font-size="6.4" text-anchor="middle" fill="#3a3a3a" textLength="30.00" lengthAdjust="spacingAndGlyphs">Not added</text>
<text x="81.30" y="497.20" font-size="6.4" text-anchor="middle" fill="#3a3a3a" textLength="19.50" lengthAdjust="spacingAndGlyphs">Added</text>
<text x="63.30" y="507.70" font-size="7.3" text-anchor="middle" textLength="36.50" lengthAdjust="spacingAndGlyphs">7α,25-OHC</text>
<text x="6.60" y="438.50" font-size="7.2" text-anchor="middle" textLength="71.00" lengthAdjust="spacingAndGlyphs" transform="rotate(-90 6.60 438.50)">Signature expression</text>
<path d="M32.1 438.7V478.2" stroke="#555" stroke-width="0.5"/>
<path d="M32.1 405.4h0M32.1 418.2h0M32.1 410.9h0M32.1 420.7h0M32.1 421.6h0M32.1 398.2h0M32.1 396.0h0M32.1 430.4h0M32.1 406.3h0M32.1 405.3h0M32.1 437.0h0M32.1 415.1h0M32.1 430.3h0M32.1 415.3h0M32.1 422.1h0M32.1 401.8h0M32.1 421.9h0M32.1 431.7h0M32.1 417.3h0M32.1 426.4h0M32.1 423.5h0M32.1 398.2h0M32.1 481.8h0M32.1 481.4h0M32.1 480.6h0" stroke="#111" stroke-width="1.3" stroke-linecap="round"/>
<rect x="30.60" y="453.5" width="3.0" height="9.9" fill="#F4716A" stroke="#333" stroke-width="0.35"/>
<line x1="30.60" y1="458.10" x2="33.60" y2="458.10" stroke="#222" stroke-width="0.7"/>
<path d="M35.5 441.9V476.3" stroke="#cfcfcf" stroke-width="1.7"/>
<path d="M35.5 396.9h0M35.5 434.4h0M35.5 416.7h0M35.5 481.2h0M35.5 481.9h0M35.5 481.2h0" stroke="#111" stroke-width="1.3" stroke-linecap="round"/>
<rect x="34.00" y="454.8" width="3.0" height="8.6" fill="#DDA22A" stroke="#333" stroke-width="0.35"/>
<line x1="34.00" y1="459.00" x2="37.00" y2="459.00" stroke="#222" stroke-width="0.7"/>
<path d="M39.1 443.2V476.0" stroke="#555" stroke-width="0.5"/>
<path d="M39.1 438.1h0M39.1 413.7h0M39.1 481.5h0M39.1 479.7h0" stroke="#111" stroke-width="1.3" stroke-linecap="round"/>
<rect x="37.60" y="455.5" width="3.0" height="8.2" fill="#72B43A" stroke="#333" stroke-width="0.35"/>
<line x1="37.60" y1="459.40" x2="40.60" y2="459.40" stroke="#222" stroke-width="0.7"/>
<path d="M42.7 442.3V474.0" stroke="#cfcfcf" stroke-width="1.7"/>
<path d="M42.7 437.9h0M42.7 435.4h0M42.7 399.9h0M42.7 476.4h0M42.7 477.0h0" stroke="#111" stroke-width="1.3" stroke-linecap="round"/>
<rect x="41.20" y="454.2" width="3.0" height="7.9" fill="#22B865" stroke="#333" stroke-width="0.35"/>
<line x1="41.20" y1="457.50" x2="44.20" y2="457.50" stroke="#222" stroke-width="0.7"/>
<path d="M46.1 437.3V477.0" stroke="#555" stroke-width="0.5"/>
<path d="M46.1 434.5h0M46.1 413.1h0M46.1 420.8h0M46.1 407.6h0M46.1 416.0h0M46.1 411.1h0M46.1 409.7h0M46.1 419.1h0M46.1 480.8h0M46.1 482.1h0" stroke="#111" stroke-width="1.3" stroke-linecap="round"/>
<rect x="44.60" y="452.2" width="3.0" height="9.9" fill="#18BEC6" stroke="#333" stroke-width="0.35"/>
<line x1="44.60" y1="456.50" x2="47.60" y2="456.50" stroke="#222" stroke-width="0.7"/>
<path d="M49.6 440.6V478.6" stroke="#cfcfcf" stroke-width="1.7"/>
<path d="M49.6 425.2h0M49.6 436.0h0M49.6 432.8h0M49.6 438.7h0M49.6 424.7h0M49.6 402.6h0M49.6 433.0h0M49.6 437.5h0M49.6 434.9h0M49.6 420.3h0M49.6 426.6h0M49.6 404.7h0M49.6 431.7h0M49.6 420.5h0M49.6 407.9h0M49.6 398.3h0M49.6 482.1h0M49.6 482.5h0M49.6 480.3h0" stroke="#111" stroke-width="1.3" stroke-linecap="round"/>
<rect x="48.10" y="454.8" width="3.0" height="9.5" fill="#36A8F0" stroke="#333" stroke-width="0.35"/>
<line x1="48.10" y1="459.70" x2="51.10" y2="459.70" stroke="#222" stroke-width="0.7"/>
<path d="M53.2 441.4V475.4" stroke="#555" stroke-width="0.5"/>
<path d="M53.2 431.1h0M53.2 413.7h0M53.2 402.2h0M53.2 408.6h0M53.2 481.2h0M53.2 481.8h0" stroke="#111" stroke-width="1.3" stroke-linecap="round"/>
<rect x="51.70" y="454.2" width="3.0" height="8.5" fill="#AC7CD6" stroke="#333" stroke-width="0.35"/>
<line x1="51.70" y1="460.40" x2="54.70" y2="460.40" stroke="#222" stroke-width="0.7"/>
<path d="M56.6 441.9V479.1" stroke="#cfcfcf" stroke-width="1.7"/>
<path d="M56.6 397.5h0M56.6 423.1h0M56.6 397.5h0M56.6 427.7h0M56.6 410.3h0M56.6 435.0h0M56.6 439.5h0M56.6 418.2h0M56.6 440.3h0M56.6 409.4h0M56.6 399.0h0M56.6 422.4h0M56.6 396.9h0M56.6 404.4h0M56.6 413.8h0M56.6 422.9h0M56.6 402.5h0M56.6 397.4h0M56.6 434.4h0M56.6 409.6h0M56.6 482.4h0M56.6 482.3h0M56.6 481.3h0" stroke="#111" stroke-width="1.3" stroke-linecap="round"/>
<rect x="55.10" y="455.8" width="3.0" height="9.3" fill="#F060C0" stroke="#333" stroke-width="0.35"/>
<line x1="55.10" y1="460.40" x2="58.10" y2="460.40" stroke="#222" stroke-width="0.7"/>
<path d="M69.4 430.8V475.6" stroke="#555" stroke-width="0.5"/>
<path d="M69.4 411.1h0M69.4 413.1h0M69.4 417.3h0M69.4 415.6h0M69.4 414.4h0M69.4 416.5h0M69.4 427.3h0M69.4 412.6h0M69.4 410.1h0M69.4 419.8h0M69.4 403.5h0M69.4 405.7h0M69.4 428.5h0M69.4 413.1h0M69.4 414.0h0M69.4 395.9h0M69.4 409.5h0M69.4 415.1h0M69.4 396.2h0M69.4 416.3h0M69.4 416.9h0M69.4 397.5h0M69.4 480.5h0M69.4 479.6h0M69.4 480.8h0" stroke="#111" stroke-width="1.3" stroke-linecap="round"/>
<rect x="67.90" y="447.6" width="3.0" height="11.2" fill="#F4716A" stroke="#333" stroke-width="0.35"/>
<line x1="67.90" y1="452.50" x2="70.90" y2="452.50" stroke="#222" stroke-width="0.7"/>
<path d="M73.0 432.8V476.5" stroke="#cfcfcf" stroke-width="1.7"/>
<path d="M73.0 408.1h0M73.0 420.8h0M73.0 422.0h0M73.0 396.3h0M73.0 397.7h0M73.0 419.7h0M73.0 430.0h0M73.0 404.5h0M73.0 411.9h0M73.0 416.7h0M73.0 407.0h0M73.0 408.5h0M73.0 406.7h0M73.0 408.7h0M73.0 416.9h0M73.0 406.3h0M73.0 409.0h0M73.0 423.2h0M73.0 478.1h0M73.0 480.5h0" stroke="#111" stroke-width="1.3" stroke-linecap="round"/>
<rect x="71.50" y="449.2" width="3.0" height="10.9" fill="#DDA22A" stroke="#333" stroke-width="0.35"/>
<line x1="71.50" y1="453.50" x2="74.50" y2="453.50" stroke="#222" stroke-width="0.7"/>
<path d="M76.4 435.4V473.8" stroke="#555" stroke-width="0.5"/>
<path d="M76.4 423.7h0M76.4 407.4h0M76.4 404.0h0M76.4 426.4h0M76.4 404.7h0M76.4 402.7h0M76.4 412.2h0M76.4 422.3h0M76.4 399.4h0M76.4 407.9h0M76.4 408.3h0M76.4 427.5h0M76.4 478.5h0M76.4 481.5h0" stroke="#111" stroke-width="1.3" stroke-linecap="round"/>
<rect x="74.90" y="449.8" width="3.0" height="9.6" fill="#72B43A" stroke="#333" stroke-width="0.35"/>
<line x1="74.90" y1="454.20" x2="77.90" y2="454.20" stroke="#222" stroke-width="0.7"/>
<path d="M79.9 424.3V467.8" stroke="#cfcfcf" stroke-width="1.7"/>
<path d="M79.9 400.1h0M79.9 404.7h0M79.9 413.2h0M79.9 419.6h0M79.9 407.8h0M79.9 401.6h0M79.9 398.8h0M79.9 409.9h0M79.9 400.7h0M79.9 417.5h0M79.9 480.4h0" stroke="#111" stroke-width="1.3" stroke-linecap="round"/>
<rect x="78.40" y="440.6" width="3.0" height="10.9" fill="#22B865" stroke="#333" stroke-width="0.35"/>
<line x1="78.40" y1="446.30" x2="81.40" y2="446.30" stroke="#222" stroke-width="0.7"/>
<path d="M83.5 428.6V475.8" stroke="#555" stroke-width="0.5"/>
<path d="M83.5 401.3h0M83.5 404.3h0M83.5 421.0h0M83.5 415.8h0M83.5 421.0h0M83.5 406.4h0M83.5 399.6h0M83.5 404.7h0M83.5 420.6h0M83.5 404.1h0M83.5 406.4h0M83.5 408.7h0M83.5 408.8h0M83.5 408.4h0M83.5 482.1h0" stroke="#111" stroke-width="1.3" stroke-linecap="round"/>
<rect x="82.00" y="446.3" width="3.0" height="11.8" fill="#18BEC6" stroke="#333" stroke-width="0.35"/>
<line x1="82.00" y1="451.50" x2="85.00" y2="451.50" stroke="#222" stroke-width="0.7"/>
<path d="M86.9 435.8V472.6" stroke="#cfcfcf" stroke-width="1.7"/>
<path d="M86.9 401.6h0M86.9 395.7h0M86.9 432.1h0M86.9 429.6h0M86.9 433.8h0M86.9 412.4h0M86.9 432.4h0M86.9 431.5h0M86.9 404.1h0M86.9 424.4h0M86.9 428.0h0M86.9 421.2h0M86.9 415.6h0M86.9 406.7h0M86.9 477.0h0M86.9 476.0h0M86.9 474.7h0" stroke="#111" stroke-width="1.3" stroke-linecap="round"/>
<rect x="85.40" y="449.6" width="3.0" height="9.2" fill="#36A8F0" stroke="#333" stroke-width="0.35"/>
<line x1="85.40" y1="455.10" x2="88.40" y2="455.10" stroke="#222" stroke-width="0.7"/>
<path d="M90.5 426.1V477.3" stroke="#555" stroke-width="0.5"/>
<path d="M90.5 412.6h0M90.5 403.9h0M90.5 419.1h0M90.5 396.8h0M90.5 421.8h0M90.5 481.4h0" stroke="#111" stroke-width="1.3" stroke-linecap="round"/>
<rect x="89.00" y="445.3" width="3.0" height="12.8" fill="#AC7CD6" stroke="#333" stroke-width="0.35"/>
<line x1="89.00" y1="453.50" x2="92.00" y2="453.50" stroke="#222" stroke-width="0.7"/>
<path d="M94.0 434.3V476.7" stroke="#cfcfcf" stroke-width="1.7"/>
<path d="M94.0 430.0h0M94.0 428.9h0M94.0 429.1h0M94.0 417.0h0M94.0 396.0h0M94.0 423.3h0M94.0 401.9h0M94.0 406.7h0M94.0 420.2h0M94.0 415.1h0M94.0 410.9h0M94.0 430.5h0M94.0 418.3h0M94.0 408.2h0M94.0 404.9h0M94.0 427.6h0M94.0 413.3h0M94.0 424.7h0M94.0 408.6h0M94.0 402.9h0M94.0 480.5h0M94.0 481.7h0M94.0 478.9h0M94.0 481.6h0" stroke="#111" stroke-width="1.3" stroke-linecap="round"/>
<rect x="92.50" y="450.2" width="3.0" height="10.6" fill="#F060C0" stroke="#333" stroke-width="0.35"/>
<line x1="92.50" y1="455.50" x2="95.50" y2="455.50" stroke="#222" stroke-width="0.7"/>
<text x="109.50" y="397.80" font-size="7.2" textLength="28.60" lengthAdjust="spacingAndGlyphs">CRISPRa</text>
<text x="109.50" y="406.40" font-size="7.2" textLength="39.10" lengthAdjust="spacingAndGlyphs">target gene</text>
<rect x="110.2" y="413.00" width="5.3" height="3.3" fill="#F4716A" stroke="#444" stroke-width="0.3"/>
<text x="120" y="417.20" font-size="7.5" fill="#231f20" textLength="55.9" lengthAdjust="spacingAndGlyphs"><tspan font-style="italic">C5AR1</tspan> (<tspan font-style="italic">n</tspan> = 1,101)</text>
<rect x="110.2" y="422.40" width="5.3" height="3.3" fill="#DDA22A" stroke="#444" stroke-width="0.3"/>
<text x="120" y="426.60" font-size="7.5" fill="#231f20" textLength="53.6" lengthAdjust="spacingAndGlyphs"><tspan font-style="italic">CXCR2</tspan> (<tspan font-style="italic">n</tspan> = 220)</text>
<rect x="110.2" y="431.80" width="5.3" height="3.3" fill="#72B43A" stroke="#444" stroke-width="0.3"/>
<text x="120" y="436.00" font-size="7.5" fill="#231f20" textLength="51.6" lengthAdjust="spacingAndGlyphs"><tspan font-style="italic">GPR18</tspan> (<tspan font-style="italic">n</tspan> = 613)</text>
<rect x="110.2" y="441.20" width="5.3" height="3.3" fill="#22B865" stroke="#444" stroke-width="0.3"/>
<text x="120" y="445.40" font-size="7.5" fill="#231f20" textLength="58.2" lengthAdjust="spacingAndGlyphs"><tspan font-style="italic">GPR183</tspan> (<tspan font-style="italic">n</tspan> = 409)</text>
<rect x="110.2" y="450.60" width="5.3" height="3.3" fill="#18BEC6" stroke="#444" stroke-width="0.3"/>
<text x="120" y="454.80" font-size="7.5" fill="#231f20" textLength="49.6" lengthAdjust="spacingAndGlyphs"><tspan font-style="italic">GPR34</tspan> (<tspan font-style="italic">n</tspan> = 97)</text>
<rect x="110.2" y="460.00" width="5.3" height="3.3" fill="#36A8F0" stroke="#444" stroke-width="0.3"/>
<text x="120" y="464.20" font-size="7.5" fill="#231f20" textLength="59.8" lengthAdjust="spacingAndGlyphs"><tspan font-style="italic">GPR84</tspan> (<tspan font-style="italic">n</tspan> = 1,393)</text>
<rect x="110.2" y="469.40" width="5.3" height="3.3" fill="#AC7CD6" stroke="#444" stroke-width="0.3"/>
<text x="120" y="473.60" font-size="7.5" fill="#231f20" textLength="48.1" lengthAdjust="spacingAndGlyphs"><tspan font-style="italic">LPAR2</tspan> (<tspan font-style="italic">n</tspan> = 57)</text>
<rect x="110.2" y="478.80" width="5.3" height="3.3" fill="#F060C0" stroke="#444" stroke-width="0.3"/>
<text x="120" y="483.00" font-size="7.5" fill="#231f20" textLength="52.0" lengthAdjust="spacingAndGlyphs"><tspan>NTC</tspan> (<tspan font-style="italic">n</tspan> = 2,234)</text>
</svg></body></html>
